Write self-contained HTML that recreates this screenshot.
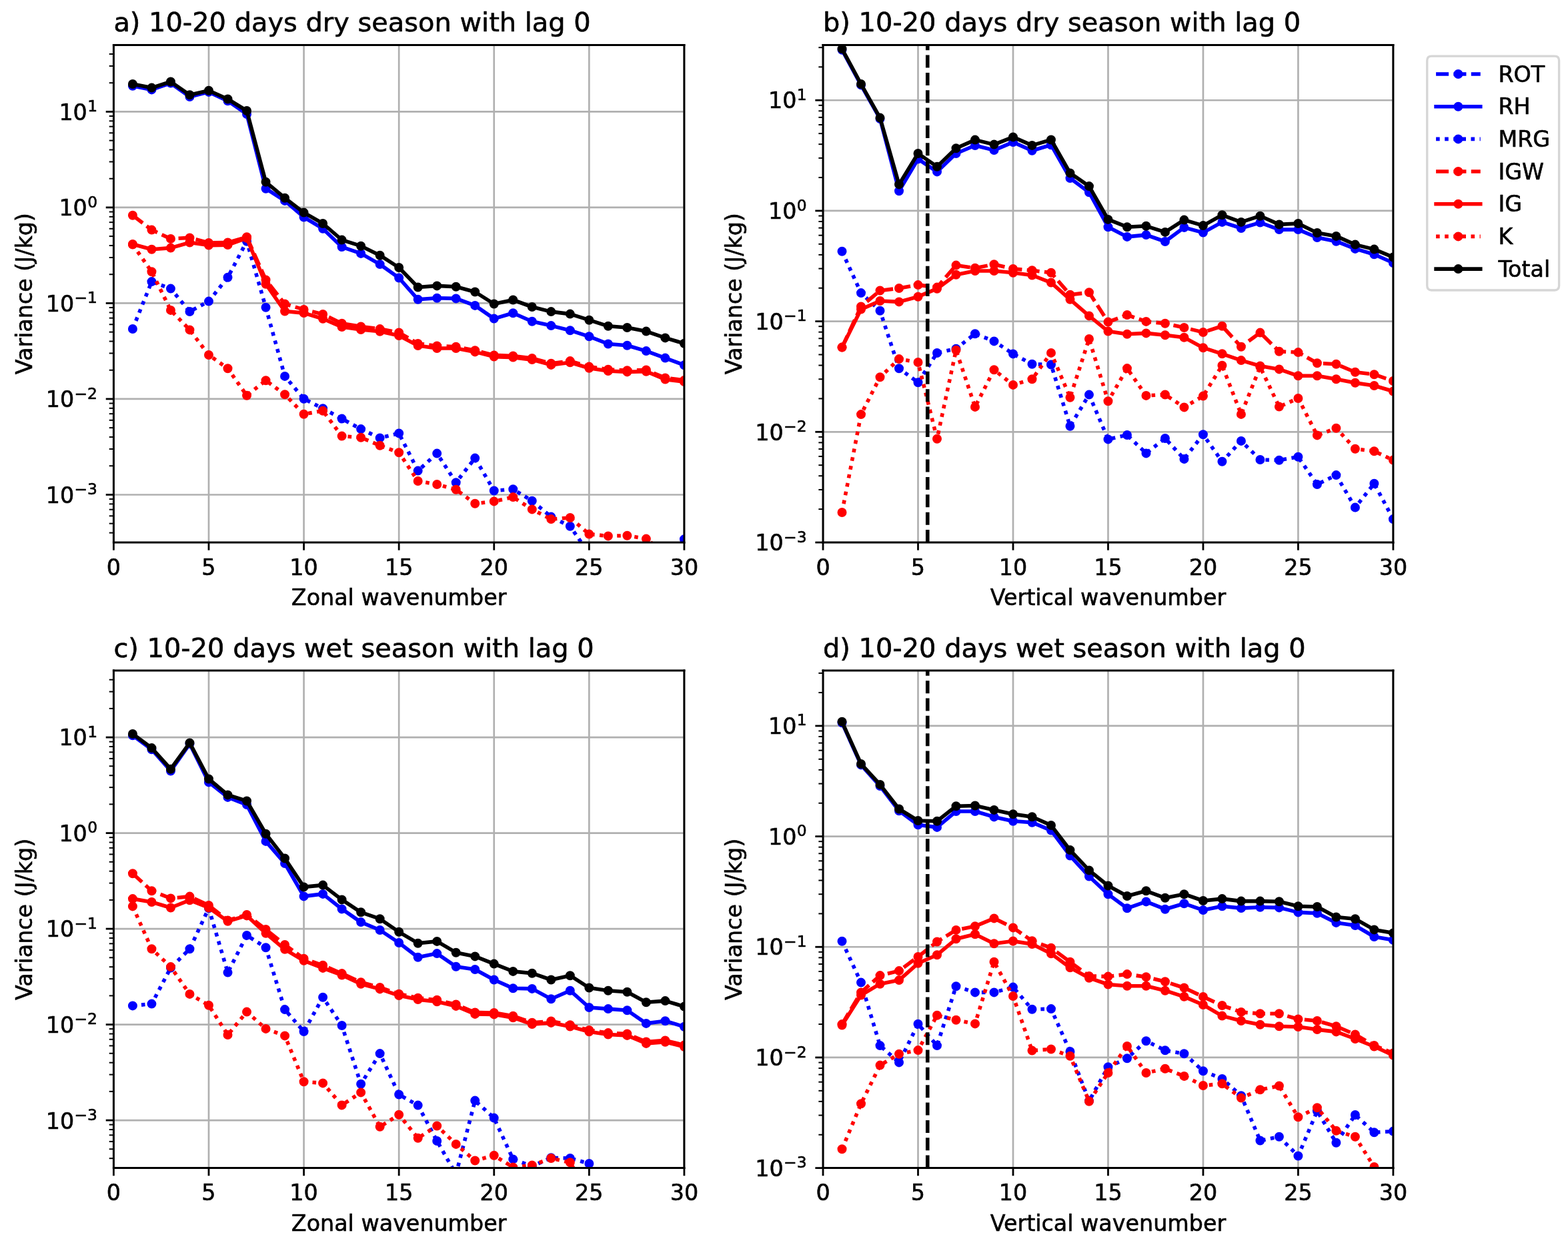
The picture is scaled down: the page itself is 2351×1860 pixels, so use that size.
<!DOCTYPE html>
<html><head><meta charset="utf-8"><title>Variance spectra</title>
<style>html,body{margin:0;padding:0;background:#fff;}svg{display:block;}svg text{stroke:#000;stroke-width:0.6px;stroke-linejoin:round;}</style></head>
<body>
<svg width="2351" height="1860" viewBox="0 0 2351 1860" version="1.1">
 
 <defs>
  <style type="text/css">*{stroke-linejoin: round; stroke-linecap: butt}</style>
 </defs>
 <g id="figure_1">
  <g id="patch_1">
   <path d="M 0 1860 
L 2351 1860 
L 2351 0 
L 0 0 
z
" style="fill: #ffffff"/>
  </g>
  <g id="axes_1">
   <g id="patch_2">
    <path d="M 170.4 813 
L 1025.9 813 
L 1025.9 67.4 
L 170.4 67.4 
z
" style="fill: #ffffff"/>
   </g>
   <g id="matplotlib.axis_1">
    <g id="xtick_1">
     <g id="line2d_1">
      <path d="M 170.4 813 
L 170.4 67.4 
" clip-path="url(#p8d8c2d2a24)" style="fill: none; stroke: #b0b0b0; stroke-width: 2.66664; stroke-linecap: square"/>
     </g>
     <g id="line2d_2">
      <defs>
       <path id="m4aa09e311d" d="M 0 0 
L 0 11.66655 
" style="stroke: #000000; stroke-width: 2.8"/>
      </defs>
      <g>
       <use href="#m4aa09e311d" x="170.4" y="813" style="stroke: #000000; stroke-width: 2.8"/>
      </g>
     </g>
     <g id="text_1">
      <text style="font-size: 33.33px; font-family: 'DejaVu Sans'; text-anchor: middle" x="170.4" y="861.658692" transform="rotate(-0 170.4 861.658692)">0</text>
     </g>
    </g>
    <g id="xtick_2">
     <g id="line2d_3">
      <path d="M 312.983333 813 
L 312.983333 67.4 
" clip-path="url(#p8d8c2d2a24)" style="fill: none; stroke: #b0b0b0; stroke-width: 2.66664; stroke-linecap: square"/>
     </g>
     <g id="line2d_4">
      <g>
       <use href="#m4aa09e311d" x="312.983333" y="813" style="stroke: #000000; stroke-width: 2.8"/>
      </g>
     </g>
     <g id="text_2">
      <text style="font-size: 33.33px; font-family: 'DejaVu Sans'; text-anchor: middle" x="312.983333" y="861.658692" transform="rotate(-0 312.983333 861.658692)">5</text>
     </g>
    </g>
    <g id="xtick_3">
     <g id="line2d_5">
      <path d="M 455.566667 813 
L 455.566667 67.4 
" clip-path="url(#p8d8c2d2a24)" style="fill: none; stroke: #b0b0b0; stroke-width: 2.66664; stroke-linecap: square"/>
     </g>
     <g id="line2d_6">
      <g>
       <use href="#m4aa09e311d" x="455.566667" y="813" style="stroke: #000000; stroke-width: 2.8"/>
      </g>
     </g>
     <g id="text_3">
      <text style="font-size: 33.33px; font-family: 'DejaVu Sans'; text-anchor: middle" x="455.566667" y="861.658692" transform="rotate(-0 455.566667 861.658692)">10</text>
     </g>
    </g>
    <g id="xtick_4">
     <g id="line2d_7">
      <path d="M 598.15 813 
L 598.15 67.4 
" clip-path="url(#p8d8c2d2a24)" style="fill: none; stroke: #b0b0b0; stroke-width: 2.66664; stroke-linecap: square"/>
     </g>
     <g id="line2d_8">
      <g>
       <use href="#m4aa09e311d" x="598.15" y="813" style="stroke: #000000; stroke-width: 2.8"/>
      </g>
     </g>
     <g id="text_4">
      <text style="font-size: 33.33px; font-family: 'DejaVu Sans'; text-anchor: middle" x="598.15" y="861.658692" transform="rotate(-0 598.15 861.658692)">15</text>
     </g>
    </g>
    <g id="xtick_5">
     <g id="line2d_9">
      <path d="M 740.733333 813 
L 740.733333 67.4 
" clip-path="url(#p8d8c2d2a24)" style="fill: none; stroke: #b0b0b0; stroke-width: 2.66664; stroke-linecap: square"/>
     </g>
     <g id="line2d_10">
      <g>
       <use href="#m4aa09e311d" x="740.733333" y="813" style="stroke: #000000; stroke-width: 2.8"/>
      </g>
     </g>
     <g id="text_5">
      <text style="font-size: 33.33px; font-family: 'DejaVu Sans'; text-anchor: middle" x="740.733333" y="861.658692" transform="rotate(-0 740.733333 861.658692)">20</text>
     </g>
    </g>
    <g id="xtick_6">
     <g id="line2d_11">
      <path d="M 883.316667 813 
L 883.316667 67.4 
" clip-path="url(#p8d8c2d2a24)" style="fill: none; stroke: #b0b0b0; stroke-width: 2.66664; stroke-linecap: square"/>
     </g>
     <g id="line2d_12">
      <g>
       <use href="#m4aa09e311d" x="883.316667" y="813" style="stroke: #000000; stroke-width: 2.8"/>
      </g>
     </g>
     <g id="text_6">
      <text style="font-size: 33.33px; font-family: 'DejaVu Sans'; text-anchor: middle" x="883.316667" y="861.658692" transform="rotate(-0 883.316667 861.658692)">25</text>
     </g>
    </g>
    <g id="xtick_7">
     <g id="line2d_13">
      <path d="M 1025.9 813 
L 1025.9 67.4 
" clip-path="url(#p8d8c2d2a24)" style="fill: none; stroke: #b0b0b0; stroke-width: 2.66664; stroke-linecap: square"/>
     </g>
     <g id="line2d_14">
      <g>
       <use href="#m4aa09e311d" x="1025.9" y="813" style="stroke: #000000; stroke-width: 2.8"/>
      </g>
     </g>
     <g id="text_7">
      <text style="font-size: 33.33px; font-family: 'DejaVu Sans'; text-anchor: middle" x="1025.9" y="861.658692" transform="rotate(-0 1025.9 861.658692)">30</text>
     </g>
    </g>
    <g id="text_8">
     <text style="font-size: 33.33px; font-family: 'DejaVu Sans'; text-anchor: middle" x="598.15" y="907.249083" transform="rotate(-0 598.15 907.249083)">Zonal wavenumber</text>
    </g>
   </g>
   <g id="matplotlib.axis_2">
    <g id="ytick_1">
     <g id="line2d_15">
      <path d="M 170.4 741.46086 
L 1025.9 741.46086 
" clip-path="url(#p8d8c2d2a24)" style="fill: none; stroke: #b0b0b0; stroke-width: 2.66664; stroke-linecap: square"/>
     </g>
     <g id="line2d_16">
      <defs>
       <path id="m0a65cb3548" d="M 0 0 
L -11.66655 0 
" style="stroke: #000000; stroke-width: 2.8"/>
      </defs>
      <g>
       <use href="#m0a65cb3548" x="170.4" y="741.46086" style="stroke: #000000; stroke-width: 2.8"/>
      </g>
     </g>
     <g id="text_9">
      
      <g transform="translate(68.7414 754.123656)">
       <text>
        <tspan x="0" y="-0.217188" style="font-size: 33.33px; font-family: 'DejaVu Sans'">1</tspan>
        <tspan x="21.234192" y="-0.217188" style="font-size: 33.33px; font-family: 'DejaVu Sans'">0</tspan>
        <tspan x="42.784204" y="-12.85" style="font-size: 23.331px; font-family: 'DejaVu Sans'">−</tspan>
        <tspan x="62.359424" y="-12.85" style="font-size: 23.331px; font-family: 'DejaVu Sans'">3</tspan>
       </text>
      </g>
     </g>
    </g>
    <g id="ytick_2">
     <g id="line2d_17">
      <path d="M 170.4 597.952055 
L 1025.9 597.952055 
" clip-path="url(#p8d8c2d2a24)" style="fill: none; stroke: #b0b0b0; stroke-width: 2.66664; stroke-linecap: square"/>
     </g>
     <g id="line2d_18">
      <g>
       <use href="#m0a65cb3548" x="170.4" y="597.952055" style="stroke: #000000; stroke-width: 2.8"/>
      </g>
     </g>
     <g id="text_10">
      
      <g transform="translate(68.7414 610.614851)">
       <text>
        <tspan x="0" y="-0.217188" style="font-size: 33.33px; font-family: 'DejaVu Sans'">1</tspan>
        <tspan x="21.234192" y="-0.217188" style="font-size: 33.33px; font-family: 'DejaVu Sans'">0</tspan>
        <tspan x="42.784204" y="-12.85" style="font-size: 23.331px; font-family: 'DejaVu Sans'">−</tspan>
        <tspan x="62.359424" y="-12.85" style="font-size: 23.331px; font-family: 'DejaVu Sans'">2</tspan>
       </text>
      </g>
     </g>
    </g>
    <g id="ytick_3">
     <g id="line2d_19">
      <path d="M 170.4 454.443249 
L 1025.9 454.443249 
" clip-path="url(#p8d8c2d2a24)" style="fill: none; stroke: #b0b0b0; stroke-width: 2.66664; stroke-linecap: square"/>
     </g>
     <g id="line2d_20">
      <g>
       <use href="#m0a65cb3548" x="170.4" y="454.443249" style="stroke: #000000; stroke-width: 2.8"/>
      </g>
     </g>
     <g id="text_11">
      
      <g transform="translate(68.7414 467.106045)">
       <text>
        <tspan x="0" y="-0.523438" style="font-size: 33.33px; font-family: 'DejaVu Sans'">1</tspan>
        <tspan x="21.234192" y="-0.523438" style="font-size: 33.33px; font-family: 'DejaVu Sans'">0</tspan>
        <tspan x="42.784204" y="-13.15625" style="font-size: 23.331px; font-family: 'DejaVu Sans'">−</tspan>
        <tspan x="62.359424" y="-13.15625" style="font-size: 23.331px; font-family: 'DejaVu Sans'">1</tspan>
       </text>
      </g>
     </g>
    </g>
    <g id="ytick_4">
     <g id="line2d_21">
      <path d="M 170.4 310.934443 
L 1025.9 310.934443 
" clip-path="url(#p8d8c2d2a24)" style="fill: none; stroke: #b0b0b0; stroke-width: 2.66664; stroke-linecap: square"/>
     </g>
     <g id="line2d_22">
      <g>
       <use href="#m0a65cb3548" x="170.4" y="310.934443" style="stroke: #000000; stroke-width: 2.8"/>
      </g>
     </g>
     <g id="text_12">
      
      <g transform="translate(88.4061 323.597239)">
       <text>
        <tspan x="0" y="-0.217188" style="font-size: 33.33px; font-family: 'DejaVu Sans'">1</tspan>
        <tspan x="21.234192" y="-0.217188" style="font-size: 33.33px; font-family: 'DejaVu Sans'">0</tspan>
        <tspan x="42.784204" y="-12.85" style="font-size: 23.331px; font-family: 'DejaVu Sans'">0</tspan>
       </text>
      </g>
     </g>
    </g>
    <g id="ytick_5">
     <g id="line2d_23">
      <path d="M 170.4 167.425638 
L 1025.9 167.425638 
" clip-path="url(#p8d8c2d2a24)" style="fill: none; stroke: #b0b0b0; stroke-width: 2.66664; stroke-linecap: square"/>
     </g>
     <g id="line2d_24">
      <g>
       <use href="#m0a65cb3548" x="170.4" y="167.425638" style="stroke: #000000; stroke-width: 2.8"/>
      </g>
     </g>
     <g id="text_13">
      
      <g transform="translate(88.4061 180.088434)">
       <text>
        <tspan x="0" y="-0.523438" style="font-size: 33.33px; font-family: 'DejaVu Sans'">1</tspan>
        <tspan x="21.234192" y="-0.523438" style="font-size: 33.33px; font-family: 'DejaVu Sans'">0</tspan>
        <tspan x="42.784204" y="-13.15625" style="font-size: 23.331px; font-family: 'DejaVu Sans'">1</tspan>
       </text>
      </g>
     </g>
    </g>
    <g id="ytick_6">
     <g id="line2d_25">
      <defs>
       <path id="mfb48398925" d="M 0 0 
L -6.6666 0 
" style="stroke: #000000; stroke-width: 2"/>
      </defs>
      <g>
       <use href="#mfb48398925" x="170.4" y="798.568756" style="stroke: #000000; stroke-width: 2"/>
      </g>
     </g>
    </g>
    <g id="ytick_7">
     <g id="line2d_26">
      <g>
       <use href="#mfb48398925" x="170.4" y="784.661316" style="stroke: #000000; stroke-width: 2"/>
      </g>
     </g>
    </g>
    <g id="ytick_8">
     <g id="line2d_27">
      <g>
       <use href="#mfb48398925" x="170.4" y="773.298109" style="stroke: #000000; stroke-width: 2"/>
      </g>
     </g>
    </g>
    <g id="ytick_9">
     <g id="line2d_28">
      <g>
       <use href="#mfb48398925" x="170.4" y="763.690656" style="stroke: #000000; stroke-width: 2"/>
      </g>
     </g>
    </g>
    <g id="ytick_10">
     <g id="line2d_29">
      <g>
       <use href="#mfb48398925" x="170.4" y="755.368301" style="stroke: #000000; stroke-width: 2"/>
      </g>
     </g>
    </g>
    <g id="ytick_11">
     <g id="line2d_30">
      <g>
       <use href="#mfb48398925" x="170.4" y="748.027463" style="stroke: #000000; stroke-width: 2"/>
      </g>
     </g>
    </g>
    <g id="ytick_12">
     <g id="line2d_31">
      <g>
       <use href="#mfb48398925" x="170.4" y="698.260405" style="stroke: #000000; stroke-width: 2"/>
      </g>
     </g>
    </g>
    <g id="ytick_13">
     <g id="line2d_32">
      <g>
       <use href="#mfb48398925" x="170.4" y="672.989759" style="stroke: #000000; stroke-width: 2"/>
      </g>
     </g>
    </g>
    <g id="ytick_14">
     <g id="line2d_33">
      <g>
       <use href="#mfb48398925" x="170.4" y="655.05995" style="stroke: #000000; stroke-width: 2"/>
      </g>
     </g>
    </g>
    <g id="ytick_15">
     <g id="line2d_34">
      <g>
       <use href="#mfb48398925" x="170.4" y="641.15251" style="stroke: #000000; stroke-width: 2"/>
      </g>
     </g>
    </g>
    <g id="ytick_16">
     <g id="line2d_35">
      <g>
       <use href="#mfb48398925" x="170.4" y="629.789304" style="stroke: #000000; stroke-width: 2"/>
      </g>
     </g>
    </g>
    <g id="ytick_17">
     <g id="line2d_36">
      <g>
       <use href="#mfb48398925" x="170.4" y="620.18185" style="stroke: #000000; stroke-width: 2"/>
      </g>
     </g>
    </g>
    <g id="ytick_18">
     <g id="line2d_37">
      <g>
       <use href="#mfb48398925" x="170.4" y="611.859495" style="stroke: #000000; stroke-width: 2"/>
      </g>
     </g>
    </g>
    <g id="ytick_19">
     <g id="line2d_38">
      <g>
       <use href="#mfb48398925" x="170.4" y="604.518657" style="stroke: #000000; stroke-width: 2"/>
      </g>
     </g>
    </g>
    <g id="ytick_20">
     <g id="line2d_39">
      <g>
       <use href="#mfb48398925" x="170.4" y="554.7516" style="stroke: #000000; stroke-width: 2"/>
      </g>
     </g>
    </g>
    <g id="ytick_21">
     <g id="line2d_40">
      <g>
       <use href="#mfb48398925" x="170.4" y="529.480953" style="stroke: #000000; stroke-width: 2"/>
      </g>
     </g>
    </g>
    <g id="ytick_22">
     <g id="line2d_41">
      <g>
       <use href="#mfb48398925" x="170.4" y="511.551144" style="stroke: #000000; stroke-width: 2"/>
      </g>
     </g>
    </g>
    <g id="ytick_23">
     <g id="line2d_42">
      <g>
       <use href="#mfb48398925" x="170.4" y="497.643704" style="stroke: #000000; stroke-width: 2"/>
      </g>
     </g>
    </g>
    <g id="ytick_24">
     <g id="line2d_43">
      <g>
       <use href="#mfb48398925" x="170.4" y="486.280498" style="stroke: #000000; stroke-width: 2"/>
      </g>
     </g>
    </g>
    <g id="ytick_25">
     <g id="line2d_44">
      <g>
       <use href="#mfb48398925" x="170.4" y="476.673044" style="stroke: #000000; stroke-width: 2"/>
      </g>
     </g>
    </g>
    <g id="ytick_26">
     <g id="line2d_45">
      <g>
       <use href="#mfb48398925" x="170.4" y="468.350689" style="stroke: #000000; stroke-width: 2"/>
      </g>
     </g>
    </g>
    <g id="ytick_27">
     <g id="line2d_46">
      <g>
       <use href="#mfb48398925" x="170.4" y="461.009852" style="stroke: #000000; stroke-width: 2"/>
      </g>
     </g>
    </g>
    <g id="ytick_28">
     <g id="line2d_47">
      <g>
       <use href="#mfb48398925" x="170.4" y="411.242794" style="stroke: #000000; stroke-width: 2"/>
      </g>
     </g>
    </g>
    <g id="ytick_29">
     <g id="line2d_48">
      <g>
       <use href="#mfb48398925" x="170.4" y="385.972148" style="stroke: #000000; stroke-width: 2"/>
      </g>
     </g>
    </g>
    <g id="ytick_30">
     <g id="line2d_49">
      <g>
       <use href="#mfb48398925" x="170.4" y="368.042339" style="stroke: #000000; stroke-width: 2"/>
      </g>
     </g>
    </g>
    <g id="ytick_31">
     <g id="line2d_50">
      <g>
       <use href="#mfb48398925" x="170.4" y="354.134898" style="stroke: #000000; stroke-width: 2"/>
      </g>
     </g>
    </g>
    <g id="ytick_32">
     <g id="line2d_51">
      <g>
       <use href="#mfb48398925" x="170.4" y="342.771692" style="stroke: #000000; stroke-width: 2"/>
      </g>
     </g>
    </g>
    <g id="ytick_33">
     <g id="line2d_52">
      <g>
       <use href="#mfb48398925" x="170.4" y="333.164239" style="stroke: #000000; stroke-width: 2"/>
      </g>
     </g>
    </g>
    <g id="ytick_34">
     <g id="line2d_53">
      <g>
       <use href="#mfb48398925" x="170.4" y="324.841883" style="stroke: #000000; stroke-width: 2"/>
      </g>
     </g>
    </g>
    <g id="ytick_35">
     <g id="line2d_54">
      <g>
       <use href="#mfb48398925" x="170.4" y="317.501046" style="stroke: #000000; stroke-width: 2"/>
      </g>
     </g>
    </g>
    <g id="ytick_36">
     <g id="line2d_55">
      <g>
       <use href="#mfb48398925" x="170.4" y="267.733988" style="stroke: #000000; stroke-width: 2"/>
      </g>
     </g>
    </g>
    <g id="ytick_37">
     <g id="line2d_56">
      <g>
       <use href="#mfb48398925" x="170.4" y="242.463342" style="stroke: #000000; stroke-width: 2"/>
      </g>
     </g>
    </g>
    <g id="ytick_38">
     <g id="line2d_57">
      <g>
       <use href="#mfb48398925" x="170.4" y="224.533533" style="stroke: #000000; stroke-width: 2"/>
      </g>
     </g>
    </g>
    <g id="ytick_39">
     <g id="line2d_58">
      <g>
       <use href="#mfb48398925" x="170.4" y="210.626093" style="stroke: #000000; stroke-width: 2"/>
      </g>
     </g>
    </g>
    <g id="ytick_40">
     <g id="line2d_59">
      <g>
       <use href="#mfb48398925" x="170.4" y="199.262887" style="stroke: #000000; stroke-width: 2"/>
      </g>
     </g>
    </g>
    <g id="ytick_41">
     <g id="line2d_60">
      <g>
       <use href="#mfb48398925" x="170.4" y="189.655433" style="stroke: #000000; stroke-width: 2"/>
      </g>
     </g>
    </g>
    <g id="ytick_42">
     <g id="line2d_61">
      <g>
       <use href="#mfb48398925" x="170.4" y="181.333078" style="stroke: #000000; stroke-width: 2"/>
      </g>
     </g>
    </g>
    <g id="ytick_43">
     <g id="line2d_62">
      <g>
       <use href="#mfb48398925" x="170.4" y="173.99224" style="stroke: #000000; stroke-width: 2"/>
      </g>
     </g>
    </g>
    <g id="ytick_44">
     <g id="line2d_63">
      <g>
       <use href="#mfb48398925" x="170.4" y="124.225182" style="stroke: #000000; stroke-width: 2"/>
      </g>
     </g>
    </g>
    <g id="ytick_45">
     <g id="line2d_64">
      <g>
       <use href="#mfb48398925" x="170.4" y="98.954536" style="stroke: #000000; stroke-width: 2"/>
      </g>
     </g>
    </g>
    <g id="ytick_46">
     <g id="line2d_65">
      <g>
       <use href="#mfb48398925" x="170.4" y="81.024727" style="stroke: #000000; stroke-width: 2"/>
      </g>
     </g>
    </g>
    <g id="text_14">
     <text style="font-size: 33.33px; font-family: 'DejaVu Sans'; text-anchor: middle" x="48.476602" y="440.2" transform="rotate(-90 48.476602 440.2)">Variance (J/kg)</text>
    </g>
   </g>
   <g id="line2d_66">
    <path d="M 198.916667 1602.513695 
L 227.433333 1602.513695 
L 255.95 1602.513695 
L 284.466667 1602.513695 
L 312.983333 1602.513695 
L 341.5 1602.513695 
L 370.016667 1602.513695 
L 398.533333 1602.513695 
L 427.05 1602.513695 
L 455.566667 1602.513695 
L 484.083333 1602.513695 
L 512.6 1602.513695 
L 541.116667 1602.513695 
L 569.633333 1602.513695 
L 598.15 1602.513695 
L 626.666667 1602.513695 
L 655.183333 1602.513695 
L 683.7 1602.513695 
L 712.216667 1602.513695 
L 740.733333 1602.513695 
L 769.25 1602.513695 
L 797.766667 1602.513695 
L 826.283333 1602.513695 
L 854.8 1602.513695 
L 883.316667 1602.513695 
L 911.833333 1602.513695 
L 940.35 1602.513695 
L 968.866667 1602.513695 
L 997.383333 1602.513695 
L 1025.9 1602.513695 
" clip-path="url(#p8d8c2d2a24)" style="fill: none; stroke-dasharray: 19,7.35; stroke-dashoffset: 0; stroke: #0000ff; stroke-width: 5.6"/>
    <defs>
     <path id="m1bc015388f" d="M 0 5.25 
C 1.392316 5.25 2.727794 4.696827 3.712311 3.712311 
C 4.696827 2.727794 5.25 1.392316 5.25 0 
C 5.25 -1.392316 4.696827 -2.727794 3.712311 -3.712311 
C 2.727794 -4.696827 1.392316 -5.25 0 -5.25 
C -1.392316 -5.25 -2.727794 -4.696827 -3.712311 -3.712311 
C -4.696827 -2.727794 -5.25 -1.392316 -5.25 0 
C -5.25 1.392316 -4.696827 2.727794 -3.712311 3.712311 
C -2.727794 4.696827 -1.392316 5.25 0 5.25 
z
" style="stroke: #0000ff; stroke-width: 3.5"/>
    </defs>
    <g clip-path="url(#p8d8c2d2a24)">
     <use href="#m1bc015388f" x="198.916667" y="1602.513695" style="fill: #0000ff; stroke: #0000ff; stroke-width: 3.5"/>
     <use href="#m1bc015388f" x="227.433333" y="1602.513695" style="fill: #0000ff; stroke: #0000ff; stroke-width: 3.5"/>
     <use href="#m1bc015388f" x="255.95" y="1602.513695" style="fill: #0000ff; stroke: #0000ff; stroke-width: 3.5"/>
     <use href="#m1bc015388f" x="284.466667" y="1602.513695" style="fill: #0000ff; stroke: #0000ff; stroke-width: 3.5"/>
     <use href="#m1bc015388f" x="312.983333" y="1602.513695" style="fill: #0000ff; stroke: #0000ff; stroke-width: 3.5"/>
     <use href="#m1bc015388f" x="341.5" y="1602.513695" style="fill: #0000ff; stroke: #0000ff; stroke-width: 3.5"/>
     <use href="#m1bc015388f" x="370.016667" y="1602.513695" style="fill: #0000ff; stroke: #0000ff; stroke-width: 3.5"/>
     <use href="#m1bc015388f" x="398.533333" y="1602.513695" style="fill: #0000ff; stroke: #0000ff; stroke-width: 3.5"/>
     <use href="#m1bc015388f" x="427.05" y="1602.513695" style="fill: #0000ff; stroke: #0000ff; stroke-width: 3.5"/>
     <use href="#m1bc015388f" x="455.566667" y="1602.513695" style="fill: #0000ff; stroke: #0000ff; stroke-width: 3.5"/>
     <use href="#m1bc015388f" x="484.083333" y="1602.513695" style="fill: #0000ff; stroke: #0000ff; stroke-width: 3.5"/>
     <use href="#m1bc015388f" x="512.6" y="1602.513695" style="fill: #0000ff; stroke: #0000ff; stroke-width: 3.5"/>
     <use href="#m1bc015388f" x="541.116667" y="1602.513695" style="fill: #0000ff; stroke: #0000ff; stroke-width: 3.5"/>
     <use href="#m1bc015388f" x="569.633333" y="1602.513695" style="fill: #0000ff; stroke: #0000ff; stroke-width: 3.5"/>
     <use href="#m1bc015388f" x="598.15" y="1602.513695" style="fill: #0000ff; stroke: #0000ff; stroke-width: 3.5"/>
     <use href="#m1bc015388f" x="626.666667" y="1602.513695" style="fill: #0000ff; stroke: #0000ff; stroke-width: 3.5"/>
     <use href="#m1bc015388f" x="655.183333" y="1602.513695" style="fill: #0000ff; stroke: #0000ff; stroke-width: 3.5"/>
     <use href="#m1bc015388f" x="683.7" y="1602.513695" style="fill: #0000ff; stroke: #0000ff; stroke-width: 3.5"/>
     <use href="#m1bc015388f" x="712.216667" y="1602.513695" style="fill: #0000ff; stroke: #0000ff; stroke-width: 3.5"/>
     <use href="#m1bc015388f" x="740.733333" y="1602.513695" style="fill: #0000ff; stroke: #0000ff; stroke-width: 3.5"/>
     <use href="#m1bc015388f" x="769.25" y="1602.513695" style="fill: #0000ff; stroke: #0000ff; stroke-width: 3.5"/>
     <use href="#m1bc015388f" x="797.766667" y="1602.513695" style="fill: #0000ff; stroke: #0000ff; stroke-width: 3.5"/>
     <use href="#m1bc015388f" x="826.283333" y="1602.513695" style="fill: #0000ff; stroke: #0000ff; stroke-width: 3.5"/>
     <use href="#m1bc015388f" x="854.8" y="1602.513695" style="fill: #0000ff; stroke: #0000ff; stroke-width: 3.5"/>
     <use href="#m1bc015388f" x="883.316667" y="1602.513695" style="fill: #0000ff; stroke: #0000ff; stroke-width: 3.5"/>
     <use href="#m1bc015388f" x="911.833333" y="1602.513695" style="fill: #0000ff; stroke: #0000ff; stroke-width: 3.5"/>
     <use href="#m1bc015388f" x="940.35" y="1602.513695" style="fill: #0000ff; stroke: #0000ff; stroke-width: 3.5"/>
     <use href="#m1bc015388f" x="968.866667" y="1602.513695" style="fill: #0000ff; stroke: #0000ff; stroke-width: 3.5"/>
     <use href="#m1bc015388f" x="997.383333" y="1602.513695" style="fill: #0000ff; stroke: #0000ff; stroke-width: 3.5"/>
     <use href="#m1bc015388f" x="1025.9" y="1602.513695" style="fill: #0000ff; stroke: #0000ff; stroke-width: 3.5"/>
    </g>
   </g>
   <g id="line2d_67">
    <path d="M 198.916667 128.8 
L 227.433333 134.4 
L 255.95 124.6 
L 284.466667 145 
L 312.983333 137.9 
L 341.5 151.3 
L 370.016667 171 
L 398.533333 282.7 
L 427.05 300.9 
L 455.566667 325.5 
L 484.083333 342.7 
L 512.6 370.1 
L 541.116667 379.9 
L 569.633333 396.1 
L 598.15 416.5 
L 626.666667 448.8 
L 655.183333 446.7 
L 683.7 447.4 
L 712.216667 457.9 
L 740.733333 477.6 
L 769.25 469.2 
L 797.766667 481.8 
L 826.283333 488.1 
L 854.8 495.2 
L 883.316667 504.3 
L 911.833333 515.5 
L 940.35 517.7 
L 968.866667 526.1 
L 997.383333 536.6 
L 1025.9 547.2 
" clip-path="url(#p8d8c2d2a24)" style="fill: none; stroke: #0000ff; stroke-width: 5.6; stroke-linecap: square"/>
    <g clip-path="url(#p8d8c2d2a24)">
     <use href="#m1bc015388f" x="198.916667" y="128.8" style="fill: #0000ff; stroke: #0000ff; stroke-width: 3.5"/>
     <use href="#m1bc015388f" x="227.433333" y="134.4" style="fill: #0000ff; stroke: #0000ff; stroke-width: 3.5"/>
     <use href="#m1bc015388f" x="255.95" y="124.6" style="fill: #0000ff; stroke: #0000ff; stroke-width: 3.5"/>
     <use href="#m1bc015388f" x="284.466667" y="145" style="fill: #0000ff; stroke: #0000ff; stroke-width: 3.5"/>
     <use href="#m1bc015388f" x="312.983333" y="137.9" style="fill: #0000ff; stroke: #0000ff; stroke-width: 3.5"/>
     <use href="#m1bc015388f" x="341.5" y="151.3" style="fill: #0000ff; stroke: #0000ff; stroke-width: 3.5"/>
     <use href="#m1bc015388f" x="370.016667" y="171" style="fill: #0000ff; stroke: #0000ff; stroke-width: 3.5"/>
     <use href="#m1bc015388f" x="398.533333" y="282.7" style="fill: #0000ff; stroke: #0000ff; stroke-width: 3.5"/>
     <use href="#m1bc015388f" x="427.05" y="300.9" style="fill: #0000ff; stroke: #0000ff; stroke-width: 3.5"/>
     <use href="#m1bc015388f" x="455.566667" y="325.5" style="fill: #0000ff; stroke: #0000ff; stroke-width: 3.5"/>
     <use href="#m1bc015388f" x="484.083333" y="342.7" style="fill: #0000ff; stroke: #0000ff; stroke-width: 3.5"/>
     <use href="#m1bc015388f" x="512.6" y="370.1" style="fill: #0000ff; stroke: #0000ff; stroke-width: 3.5"/>
     <use href="#m1bc015388f" x="541.116667" y="379.9" style="fill: #0000ff; stroke: #0000ff; stroke-width: 3.5"/>
     <use href="#m1bc015388f" x="569.633333" y="396.1" style="fill: #0000ff; stroke: #0000ff; stroke-width: 3.5"/>
     <use href="#m1bc015388f" x="598.15" y="416.5" style="fill: #0000ff; stroke: #0000ff; stroke-width: 3.5"/>
     <use href="#m1bc015388f" x="626.666667" y="448.8" style="fill: #0000ff; stroke: #0000ff; stroke-width: 3.5"/>
     <use href="#m1bc015388f" x="655.183333" y="446.7" style="fill: #0000ff; stroke: #0000ff; stroke-width: 3.5"/>
     <use href="#m1bc015388f" x="683.7" y="447.4" style="fill: #0000ff; stroke: #0000ff; stroke-width: 3.5"/>
     <use href="#m1bc015388f" x="712.216667" y="457.9" style="fill: #0000ff; stroke: #0000ff; stroke-width: 3.5"/>
     <use href="#m1bc015388f" x="740.733333" y="477.6" style="fill: #0000ff; stroke: #0000ff; stroke-width: 3.5"/>
     <use href="#m1bc015388f" x="769.25" y="469.2" style="fill: #0000ff; stroke: #0000ff; stroke-width: 3.5"/>
     <use href="#m1bc015388f" x="797.766667" y="481.8" style="fill: #0000ff; stroke: #0000ff; stroke-width: 3.5"/>
     <use href="#m1bc015388f" x="826.283333" y="488.1" style="fill: #0000ff; stroke: #0000ff; stroke-width: 3.5"/>
     <use href="#m1bc015388f" x="854.8" y="495.2" style="fill: #0000ff; stroke: #0000ff; stroke-width: 3.5"/>
     <use href="#m1bc015388f" x="883.316667" y="504.3" style="fill: #0000ff; stroke: #0000ff; stroke-width: 3.5"/>
     <use href="#m1bc015388f" x="911.833333" y="515.5" style="fill: #0000ff; stroke: #0000ff; stroke-width: 3.5"/>
     <use href="#m1bc015388f" x="940.35" y="517.7" style="fill: #0000ff; stroke: #0000ff; stroke-width: 3.5"/>
     <use href="#m1bc015388f" x="968.866667" y="526.1" style="fill: #0000ff; stroke: #0000ff; stroke-width: 3.5"/>
     <use href="#m1bc015388f" x="997.383333" y="536.6" style="fill: #0000ff; stroke: #0000ff; stroke-width: 3.5"/>
     <use href="#m1bc015388f" x="1025.9" y="547.2" style="fill: #0000ff; stroke: #0000ff; stroke-width: 3.5"/>
    </g>
   </g>
   <g id="line2d_68">
    <path d="M 198.916667 493 
L 227.433333 422.1 
L 255.95 432.6 
L 284.466667 467 
L 312.983333 451.6 
L 341.5 415.8 
L 370.016667 361.7 
L 398.533333 460.7 
L 427.05 563.9 
L 455.566667 597.7 
L 484.083333 612.2 
L 512.6 627.6 
L 541.116667 643.1 
L 569.633333 656.4 
L 598.15 649.4 
L 626.666667 705.6 
L 655.183333 679.6 
L 683.7 723.2 
L 712.216667 686.6 
L 740.733333 735.5 
L 769.25 733.2 
L 797.766667 750.7 
L 826.283333 774.6 
L 854.8 788.7 
L 883.316667 830 
L 911.833333 850 
L 940.35 860 
L 968.866667 870 
L 997.383333 870 
L 1025.9 808.3 
" clip-path="url(#p8d8c2d2a24)" style="fill: none; stroke-dasharray: 5.6,7.5; stroke-dashoffset: 0; stroke: #0000ff; stroke-width: 5.6"/>
    <g clip-path="url(#p8d8c2d2a24)">
     <use href="#m1bc015388f" x="198.916667" y="493" style="fill: #0000ff; stroke: #0000ff; stroke-width: 3.5"/>
     <use href="#m1bc015388f" x="227.433333" y="422.1" style="fill: #0000ff; stroke: #0000ff; stroke-width: 3.5"/>
     <use href="#m1bc015388f" x="255.95" y="432.6" style="fill: #0000ff; stroke: #0000ff; stroke-width: 3.5"/>
     <use href="#m1bc015388f" x="284.466667" y="467" style="fill: #0000ff; stroke: #0000ff; stroke-width: 3.5"/>
     <use href="#m1bc015388f" x="312.983333" y="451.6" style="fill: #0000ff; stroke: #0000ff; stroke-width: 3.5"/>
     <use href="#m1bc015388f" x="341.5" y="415.8" style="fill: #0000ff; stroke: #0000ff; stroke-width: 3.5"/>
     <use href="#m1bc015388f" x="370.016667" y="361.7" style="fill: #0000ff; stroke: #0000ff; stroke-width: 3.5"/>
     <use href="#m1bc015388f" x="398.533333" y="460.7" style="fill: #0000ff; stroke: #0000ff; stroke-width: 3.5"/>
     <use href="#m1bc015388f" x="427.05" y="563.9" style="fill: #0000ff; stroke: #0000ff; stroke-width: 3.5"/>
     <use href="#m1bc015388f" x="455.566667" y="597.7" style="fill: #0000ff; stroke: #0000ff; stroke-width: 3.5"/>
     <use href="#m1bc015388f" x="484.083333" y="612.2" style="fill: #0000ff; stroke: #0000ff; stroke-width: 3.5"/>
     <use href="#m1bc015388f" x="512.6" y="627.6" style="fill: #0000ff; stroke: #0000ff; stroke-width: 3.5"/>
     <use href="#m1bc015388f" x="541.116667" y="643.1" style="fill: #0000ff; stroke: #0000ff; stroke-width: 3.5"/>
     <use href="#m1bc015388f" x="569.633333" y="656.4" style="fill: #0000ff; stroke: #0000ff; stroke-width: 3.5"/>
     <use href="#m1bc015388f" x="598.15" y="649.4" style="fill: #0000ff; stroke: #0000ff; stroke-width: 3.5"/>
     <use href="#m1bc015388f" x="626.666667" y="705.6" style="fill: #0000ff; stroke: #0000ff; stroke-width: 3.5"/>
     <use href="#m1bc015388f" x="655.183333" y="679.6" style="fill: #0000ff; stroke: #0000ff; stroke-width: 3.5"/>
     <use href="#m1bc015388f" x="683.7" y="723.2" style="fill: #0000ff; stroke: #0000ff; stroke-width: 3.5"/>
     <use href="#m1bc015388f" x="712.216667" y="686.6" style="fill: #0000ff; stroke: #0000ff; stroke-width: 3.5"/>
     <use href="#m1bc015388f" x="740.733333" y="735.5" style="fill: #0000ff; stroke: #0000ff; stroke-width: 3.5"/>
     <use href="#m1bc015388f" x="769.25" y="733.2" style="fill: #0000ff; stroke: #0000ff; stroke-width: 3.5"/>
     <use href="#m1bc015388f" x="797.766667" y="750.7" style="fill: #0000ff; stroke: #0000ff; stroke-width: 3.5"/>
     <use href="#m1bc015388f" x="826.283333" y="774.6" style="fill: #0000ff; stroke: #0000ff; stroke-width: 3.5"/>
     <use href="#m1bc015388f" x="854.8" y="788.7" style="fill: #0000ff; stroke: #0000ff; stroke-width: 3.5"/>
     <use href="#m1bc015388f" x="883.316667" y="830" style="fill: #0000ff; stroke: #0000ff; stroke-width: 3.5"/>
     <use href="#m1bc015388f" x="911.833333" y="850" style="fill: #0000ff; stroke: #0000ff; stroke-width: 3.5"/>
     <use href="#m1bc015388f" x="940.35" y="860" style="fill: #0000ff; stroke: #0000ff; stroke-width: 3.5"/>
     <use href="#m1bc015388f" x="968.866667" y="870" style="fill: #0000ff; stroke: #0000ff; stroke-width: 3.5"/>
     <use href="#m1bc015388f" x="997.383333" y="870" style="fill: #0000ff; stroke: #0000ff; stroke-width: 3.5"/>
     <use href="#m1bc015388f" x="1025.9" y="808.3" style="fill: #0000ff; stroke: #0000ff; stroke-width: 3.5"/>
    </g>
   </g>
   <g id="line2d_69">
    <path d="M 198.916667 322.7 
L 227.433333 344.6 
L 255.95 357.9 
L 284.466667 356.4 
L 312.983333 364 
L 341.5 363.5 
L 370.016667 355.3 
L 398.533333 419.5 
L 427.05 455.5 
L 455.566667 463.9 
L 484.083333 470.9 
L 512.6 484.8 
L 541.116667 489.5 
L 569.633333 493.1 
L 598.15 498.5 
L 626.666667 515 
L 655.183333 518.5 
L 683.7 519.8 
L 712.216667 525.2 
L 740.733333 532.4 
L 769.25 533.4 
L 797.766667 536.9 
L 826.283333 544.7 
L 854.8 541.1 
L 883.316667 549.6 
L 911.833333 553.8 
L 940.35 555.2 
L 968.866667 554.5 
L 997.383333 566.4 
L 1025.9 569.9 
" clip-path="url(#p8d8c2d2a24)" style="fill: none; stroke-dasharray: 19,7.35; stroke-dashoffset: 0; stroke: #ff0000; stroke-width: 5.6"/>
    <defs>
     <path id="ma22b54537e" d="M 0 5.25 
C 1.392316 5.25 2.727794 4.696827 3.712311 3.712311 
C 4.696827 2.727794 5.25 1.392316 5.25 0 
C 5.25 -1.392316 4.696827 -2.727794 3.712311 -3.712311 
C 2.727794 -4.696827 1.392316 -5.25 0 -5.25 
C -1.392316 -5.25 -2.727794 -4.696827 -3.712311 -3.712311 
C -4.696827 -2.727794 -5.25 -1.392316 -5.25 0 
C -5.25 1.392316 -4.696827 2.727794 -3.712311 3.712311 
C -2.727794 4.696827 -1.392316 5.25 0 5.25 
z
" style="stroke: #ff0000; stroke-width: 3.5"/>
    </defs>
    <g clip-path="url(#p8d8c2d2a24)">
     <use href="#ma22b54537e" x="198.916667" y="322.7" style="fill: #ff0000; stroke: #ff0000; stroke-width: 3.5"/>
     <use href="#ma22b54537e" x="227.433333" y="344.6" style="fill: #ff0000; stroke: #ff0000; stroke-width: 3.5"/>
     <use href="#ma22b54537e" x="255.95" y="357.9" style="fill: #ff0000; stroke: #ff0000; stroke-width: 3.5"/>
     <use href="#ma22b54537e" x="284.466667" y="356.4" style="fill: #ff0000; stroke: #ff0000; stroke-width: 3.5"/>
     <use href="#ma22b54537e" x="312.983333" y="364" style="fill: #ff0000; stroke: #ff0000; stroke-width: 3.5"/>
     <use href="#ma22b54537e" x="341.5" y="363.5" style="fill: #ff0000; stroke: #ff0000; stroke-width: 3.5"/>
     <use href="#ma22b54537e" x="370.016667" y="355.3" style="fill: #ff0000; stroke: #ff0000; stroke-width: 3.5"/>
     <use href="#ma22b54537e" x="398.533333" y="419.5" style="fill: #ff0000; stroke: #ff0000; stroke-width: 3.5"/>
     <use href="#ma22b54537e" x="427.05" y="455.5" style="fill: #ff0000; stroke: #ff0000; stroke-width: 3.5"/>
     <use href="#ma22b54537e" x="455.566667" y="463.9" style="fill: #ff0000; stroke: #ff0000; stroke-width: 3.5"/>
     <use href="#ma22b54537e" x="484.083333" y="470.9" style="fill: #ff0000; stroke: #ff0000; stroke-width: 3.5"/>
     <use href="#ma22b54537e" x="512.6" y="484.8" style="fill: #ff0000; stroke: #ff0000; stroke-width: 3.5"/>
     <use href="#ma22b54537e" x="541.116667" y="489.5" style="fill: #ff0000; stroke: #ff0000; stroke-width: 3.5"/>
     <use href="#ma22b54537e" x="569.633333" y="493.1" style="fill: #ff0000; stroke: #ff0000; stroke-width: 3.5"/>
     <use href="#ma22b54537e" x="598.15" y="498.5" style="fill: #ff0000; stroke: #ff0000; stroke-width: 3.5"/>
     <use href="#ma22b54537e" x="626.666667" y="515" style="fill: #ff0000; stroke: #ff0000; stroke-width: 3.5"/>
     <use href="#ma22b54537e" x="655.183333" y="518.5" style="fill: #ff0000; stroke: #ff0000; stroke-width: 3.5"/>
     <use href="#ma22b54537e" x="683.7" y="519.8" style="fill: #ff0000; stroke: #ff0000; stroke-width: 3.5"/>
     <use href="#ma22b54537e" x="712.216667" y="525.2" style="fill: #ff0000; stroke: #ff0000; stroke-width: 3.5"/>
     <use href="#ma22b54537e" x="740.733333" y="532.4" style="fill: #ff0000; stroke: #ff0000; stroke-width: 3.5"/>
     <use href="#ma22b54537e" x="769.25" y="533.4" style="fill: #ff0000; stroke: #ff0000; stroke-width: 3.5"/>
     <use href="#ma22b54537e" x="797.766667" y="536.9" style="fill: #ff0000; stroke: #ff0000; stroke-width: 3.5"/>
     <use href="#ma22b54537e" x="826.283333" y="544.7" style="fill: #ff0000; stroke: #ff0000; stroke-width: 3.5"/>
     <use href="#ma22b54537e" x="854.8" y="541.1" style="fill: #ff0000; stroke: #ff0000; stroke-width: 3.5"/>
     <use href="#ma22b54537e" x="883.316667" y="549.6" style="fill: #ff0000; stroke: #ff0000; stroke-width: 3.5"/>
     <use href="#ma22b54537e" x="911.833333" y="553.8" style="fill: #ff0000; stroke: #ff0000; stroke-width: 3.5"/>
     <use href="#ma22b54537e" x="940.35" y="555.2" style="fill: #ff0000; stroke: #ff0000; stroke-width: 3.5"/>
     <use href="#ma22b54537e" x="968.866667" y="554.5" style="fill: #ff0000; stroke: #ff0000; stroke-width: 3.5"/>
     <use href="#ma22b54537e" x="997.383333" y="566.4" style="fill: #ff0000; stroke: #ff0000; stroke-width: 3.5"/>
     <use href="#ma22b54537e" x="1025.9" y="569.9" style="fill: #ff0000; stroke: #ff0000; stroke-width: 3.5"/>
    </g>
   </g>
   <g id="line2d_70">
    <path d="M 198.916667 366 
L 227.433333 373.7 
L 255.95 371.6 
L 284.466667 363.5 
L 312.983333 367.6 
L 341.5 367.1 
L 370.016667 356.9 
L 398.533333 425.7 
L 427.05 466.5 
L 455.566667 469.1 
L 484.083333 477.8 
L 512.6 490 
L 541.116667 494 
L 569.633333 496.8 
L 598.15 503 
L 626.666667 518 
L 655.183333 522 
L 683.7 522 
L 712.216667 527.4 
L 740.733333 534.6 
L 769.25 535.6 
L 797.766667 539.1 
L 826.283333 546.9 
L 854.8 543.3 
L 883.316667 551.8 
L 911.833333 556 
L 940.35 557.4 
L 968.866667 556.7 
L 997.383333 568.6 
L 1025.9 572.1 
" clip-path="url(#p8d8c2d2a24)" style="fill: none; stroke: #ff0000; stroke-width: 5.6; stroke-linecap: square"/>
    <g clip-path="url(#p8d8c2d2a24)">
     <use href="#ma22b54537e" x="198.916667" y="366" style="fill: #ff0000; stroke: #ff0000; stroke-width: 3.5"/>
     <use href="#ma22b54537e" x="227.433333" y="373.7" style="fill: #ff0000; stroke: #ff0000; stroke-width: 3.5"/>
     <use href="#ma22b54537e" x="255.95" y="371.6" style="fill: #ff0000; stroke: #ff0000; stroke-width: 3.5"/>
     <use href="#ma22b54537e" x="284.466667" y="363.5" style="fill: #ff0000; stroke: #ff0000; stroke-width: 3.5"/>
     <use href="#ma22b54537e" x="312.983333" y="367.6" style="fill: #ff0000; stroke: #ff0000; stroke-width: 3.5"/>
     <use href="#ma22b54537e" x="341.5" y="367.1" style="fill: #ff0000; stroke: #ff0000; stroke-width: 3.5"/>
     <use href="#ma22b54537e" x="370.016667" y="356.9" style="fill: #ff0000; stroke: #ff0000; stroke-width: 3.5"/>
     <use href="#ma22b54537e" x="398.533333" y="425.7" style="fill: #ff0000; stroke: #ff0000; stroke-width: 3.5"/>
     <use href="#ma22b54537e" x="427.05" y="466.5" style="fill: #ff0000; stroke: #ff0000; stroke-width: 3.5"/>
     <use href="#ma22b54537e" x="455.566667" y="469.1" style="fill: #ff0000; stroke: #ff0000; stroke-width: 3.5"/>
     <use href="#ma22b54537e" x="484.083333" y="477.8" style="fill: #ff0000; stroke: #ff0000; stroke-width: 3.5"/>
     <use href="#ma22b54537e" x="512.6" y="490" style="fill: #ff0000; stroke: #ff0000; stroke-width: 3.5"/>
     <use href="#ma22b54537e" x="541.116667" y="494" style="fill: #ff0000; stroke: #ff0000; stroke-width: 3.5"/>
     <use href="#ma22b54537e" x="569.633333" y="496.8" style="fill: #ff0000; stroke: #ff0000; stroke-width: 3.5"/>
     <use href="#ma22b54537e" x="598.15" y="503" style="fill: #ff0000; stroke: #ff0000; stroke-width: 3.5"/>
     <use href="#ma22b54537e" x="626.666667" y="518" style="fill: #ff0000; stroke: #ff0000; stroke-width: 3.5"/>
     <use href="#ma22b54537e" x="655.183333" y="522" style="fill: #ff0000; stroke: #ff0000; stroke-width: 3.5"/>
     <use href="#ma22b54537e" x="683.7" y="522" style="fill: #ff0000; stroke: #ff0000; stroke-width: 3.5"/>
     <use href="#ma22b54537e" x="712.216667" y="527.4" style="fill: #ff0000; stroke: #ff0000; stroke-width: 3.5"/>
     <use href="#ma22b54537e" x="740.733333" y="534.6" style="fill: #ff0000; stroke: #ff0000; stroke-width: 3.5"/>
     <use href="#ma22b54537e" x="769.25" y="535.6" style="fill: #ff0000; stroke: #ff0000; stroke-width: 3.5"/>
     <use href="#ma22b54537e" x="797.766667" y="539.1" style="fill: #ff0000; stroke: #ff0000; stroke-width: 3.5"/>
     <use href="#ma22b54537e" x="826.283333" y="546.9" style="fill: #ff0000; stroke: #ff0000; stroke-width: 3.5"/>
     <use href="#ma22b54537e" x="854.8" y="543.3" style="fill: #ff0000; stroke: #ff0000; stroke-width: 3.5"/>
     <use href="#ma22b54537e" x="883.316667" y="551.8" style="fill: #ff0000; stroke: #ff0000; stroke-width: 3.5"/>
     <use href="#ma22b54537e" x="911.833333" y="556" style="fill: #ff0000; stroke: #ff0000; stroke-width: 3.5"/>
     <use href="#ma22b54537e" x="940.35" y="557.4" style="fill: #ff0000; stroke: #ff0000; stroke-width: 3.5"/>
     <use href="#ma22b54537e" x="968.866667" y="556.7" style="fill: #ff0000; stroke: #ff0000; stroke-width: 3.5"/>
     <use href="#ma22b54537e" x="997.383333" y="568.6" style="fill: #ff0000; stroke: #ff0000; stroke-width: 3.5"/>
     <use href="#ma22b54537e" x="1025.9" y="572.1" style="fill: #ff0000; stroke: #ff0000; stroke-width: 3.5"/>
    </g>
   </g>
   <g id="line2d_71">
    <path d="M 198.916667 366.6 
L 227.433333 407.3 
L 255.95 464.9 
L 284.466667 494.4 
L 312.983333 532 
L 341.5 552.3 
L 370.016667 592.7 
L 398.533333 570.3 
L 427.05 591.3 
L 455.566667 620.8 
L 484.083333 615.7 
L 512.6 653.6 
L 541.116667 655.7 
L 569.633333 667.7 
L 598.15 678.2 
L 626.666667 721 
L 655.183333 726 
L 683.7 733.7 
L 712.216667 754.8 
L 740.733333 751.4 
L 769.25 745.1 
L 797.766667 763.4 
L 826.283333 778.1 
L 854.8 776 
L 883.316667 800.6 
L 911.833333 803.4 
L 940.35 802.7 
L 968.866667 807.6 
L 997.383333 830 
L 1025.9 850 
" clip-path="url(#p8d8c2d2a24)" style="fill: none; stroke-dasharray: 5.6,7.5; stroke-dashoffset: 0; stroke: #ff0000; stroke-width: 5.6"/>
    <g clip-path="url(#p8d8c2d2a24)">
     <use href="#ma22b54537e" x="198.916667" y="366.6" style="fill: #ff0000; stroke: #ff0000; stroke-width: 3.5"/>
     <use href="#ma22b54537e" x="227.433333" y="407.3" style="fill: #ff0000; stroke: #ff0000; stroke-width: 3.5"/>
     <use href="#ma22b54537e" x="255.95" y="464.9" style="fill: #ff0000; stroke: #ff0000; stroke-width: 3.5"/>
     <use href="#ma22b54537e" x="284.466667" y="494.4" style="fill: #ff0000; stroke: #ff0000; stroke-width: 3.5"/>
     <use href="#ma22b54537e" x="312.983333" y="532" style="fill: #ff0000; stroke: #ff0000; stroke-width: 3.5"/>
     <use href="#ma22b54537e" x="341.5" y="552.3" style="fill: #ff0000; stroke: #ff0000; stroke-width: 3.5"/>
     <use href="#ma22b54537e" x="370.016667" y="592.7" style="fill: #ff0000; stroke: #ff0000; stroke-width: 3.5"/>
     <use href="#ma22b54537e" x="398.533333" y="570.3" style="fill: #ff0000; stroke: #ff0000; stroke-width: 3.5"/>
     <use href="#ma22b54537e" x="427.05" y="591.3" style="fill: #ff0000; stroke: #ff0000; stroke-width: 3.5"/>
     <use href="#ma22b54537e" x="455.566667" y="620.8" style="fill: #ff0000; stroke: #ff0000; stroke-width: 3.5"/>
     <use href="#ma22b54537e" x="484.083333" y="615.7" style="fill: #ff0000; stroke: #ff0000; stroke-width: 3.5"/>
     <use href="#ma22b54537e" x="512.6" y="653.6" style="fill: #ff0000; stroke: #ff0000; stroke-width: 3.5"/>
     <use href="#ma22b54537e" x="541.116667" y="655.7" style="fill: #ff0000; stroke: #ff0000; stroke-width: 3.5"/>
     <use href="#ma22b54537e" x="569.633333" y="667.7" style="fill: #ff0000; stroke: #ff0000; stroke-width: 3.5"/>
     <use href="#ma22b54537e" x="598.15" y="678.2" style="fill: #ff0000; stroke: #ff0000; stroke-width: 3.5"/>
     <use href="#ma22b54537e" x="626.666667" y="721" style="fill: #ff0000; stroke: #ff0000; stroke-width: 3.5"/>
     <use href="#ma22b54537e" x="655.183333" y="726" style="fill: #ff0000; stroke: #ff0000; stroke-width: 3.5"/>
     <use href="#ma22b54537e" x="683.7" y="733.7" style="fill: #ff0000; stroke: #ff0000; stroke-width: 3.5"/>
     <use href="#ma22b54537e" x="712.216667" y="754.8" style="fill: #ff0000; stroke: #ff0000; stroke-width: 3.5"/>
     <use href="#ma22b54537e" x="740.733333" y="751.4" style="fill: #ff0000; stroke: #ff0000; stroke-width: 3.5"/>
     <use href="#ma22b54537e" x="769.25" y="745.1" style="fill: #ff0000; stroke: #ff0000; stroke-width: 3.5"/>
     <use href="#ma22b54537e" x="797.766667" y="763.4" style="fill: #ff0000; stroke: #ff0000; stroke-width: 3.5"/>
     <use href="#ma22b54537e" x="826.283333" y="778.1" style="fill: #ff0000; stroke: #ff0000; stroke-width: 3.5"/>
     <use href="#ma22b54537e" x="854.8" y="776" style="fill: #ff0000; stroke: #ff0000; stroke-width: 3.5"/>
     <use href="#ma22b54537e" x="883.316667" y="800.6" style="fill: #ff0000; stroke: #ff0000; stroke-width: 3.5"/>
     <use href="#ma22b54537e" x="911.833333" y="803.4" style="fill: #ff0000; stroke: #ff0000; stroke-width: 3.5"/>
     <use href="#ma22b54537e" x="940.35" y="802.7" style="fill: #ff0000; stroke: #ff0000; stroke-width: 3.5"/>
     <use href="#ma22b54537e" x="968.866667" y="807.6" style="fill: #ff0000; stroke: #ff0000; stroke-width: 3.5"/>
     <use href="#ma22b54537e" x="997.383333" y="830" style="fill: #ff0000; stroke: #ff0000; stroke-width: 3.5"/>
     <use href="#ma22b54537e" x="1025.9" y="850" style="fill: #ff0000; stroke: #ff0000; stroke-width: 3.5"/>
    </g>
   </g>
   <g id="line2d_72">
    <path d="M 198.916667 126 
L 227.433333 131.6 
L 255.95 122.5 
L 284.466667 142.2 
L 312.983333 135.8 
L 341.5 148.5 
L 370.016667 166 
L 398.533333 272.8 
L 427.05 296.7 
L 455.566667 318.6 
L 484.083333 335 
L 512.6 359.6 
L 541.116667 368.7 
L 569.633333 382.7 
L 598.15 401 
L 626.666667 430.5 
L 655.183333 428.4 
L 683.7 429.8 
L 712.216667 437.5 
L 740.733333 455.5 
L 769.25 449.5 
L 797.766667 460 
L 826.283333 467.1 
L 854.8 470.6 
L 883.316667 479.7 
L 911.833333 488.8 
L 940.35 491 
L 968.866667 496.6 
L 997.383333 506.4 
L 1025.9 514.8 
" clip-path="url(#p8d8c2d2a24)" style="fill: none; stroke: #000000; stroke-width: 5.6; stroke-linecap: square"/>
    <defs>
     <path id="mdfbb6a1ec8" d="M 0 5.25 
C 1.392316 5.25 2.727794 4.696827 3.712311 3.712311 
C 4.696827 2.727794 5.25 1.392316 5.25 0 
C 5.25 -1.392316 4.696827 -2.727794 3.712311 -3.712311 
C 2.727794 -4.696827 1.392316 -5.25 0 -5.25 
C -1.392316 -5.25 -2.727794 -4.696827 -3.712311 -3.712311 
C -4.696827 -2.727794 -5.25 -1.392316 -5.25 0 
C -5.25 1.392316 -4.696827 2.727794 -3.712311 3.712311 
C -2.727794 4.696827 -1.392316 5.25 0 5.25 
z
" style="stroke: #000000; stroke-width: 3.5"/>
    </defs>
    <g clip-path="url(#p8d8c2d2a24)">
     <use href="#mdfbb6a1ec8" x="198.916667" y="126" style="stroke: #000000; stroke-width: 3.5"/>
     <use href="#mdfbb6a1ec8" x="227.433333" y="131.6" style="stroke: #000000; stroke-width: 3.5"/>
     <use href="#mdfbb6a1ec8" x="255.95" y="122.5" style="stroke: #000000; stroke-width: 3.5"/>
     <use href="#mdfbb6a1ec8" x="284.466667" y="142.2" style="stroke: #000000; stroke-width: 3.5"/>
     <use href="#mdfbb6a1ec8" x="312.983333" y="135.8" style="stroke: #000000; stroke-width: 3.5"/>
     <use href="#mdfbb6a1ec8" x="341.5" y="148.5" style="stroke: #000000; stroke-width: 3.5"/>
     <use href="#mdfbb6a1ec8" x="370.016667" y="166" style="stroke: #000000; stroke-width: 3.5"/>
     <use href="#mdfbb6a1ec8" x="398.533333" y="272.8" style="stroke: #000000; stroke-width: 3.5"/>
     <use href="#mdfbb6a1ec8" x="427.05" y="296.7" style="stroke: #000000; stroke-width: 3.5"/>
     <use href="#mdfbb6a1ec8" x="455.566667" y="318.6" style="stroke: #000000; stroke-width: 3.5"/>
     <use href="#mdfbb6a1ec8" x="484.083333" y="335" style="stroke: #000000; stroke-width: 3.5"/>
     <use href="#mdfbb6a1ec8" x="512.6" y="359.6" style="stroke: #000000; stroke-width: 3.5"/>
     <use href="#mdfbb6a1ec8" x="541.116667" y="368.7" style="stroke: #000000; stroke-width: 3.5"/>
     <use href="#mdfbb6a1ec8" x="569.633333" y="382.7" style="stroke: #000000; stroke-width: 3.5"/>
     <use href="#mdfbb6a1ec8" x="598.15" y="401" style="stroke: #000000; stroke-width: 3.5"/>
     <use href="#mdfbb6a1ec8" x="626.666667" y="430.5" style="stroke: #000000; stroke-width: 3.5"/>
     <use href="#mdfbb6a1ec8" x="655.183333" y="428.4" style="stroke: #000000; stroke-width: 3.5"/>
     <use href="#mdfbb6a1ec8" x="683.7" y="429.8" style="stroke: #000000; stroke-width: 3.5"/>
     <use href="#mdfbb6a1ec8" x="712.216667" y="437.5" style="stroke: #000000; stroke-width: 3.5"/>
     <use href="#mdfbb6a1ec8" x="740.733333" y="455.5" style="stroke: #000000; stroke-width: 3.5"/>
     <use href="#mdfbb6a1ec8" x="769.25" y="449.5" style="stroke: #000000; stroke-width: 3.5"/>
     <use href="#mdfbb6a1ec8" x="797.766667" y="460" style="stroke: #000000; stroke-width: 3.5"/>
     <use href="#mdfbb6a1ec8" x="826.283333" y="467.1" style="stroke: #000000; stroke-width: 3.5"/>
     <use href="#mdfbb6a1ec8" x="854.8" y="470.6" style="stroke: #000000; stroke-width: 3.5"/>
     <use href="#mdfbb6a1ec8" x="883.316667" y="479.7" style="stroke: #000000; stroke-width: 3.5"/>
     <use href="#mdfbb6a1ec8" x="911.833333" y="488.8" style="stroke: #000000; stroke-width: 3.5"/>
     <use href="#mdfbb6a1ec8" x="940.35" y="491" style="stroke: #000000; stroke-width: 3.5"/>
     <use href="#mdfbb6a1ec8" x="968.866667" y="496.6" style="stroke: #000000; stroke-width: 3.5"/>
     <use href="#mdfbb6a1ec8" x="997.383333" y="506.4" style="stroke: #000000; stroke-width: 3.5"/>
     <use href="#mdfbb6a1ec8" x="1025.9" y="514.8" style="stroke: #000000; stroke-width: 3.5"/>
    </g>
   </g>
   <g id="patch_3">
    <path d="M 170.4 813 
L 170.4 67.4 
" style="fill: none; stroke: #000000; stroke-width: 3; stroke-linejoin: miter; stroke-linecap: square"/>
   </g>
   <g id="patch_4">
    <path d="M 1025.9 813 
L 1025.9 67.4 
" style="fill: none; stroke: #000000; stroke-width: 3; stroke-linejoin: miter; stroke-linecap: square"/>
   </g>
   <g id="patch_5">
    <path d="M 170.4 813 
L 1025.9 813 
" style="fill: none; stroke: #000000; stroke-width: 3; stroke-linejoin: miter; stroke-linecap: square"/>
   </g>
   <g id="patch_6">
    <path d="M 170.4 67.4 
L 1025.9 67.4 
" style="fill: none; stroke: #000000; stroke-width: 3; stroke-linejoin: miter; stroke-linecap: square"/>
   </g>
   <g id="text_15">
    <text style="font-size: 39.9px; font-family: 'DejaVu Sans'; text-anchor: start" x="170.4" y="47.4002" transform="rotate(-0 170.4 47.4002)">a) 10-20 days dry season with lag 0</text>
   </g>
  </g>
  <g id="axes_2">
   <g id="patch_7">
    <path d="M 1234 813 
L 2088.9 813 
L 2088.9 67.4 
L 1234 67.4 
z
" style="fill: #ffffff"/>
   </g>
   <g id="matplotlib.axis_3">
    <g id="xtick_8">
     <g id="line2d_73">
      <path d="M 1234 813 
L 1234 67.4 
" clip-path="url(#pa740cd5ba5)" style="fill: none; stroke: #b0b0b0; stroke-width: 2.66664; stroke-linecap: square"/>
     </g>
     <g id="line2d_74">
      <g>
       <use href="#m4aa09e311d" x="1234" y="813" style="stroke: #000000; stroke-width: 2.8"/>
      </g>
     </g>
     <g id="text_16">
      <text style="font-size: 33.33px; font-family: 'DejaVu Sans'; text-anchor: middle" x="1234" y="861.658692" transform="rotate(-0 1234 861.658692)">0</text>
     </g>
    </g>
    <g id="xtick_9">
     <g id="line2d_75">
      <path d="M 1376.483333 813 
L 1376.483333 67.4 
" clip-path="url(#pa740cd5ba5)" style="fill: none; stroke: #b0b0b0; stroke-width: 2.66664; stroke-linecap: square"/>
     </g>
     <g id="line2d_76">
      <g>
       <use href="#m4aa09e311d" x="1376.483333" y="813" style="stroke: #000000; stroke-width: 2.8"/>
      </g>
     </g>
     <g id="text_17">
      <text style="font-size: 33.33px; font-family: 'DejaVu Sans'; text-anchor: middle" x="1376.483333" y="861.658692" transform="rotate(-0 1376.483333 861.658692)">5</text>
     </g>
    </g>
    <g id="xtick_10">
     <g id="line2d_77">
      <path d="M 1518.966667 813 
L 1518.966667 67.4 
" clip-path="url(#pa740cd5ba5)" style="fill: none; stroke: #b0b0b0; stroke-width: 2.66664; stroke-linecap: square"/>
     </g>
     <g id="line2d_78">
      <g>
       <use href="#m4aa09e311d" x="1518.966667" y="813" style="stroke: #000000; stroke-width: 2.8"/>
      </g>
     </g>
     <g id="text_18">
      <text style="font-size: 33.33px; font-family: 'DejaVu Sans'; text-anchor: middle" x="1518.966667" y="861.658692" transform="rotate(-0 1518.966667 861.658692)">10</text>
     </g>
    </g>
    <g id="xtick_11">
     <g id="line2d_79">
      <path d="M 1661.45 813 
L 1661.45 67.4 
" clip-path="url(#pa740cd5ba5)" style="fill: none; stroke: #b0b0b0; stroke-width: 2.66664; stroke-linecap: square"/>
     </g>
     <g id="line2d_80">
      <g>
       <use href="#m4aa09e311d" x="1661.45" y="813" style="stroke: #000000; stroke-width: 2.8"/>
      </g>
     </g>
     <g id="text_19">
      <text style="font-size: 33.33px; font-family: 'DejaVu Sans'; text-anchor: middle" x="1661.45" y="861.658692" transform="rotate(-0 1661.45 861.658692)">15</text>
     </g>
    </g>
    <g id="xtick_12">
     <g id="line2d_81">
      <path d="M 1803.933333 813 
L 1803.933333 67.4 
" clip-path="url(#pa740cd5ba5)" style="fill: none; stroke: #b0b0b0; stroke-width: 2.66664; stroke-linecap: square"/>
     </g>
     <g id="line2d_82">
      <g>
       <use href="#m4aa09e311d" x="1803.933333" y="813" style="stroke: #000000; stroke-width: 2.8"/>
      </g>
     </g>
     <g id="text_20">
      <text style="font-size: 33.33px; font-family: 'DejaVu Sans'; text-anchor: middle" x="1803.933333" y="861.658692" transform="rotate(-0 1803.933333 861.658692)">20</text>
     </g>
    </g>
    <g id="xtick_13">
     <g id="line2d_83">
      <path d="M 1946.416667 813 
L 1946.416667 67.4 
" clip-path="url(#pa740cd5ba5)" style="fill: none; stroke: #b0b0b0; stroke-width: 2.66664; stroke-linecap: square"/>
     </g>
     <g id="line2d_84">
      <g>
       <use href="#m4aa09e311d" x="1946.416667" y="813" style="stroke: #000000; stroke-width: 2.8"/>
      </g>
     </g>
     <g id="text_21">
      <text style="font-size: 33.33px; font-family: 'DejaVu Sans'; text-anchor: middle" x="1946.416667" y="861.658692" transform="rotate(-0 1946.416667 861.658692)">25</text>
     </g>
    </g>
    <g id="xtick_14">
     <g id="line2d_85">
      <path d="M 2088.9 813 
L 2088.9 67.4 
" clip-path="url(#pa740cd5ba5)" style="fill: none; stroke: #b0b0b0; stroke-width: 2.66664; stroke-linecap: square"/>
     </g>
     <g id="line2d_86">
      <g>
       <use href="#m4aa09e311d" x="2088.9" y="813" style="stroke: #000000; stroke-width: 2.8"/>
      </g>
     </g>
     <g id="text_22">
      <text style="font-size: 33.33px; font-family: 'DejaVu Sans'; text-anchor: middle" x="2088.9" y="861.658692" transform="rotate(-0 2088.9 861.658692)">30</text>
     </g>
    </g>
    <g id="text_23">
     <text style="font-size: 33.33px; font-family: 'DejaVu Sans'; text-anchor: middle" x="1661.45" y="907.249083" transform="rotate(-0 1661.45 907.249083)">Vertical wavenumber</text>
    </g>
   </g>
   <g id="matplotlib.axis_4">
    <g id="ytick_47">
     <g id="line2d_87">
      <path d="M 1234 813 
L 2088.9 813 
" clip-path="url(#pa740cd5ba5)" style="fill: none; stroke: #b0b0b0; stroke-width: 2.66664; stroke-linecap: square"/>
     </g>
     <g id="line2d_88">
      <g>
       <use href="#m0a65cb3548" x="1234" y="813" style="stroke: #000000; stroke-width: 2.8"/>
      </g>
     </g>
     <g id="text_24">
      
      <g transform="translate(1132.3414 825.662796)">
       <text>
        <tspan x="0" y="-0.217188" style="font-size: 33.33px; font-family: 'DejaVu Sans'">1</tspan>
        <tspan x="21.234192" y="-0.217188" style="font-size: 33.33px; font-family: 'DejaVu Sans'">0</tspan>
        <tspan x="42.784204" y="-12.85" style="font-size: 23.331px; font-family: 'DejaVu Sans'">−</tspan>
        <tspan x="62.359424" y="-12.85" style="font-size: 23.331px; font-family: 'DejaVu Sans'">3</tspan>
       </text>
      </g>
     </g>
    </g>
    <g id="ytick_48">
     <g id="line2d_89">
      <path d="M 1234 647.311111 
L 2088.9 647.311111 
" clip-path="url(#pa740cd5ba5)" style="fill: none; stroke: #b0b0b0; stroke-width: 2.66664; stroke-linecap: square"/>
     </g>
     <g id="line2d_90">
      <g>
       <use href="#m0a65cb3548" x="1234" y="647.311111" style="stroke: #000000; stroke-width: 2.8"/>
      </g>
     </g>
     <g id="text_25">
      
      <g transform="translate(1132.3414 659.973907)">
       <text>
        <tspan x="0" y="-0.217188" style="font-size: 33.33px; font-family: 'DejaVu Sans'">1</tspan>
        <tspan x="21.234192" y="-0.217188" style="font-size: 33.33px; font-family: 'DejaVu Sans'">0</tspan>
        <tspan x="42.784204" y="-12.85" style="font-size: 23.331px; font-family: 'DejaVu Sans'">−</tspan>
        <tspan x="62.359424" y="-12.85" style="font-size: 23.331px; font-family: 'DejaVu Sans'">2</tspan>
       </text>
      </g>
     </g>
    </g>
    <g id="ytick_49">
     <g id="line2d_91">
      <path d="M 1234 481.622222 
L 2088.9 481.622222 
" clip-path="url(#pa740cd5ba5)" style="fill: none; stroke: #b0b0b0; stroke-width: 2.66664; stroke-linecap: square"/>
     </g>
     <g id="line2d_92">
      <g>
       <use href="#m0a65cb3548" x="1234" y="481.622222" style="stroke: #000000; stroke-width: 2.8"/>
      </g>
     </g>
     <g id="text_26">
      
      <g transform="translate(1132.3414 494.285018)">
       <text>
        <tspan x="0" y="-0.523438" style="font-size: 33.33px; font-family: 'DejaVu Sans'">1</tspan>
        <tspan x="21.234192" y="-0.523438" style="font-size: 33.33px; font-family: 'DejaVu Sans'">0</tspan>
        <tspan x="42.784204" y="-13.15625" style="font-size: 23.331px; font-family: 'DejaVu Sans'">−</tspan>
        <tspan x="62.359424" y="-13.15625" style="font-size: 23.331px; font-family: 'DejaVu Sans'">1</tspan>
       </text>
      </g>
     </g>
    </g>
    <g id="ytick_50">
     <g id="line2d_93">
      <path d="M 1234 315.933333 
L 2088.9 315.933333 
" clip-path="url(#pa740cd5ba5)" style="fill: none; stroke: #b0b0b0; stroke-width: 2.66664; stroke-linecap: square"/>
     </g>
     <g id="line2d_94">
      <g>
       <use href="#m0a65cb3548" x="1234" y="315.933333" style="stroke: #000000; stroke-width: 2.8"/>
      </g>
     </g>
     <g id="text_27">
      
      <g transform="translate(1152.0061 328.596129)">
       <text>
        <tspan x="0" y="-0.217188" style="font-size: 33.33px; font-family: 'DejaVu Sans'">1</tspan>
        <tspan x="21.234192" y="-0.217188" style="font-size: 33.33px; font-family: 'DejaVu Sans'">0</tspan>
        <tspan x="42.784204" y="-12.85" style="font-size: 23.331px; font-family: 'DejaVu Sans'">0</tspan>
       </text>
      </g>
     </g>
    </g>
    <g id="ytick_51">
     <g id="line2d_95">
      <path d="M 1234 150.244444 
L 2088.9 150.244444 
" clip-path="url(#pa740cd5ba5)" style="fill: none; stroke: #b0b0b0; stroke-width: 2.66664; stroke-linecap: square"/>
     </g>
     <g id="line2d_96">
      <g>
       <use href="#m0a65cb3548" x="1234" y="150.244444" style="stroke: #000000; stroke-width: 2.8"/>
      </g>
     </g>
     <g id="text_28">
      
      <g transform="translate(1152.0061 162.907241)">
       <text>
        <tspan x="0" y="-0.523438" style="font-size: 33.33px; font-family: 'DejaVu Sans'">1</tspan>
        <tspan x="21.234192" y="-0.523438" style="font-size: 33.33px; font-family: 'DejaVu Sans'">0</tspan>
        <tspan x="42.784204" y="-13.15625" style="font-size: 23.331px; font-family: 'DejaVu Sans'">1</tspan>
       </text>
      </g>
     </g>
    </g>
    <g id="ytick_52">
     <g id="line2d_97">
      <g>
       <use href="#mfb48398925" x="1234" y="763.122674" style="stroke: #000000; stroke-width: 2"/>
      </g>
     </g>
    </g>
    <g id="ytick_53">
     <g id="line2d_98">
      <g>
       <use href="#mfb48398925" x="1234" y="733.946309" style="stroke: #000000; stroke-width: 2"/>
      </g>
     </g>
    </g>
    <g id="ytick_54">
     <g id="line2d_99">
      <g>
       <use href="#mfb48398925" x="1234" y="713.245349" style="stroke: #000000; stroke-width: 2"/>
      </g>
     </g>
    </g>
    <g id="ytick_55">
     <g id="line2d_100">
      <g>
       <use href="#mfb48398925" x="1234" y="697.188437" style="stroke: #000000; stroke-width: 2"/>
      </g>
     </g>
    </g>
    <g id="ytick_56">
     <g id="line2d_101">
      <g>
       <use href="#mfb48398925" x="1234" y="684.068984" style="stroke: #000000; stroke-width: 2"/>
      </g>
     </g>
    </g>
    <g id="ytick_57">
     <g id="line2d_102">
      <g>
       <use href="#mfb48398925" x="1234" y="672.976645" style="stroke: #000000; stroke-width: 2"/>
      </g>
     </g>
    </g>
    <g id="ytick_58">
     <g id="line2d_103">
      <g>
       <use href="#mfb48398925" x="1234" y="663.368023" style="stroke: #000000; stroke-width: 2"/>
      </g>
     </g>
    </g>
    <g id="ytick_59">
     <g id="line2d_104">
      <g>
       <use href="#mfb48398925" x="1234" y="654.892619" style="stroke: #000000; stroke-width: 2"/>
      </g>
     </g>
    </g>
    <g id="ytick_60">
     <g id="line2d_105">
      <g>
       <use href="#mfb48398925" x="1234" y="597.433786" style="stroke: #000000; stroke-width: 2"/>
      </g>
     </g>
    </g>
    <g id="ytick_61">
     <g id="line2d_106">
      <g>
       <use href="#mfb48398925" x="1234" y="568.257421" style="stroke: #000000; stroke-width: 2"/>
      </g>
     </g>
    </g>
    <g id="ytick_62">
     <g id="line2d_107">
      <g>
       <use href="#mfb48398925" x="1234" y="547.55646" style="stroke: #000000; stroke-width: 2"/>
      </g>
     </g>
    </g>
    <g id="ytick_63">
     <g id="line2d_108">
      <g>
       <use href="#mfb48398925" x="1234" y="531.499548" style="stroke: #000000; stroke-width: 2"/>
      </g>
     </g>
    </g>
    <g id="ytick_64">
     <g id="line2d_109">
      <g>
       <use href="#mfb48398925" x="1234" y="518.380095" style="stroke: #000000; stroke-width: 2"/>
      </g>
     </g>
    </g>
    <g id="ytick_65">
     <g id="line2d_110">
      <g>
       <use href="#mfb48398925" x="1234" y="507.287756" style="stroke: #000000; stroke-width: 2"/>
      </g>
     </g>
    </g>
    <g id="ytick_66">
     <g id="line2d_111">
      <g>
       <use href="#mfb48398925" x="1234" y="497.679135" style="stroke: #000000; stroke-width: 2"/>
      </g>
     </g>
    </g>
    <g id="ytick_67">
     <g id="line2d_112">
      <g>
       <use href="#mfb48398925" x="1234" y="489.20373" style="stroke: #000000; stroke-width: 2"/>
      </g>
     </g>
    </g>
    <g id="ytick_68">
     <g id="line2d_113">
      <g>
       <use href="#mfb48398925" x="1234" y="431.744897" style="stroke: #000000; stroke-width: 2"/>
      </g>
     </g>
    </g>
    <g id="ytick_69">
     <g id="line2d_114">
      <g>
       <use href="#mfb48398925" x="1234" y="402.568532" style="stroke: #000000; stroke-width: 2"/>
      </g>
     </g>
    </g>
    <g id="ytick_70">
     <g id="line2d_115">
      <g>
       <use href="#mfb48398925" x="1234" y="381.867571" style="stroke: #000000; stroke-width: 2"/>
      </g>
     </g>
    </g>
    <g id="ytick_71">
     <g id="line2d_116">
      <g>
       <use href="#mfb48398925" x="1234" y="365.810659" style="stroke: #000000; stroke-width: 2"/>
      </g>
     </g>
    </g>
    <g id="ytick_72">
     <g id="line2d_117">
      <g>
       <use href="#mfb48398925" x="1234" y="352.691206" style="stroke: #000000; stroke-width: 2"/>
      </g>
     </g>
    </g>
    <g id="ytick_73">
     <g id="line2d_118">
      <g>
       <use href="#mfb48398925" x="1234" y="341.598867" style="stroke: #000000; stroke-width: 2"/>
      </g>
     </g>
    </g>
    <g id="ytick_74">
     <g id="line2d_119">
      <g>
       <use href="#mfb48398925" x="1234" y="331.990246" style="stroke: #000000; stroke-width: 2"/>
      </g>
     </g>
    </g>
    <g id="ytick_75">
     <g id="line2d_120">
      <g>
       <use href="#mfb48398925" x="1234" y="323.514841" style="stroke: #000000; stroke-width: 2"/>
      </g>
     </g>
    </g>
    <g id="ytick_76">
     <g id="line2d_121">
      <g>
       <use href="#mfb48398925" x="1234" y="266.056008" style="stroke: #000000; stroke-width: 2"/>
      </g>
     </g>
    </g>
    <g id="ytick_77">
     <g id="line2d_122">
      <g>
       <use href="#mfb48398925" x="1234" y="236.879643" style="stroke: #000000; stroke-width: 2"/>
      </g>
     </g>
    </g>
    <g id="ytick_78">
     <g id="line2d_123">
      <g>
       <use href="#mfb48398925" x="1234" y="216.178682" style="stroke: #000000; stroke-width: 2"/>
      </g>
     </g>
    </g>
    <g id="ytick_79">
     <g id="line2d_124">
      <g>
       <use href="#mfb48398925" x="1234" y="200.12177" style="stroke: #000000; stroke-width: 2"/>
      </g>
     </g>
    </g>
    <g id="ytick_80">
     <g id="line2d_125">
      <g>
       <use href="#mfb48398925" x="1234" y="187.002317" style="stroke: #000000; stroke-width: 2"/>
      </g>
     </g>
    </g>
    <g id="ytick_81">
     <g id="line2d_126">
      <g>
       <use href="#mfb48398925" x="1234" y="175.909978" style="stroke: #000000; stroke-width: 2"/>
      </g>
     </g>
    </g>
    <g id="ytick_82">
     <g id="line2d_127">
      <g>
       <use href="#mfb48398925" x="1234" y="166.301357" style="stroke: #000000; stroke-width: 2"/>
      </g>
     </g>
    </g>
    <g id="ytick_83">
     <g id="line2d_128">
      <g>
       <use href="#mfb48398925" x="1234" y="157.825952" style="stroke: #000000; stroke-width: 2"/>
      </g>
     </g>
    </g>
    <g id="ytick_84">
     <g id="line2d_129">
      <g>
       <use href="#mfb48398925" x="1234" y="100.367119" style="stroke: #000000; stroke-width: 2"/>
      </g>
     </g>
    </g>
    <g id="ytick_85">
     <g id="line2d_130">
      <g>
       <use href="#mfb48398925" x="1234" y="71.190754" style="stroke: #000000; stroke-width: 2"/>
      </g>
     </g>
    </g>
    <g id="text_29">
     <text style="font-size: 33.33px; font-family: 'DejaVu Sans'; text-anchor: middle" x="1112.076602" y="440.2" transform="rotate(-90 1112.076602 440.2)">Variance (J/kg)</text>
    </g>
   </g>
   <g id="line2d_131">
    <path d="M 1262.496667 1807.133333 
L 1290.993333 1807.133333 
L 1319.49 1807.133333 
L 1347.986667 1807.133333 
L 1376.483333 1807.133333 
L 1404.98 1807.133333 
L 1433.476667 1807.133333 
L 1461.973333 1807.133333 
L 1490.47 1807.133333 
L 1518.966667 1807.133333 
L 1547.463333 1807.133333 
L 1575.96 1807.133333 
L 1604.456667 1807.133333 
L 1632.953333 1807.133333 
L 1661.45 1807.133333 
L 1689.946667 1807.133333 
L 1718.443333 1807.133333 
L 1746.94 1807.133333 
L 1775.436667 1807.133333 
L 1803.933333 1807.133333 
L 1832.43 1807.133333 
L 1860.926667 1807.133333 
L 1889.423333 1807.133333 
L 1917.92 1807.133333 
L 1946.416667 1807.133333 
L 1974.913333 1807.133333 
L 2003.41 1807.133333 
L 2031.906667 1807.133333 
L 2060.403333 1807.133333 
L 2088.9 1807.133333 
" clip-path="url(#pa740cd5ba5)" style="fill: none; stroke-dasharray: 19,7.35; stroke-dashoffset: 0; stroke: #0000ff; stroke-width: 5.6"/>
    <g clip-path="url(#pa740cd5ba5)">
     <use href="#m1bc015388f" x="1262.496667" y="1807.133333" style="fill: #0000ff; stroke: #0000ff; stroke-width: 3.5"/>
     <use href="#m1bc015388f" x="1290.993333" y="1807.133333" style="fill: #0000ff; stroke: #0000ff; stroke-width: 3.5"/>
     <use href="#m1bc015388f" x="1319.49" y="1807.133333" style="fill: #0000ff; stroke: #0000ff; stroke-width: 3.5"/>
     <use href="#m1bc015388f" x="1347.986667" y="1807.133333" style="fill: #0000ff; stroke: #0000ff; stroke-width: 3.5"/>
     <use href="#m1bc015388f" x="1376.483333" y="1807.133333" style="fill: #0000ff; stroke: #0000ff; stroke-width: 3.5"/>
     <use href="#m1bc015388f" x="1404.98" y="1807.133333" style="fill: #0000ff; stroke: #0000ff; stroke-width: 3.5"/>
     <use href="#m1bc015388f" x="1433.476667" y="1807.133333" style="fill: #0000ff; stroke: #0000ff; stroke-width: 3.5"/>
     <use href="#m1bc015388f" x="1461.973333" y="1807.133333" style="fill: #0000ff; stroke: #0000ff; stroke-width: 3.5"/>
     <use href="#m1bc015388f" x="1490.47" y="1807.133333" style="fill: #0000ff; stroke: #0000ff; stroke-width: 3.5"/>
     <use href="#m1bc015388f" x="1518.966667" y="1807.133333" style="fill: #0000ff; stroke: #0000ff; stroke-width: 3.5"/>
     <use href="#m1bc015388f" x="1547.463333" y="1807.133333" style="fill: #0000ff; stroke: #0000ff; stroke-width: 3.5"/>
     <use href="#m1bc015388f" x="1575.96" y="1807.133333" style="fill: #0000ff; stroke: #0000ff; stroke-width: 3.5"/>
     <use href="#m1bc015388f" x="1604.456667" y="1807.133333" style="fill: #0000ff; stroke: #0000ff; stroke-width: 3.5"/>
     <use href="#m1bc015388f" x="1632.953333" y="1807.133333" style="fill: #0000ff; stroke: #0000ff; stroke-width: 3.5"/>
     <use href="#m1bc015388f" x="1661.45" y="1807.133333" style="fill: #0000ff; stroke: #0000ff; stroke-width: 3.5"/>
     <use href="#m1bc015388f" x="1689.946667" y="1807.133333" style="fill: #0000ff; stroke: #0000ff; stroke-width: 3.5"/>
     <use href="#m1bc015388f" x="1718.443333" y="1807.133333" style="fill: #0000ff; stroke: #0000ff; stroke-width: 3.5"/>
     <use href="#m1bc015388f" x="1746.94" y="1807.133333" style="fill: #0000ff; stroke: #0000ff; stroke-width: 3.5"/>
     <use href="#m1bc015388f" x="1775.436667" y="1807.133333" style="fill: #0000ff; stroke: #0000ff; stroke-width: 3.5"/>
     <use href="#m1bc015388f" x="1803.933333" y="1807.133333" style="fill: #0000ff; stroke: #0000ff; stroke-width: 3.5"/>
     <use href="#m1bc015388f" x="1832.43" y="1807.133333" style="fill: #0000ff; stroke: #0000ff; stroke-width: 3.5"/>
     <use href="#m1bc015388f" x="1860.926667" y="1807.133333" style="fill: #0000ff; stroke: #0000ff; stroke-width: 3.5"/>
     <use href="#m1bc015388f" x="1889.423333" y="1807.133333" style="fill: #0000ff; stroke: #0000ff; stroke-width: 3.5"/>
     <use href="#m1bc015388f" x="1917.92" y="1807.133333" style="fill: #0000ff; stroke: #0000ff; stroke-width: 3.5"/>
     <use href="#m1bc015388f" x="1946.416667" y="1807.133333" style="fill: #0000ff; stroke: #0000ff; stroke-width: 3.5"/>
     <use href="#m1bc015388f" x="1974.913333" y="1807.133333" style="fill: #0000ff; stroke: #0000ff; stroke-width: 3.5"/>
     <use href="#m1bc015388f" x="2003.41" y="1807.133333" style="fill: #0000ff; stroke: #0000ff; stroke-width: 3.5"/>
     <use href="#m1bc015388f" x="2031.906667" y="1807.133333" style="fill: #0000ff; stroke: #0000ff; stroke-width: 3.5"/>
     <use href="#m1bc015388f" x="2060.403333" y="1807.133333" style="fill: #0000ff; stroke: #0000ff; stroke-width: 3.5"/>
     <use href="#m1bc015388f" x="2088.9" y="1807.133333" style="fill: #0000ff; stroke: #0000ff; stroke-width: 3.5"/>
    </g>
   </g>
   <g id="line2d_132">
    <path d="M 1262.496667 74.7 
L 1290.993333 127.4 
L 1319.49 178 
L 1347.986667 286.2 
L 1376.483333 238.4 
L 1404.98 257.4 
L 1433.476667 230 
L 1461.973333 218 
L 1490.47 225.1 
L 1518.966667 213.1 
L 1547.463333 225.7 
L 1575.96 217.2 
L 1604.456667 267.1 
L 1632.953333 288.2 
L 1661.45 340.2 
L 1689.946667 354.9 
L 1718.443333 352.1 
L 1746.94 362 
L 1775.436667 340.9 
L 1803.933333 348.6 
L 1832.43 332.9 
L 1860.926667 342 
L 1889.423333 333.6 
L 1917.92 344.1 
L 1946.416667 344.1 
L 1974.913333 356 
L 2003.41 361.7 
L 2031.906667 372.9 
L 2060.403333 381.3 
L 2088.9 394 
" clip-path="url(#pa740cd5ba5)" style="fill: none; stroke: #0000ff; stroke-width: 5.6; stroke-linecap: square"/>
    <g clip-path="url(#pa740cd5ba5)">
     <use href="#m1bc015388f" x="1262.496667" y="74.7" style="fill: #0000ff; stroke: #0000ff; stroke-width: 3.5"/>
     <use href="#m1bc015388f" x="1290.993333" y="127.4" style="fill: #0000ff; stroke: #0000ff; stroke-width: 3.5"/>
     <use href="#m1bc015388f" x="1319.49" y="178" style="fill: #0000ff; stroke: #0000ff; stroke-width: 3.5"/>
     <use href="#m1bc015388f" x="1347.986667" y="286.2" style="fill: #0000ff; stroke: #0000ff; stroke-width: 3.5"/>
     <use href="#m1bc015388f" x="1376.483333" y="238.4" style="fill: #0000ff; stroke: #0000ff; stroke-width: 3.5"/>
     <use href="#m1bc015388f" x="1404.98" y="257.4" style="fill: #0000ff; stroke: #0000ff; stroke-width: 3.5"/>
     <use href="#m1bc015388f" x="1433.476667" y="230" style="fill: #0000ff; stroke: #0000ff; stroke-width: 3.5"/>
     <use href="#m1bc015388f" x="1461.973333" y="218" style="fill: #0000ff; stroke: #0000ff; stroke-width: 3.5"/>
     <use href="#m1bc015388f" x="1490.47" y="225.1" style="fill: #0000ff; stroke: #0000ff; stroke-width: 3.5"/>
     <use href="#m1bc015388f" x="1518.966667" y="213.1" style="fill: #0000ff; stroke: #0000ff; stroke-width: 3.5"/>
     <use href="#m1bc015388f" x="1547.463333" y="225.7" style="fill: #0000ff; stroke: #0000ff; stroke-width: 3.5"/>
     <use href="#m1bc015388f" x="1575.96" y="217.2" style="fill: #0000ff; stroke: #0000ff; stroke-width: 3.5"/>
     <use href="#m1bc015388f" x="1604.456667" y="267.1" style="fill: #0000ff; stroke: #0000ff; stroke-width: 3.5"/>
     <use href="#m1bc015388f" x="1632.953333" y="288.2" style="fill: #0000ff; stroke: #0000ff; stroke-width: 3.5"/>
     <use href="#m1bc015388f" x="1661.45" y="340.2" style="fill: #0000ff; stroke: #0000ff; stroke-width: 3.5"/>
     <use href="#m1bc015388f" x="1689.946667" y="354.9" style="fill: #0000ff; stroke: #0000ff; stroke-width: 3.5"/>
     <use href="#m1bc015388f" x="1718.443333" y="352.1" style="fill: #0000ff; stroke: #0000ff; stroke-width: 3.5"/>
     <use href="#m1bc015388f" x="1746.94" y="362" style="fill: #0000ff; stroke: #0000ff; stroke-width: 3.5"/>
     <use href="#m1bc015388f" x="1775.436667" y="340.9" style="fill: #0000ff; stroke: #0000ff; stroke-width: 3.5"/>
     <use href="#m1bc015388f" x="1803.933333" y="348.6" style="fill: #0000ff; stroke: #0000ff; stroke-width: 3.5"/>
     <use href="#m1bc015388f" x="1832.43" y="332.9" style="fill: #0000ff; stroke: #0000ff; stroke-width: 3.5"/>
     <use href="#m1bc015388f" x="1860.926667" y="342" style="fill: #0000ff; stroke: #0000ff; stroke-width: 3.5"/>
     <use href="#m1bc015388f" x="1889.423333" y="333.6" style="fill: #0000ff; stroke: #0000ff; stroke-width: 3.5"/>
     <use href="#m1bc015388f" x="1917.92" y="344.1" style="fill: #0000ff; stroke: #0000ff; stroke-width: 3.5"/>
     <use href="#m1bc015388f" x="1946.416667" y="344.1" style="fill: #0000ff; stroke: #0000ff; stroke-width: 3.5"/>
     <use href="#m1bc015388f" x="1974.913333" y="356" style="fill: #0000ff; stroke: #0000ff; stroke-width: 3.5"/>
     <use href="#m1bc015388f" x="2003.41" y="361.7" style="fill: #0000ff; stroke: #0000ff; stroke-width: 3.5"/>
     <use href="#m1bc015388f" x="2031.906667" y="372.9" style="fill: #0000ff; stroke: #0000ff; stroke-width: 3.5"/>
     <use href="#m1bc015388f" x="2060.403333" y="381.3" style="fill: #0000ff; stroke: #0000ff; stroke-width: 3.5"/>
     <use href="#m1bc015388f" x="2088.9" y="394" style="fill: #0000ff; stroke: #0000ff; stroke-width: 3.5"/>
    </g>
   </g>
   <g id="line2d_133">
    <path d="M 1262.496667 376.8 
L 1290.993333 439.1 
L 1319.49 465.8 
L 1347.986667 552.2 
L 1376.483333 573.2 
L 1404.98 529 
L 1433.476667 522.7 
L 1461.973333 500.2 
L 1490.47 511.4 
L 1518.966667 530.4 
L 1547.463333 545.8 
L 1575.96 546.5 
L 1604.456667 638.7 
L 1632.953333 591.6 
L 1661.45 658.4 
L 1689.946667 652 
L 1718.443333 679.4 
L 1746.94 657 
L 1775.436667 687.9 
L 1803.933333 651.3 
L 1832.43 691.8 
L 1860.926667 660.9 
L 1889.423333 689 
L 1917.92 689.7 
L 1946.416667 684.8 
L 1974.913333 726.1 
L 2003.41 712.1 
L 2031.906667 760.6 
L 2060.403333 724.7 
L 2088.9 778.1 
" clip-path="url(#pa740cd5ba5)" style="fill: none; stroke-dasharray: 5.6,7.5; stroke-dashoffset: 0; stroke: #0000ff; stroke-width: 5.6"/>
    <g clip-path="url(#pa740cd5ba5)">
     <use href="#m1bc015388f" x="1262.496667" y="376.8" style="fill: #0000ff; stroke: #0000ff; stroke-width: 3.5"/>
     <use href="#m1bc015388f" x="1290.993333" y="439.1" style="fill: #0000ff; stroke: #0000ff; stroke-width: 3.5"/>
     <use href="#m1bc015388f" x="1319.49" y="465.8" style="fill: #0000ff; stroke: #0000ff; stroke-width: 3.5"/>
     <use href="#m1bc015388f" x="1347.986667" y="552.2" style="fill: #0000ff; stroke: #0000ff; stroke-width: 3.5"/>
     <use href="#m1bc015388f" x="1376.483333" y="573.2" style="fill: #0000ff; stroke: #0000ff; stroke-width: 3.5"/>
     <use href="#m1bc015388f" x="1404.98" y="529" style="fill: #0000ff; stroke: #0000ff; stroke-width: 3.5"/>
     <use href="#m1bc015388f" x="1433.476667" y="522.7" style="fill: #0000ff; stroke: #0000ff; stroke-width: 3.5"/>
     <use href="#m1bc015388f" x="1461.973333" y="500.2" style="fill: #0000ff; stroke: #0000ff; stroke-width: 3.5"/>
     <use href="#m1bc015388f" x="1490.47" y="511.4" style="fill: #0000ff; stroke: #0000ff; stroke-width: 3.5"/>
     <use href="#m1bc015388f" x="1518.966667" y="530.4" style="fill: #0000ff; stroke: #0000ff; stroke-width: 3.5"/>
     <use href="#m1bc015388f" x="1547.463333" y="545.8" style="fill: #0000ff; stroke: #0000ff; stroke-width: 3.5"/>
     <use href="#m1bc015388f" x="1575.96" y="546.5" style="fill: #0000ff; stroke: #0000ff; stroke-width: 3.5"/>
     <use href="#m1bc015388f" x="1604.456667" y="638.7" style="fill: #0000ff; stroke: #0000ff; stroke-width: 3.5"/>
     <use href="#m1bc015388f" x="1632.953333" y="591.6" style="fill: #0000ff; stroke: #0000ff; stroke-width: 3.5"/>
     <use href="#m1bc015388f" x="1661.45" y="658.4" style="fill: #0000ff; stroke: #0000ff; stroke-width: 3.5"/>
     <use href="#m1bc015388f" x="1689.946667" y="652" style="fill: #0000ff; stroke: #0000ff; stroke-width: 3.5"/>
     <use href="#m1bc015388f" x="1718.443333" y="679.4" style="fill: #0000ff; stroke: #0000ff; stroke-width: 3.5"/>
     <use href="#m1bc015388f" x="1746.94" y="657" style="fill: #0000ff; stroke: #0000ff; stroke-width: 3.5"/>
     <use href="#m1bc015388f" x="1775.436667" y="687.9" style="fill: #0000ff; stroke: #0000ff; stroke-width: 3.5"/>
     <use href="#m1bc015388f" x="1803.933333" y="651.3" style="fill: #0000ff; stroke: #0000ff; stroke-width: 3.5"/>
     <use href="#m1bc015388f" x="1832.43" y="691.8" style="fill: #0000ff; stroke: #0000ff; stroke-width: 3.5"/>
     <use href="#m1bc015388f" x="1860.926667" y="660.9" style="fill: #0000ff; stroke: #0000ff; stroke-width: 3.5"/>
     <use href="#m1bc015388f" x="1889.423333" y="689" style="fill: #0000ff; stroke: #0000ff; stroke-width: 3.5"/>
     <use href="#m1bc015388f" x="1917.92" y="689.7" style="fill: #0000ff; stroke: #0000ff; stroke-width: 3.5"/>
     <use href="#m1bc015388f" x="1946.416667" y="684.8" style="fill: #0000ff; stroke: #0000ff; stroke-width: 3.5"/>
     <use href="#m1bc015388f" x="1974.913333" y="726.1" style="fill: #0000ff; stroke: #0000ff; stroke-width: 3.5"/>
     <use href="#m1bc015388f" x="2003.41" y="712.1" style="fill: #0000ff; stroke: #0000ff; stroke-width: 3.5"/>
     <use href="#m1bc015388f" x="2031.906667" y="760.6" style="fill: #0000ff; stroke: #0000ff; stroke-width: 3.5"/>
     <use href="#m1bc015388f" x="2060.403333" y="724.7" style="fill: #0000ff; stroke: #0000ff; stroke-width: 3.5"/>
     <use href="#m1bc015388f" x="2088.9" y="778.1" style="fill: #0000ff; stroke: #0000ff; stroke-width: 3.5"/>
    </g>
   </g>
   <g id="line2d_134">
    <path d="M 1262.496667 520.6 
L 1290.993333 459.4 
L 1319.49 435.5 
L 1347.986667 432 
L 1376.483333 427.1 
L 1404.98 430.6 
L 1433.476667 397.6 
L 1461.973333 401.8 
L 1490.47 396.2 
L 1518.966667 403 
L 1547.463333 405.3 
L 1575.96 408.8 
L 1604.456667 441.8 
L 1632.953333 438.3 
L 1661.45 482.6 
L 1689.946667 472 
L 1718.443333 481.9 
L 1746.94 484.7 
L 1775.436667 491 
L 1803.933333 498 
L 1832.43 488.8 
L 1860.926667 519.7 
L 1889.423333 498.6 
L 1917.92 526.7 
L 1946.416667 528.1 
L 1974.913333 544.3 
L 2003.41 545.7 
L 2031.906667 557.7 
L 2060.403333 561.2 
L 2088.9 571 
" clip-path="url(#pa740cd5ba5)" style="fill: none; stroke-dasharray: 19,7.35; stroke-dashoffset: 0; stroke: #ff0000; stroke-width: 5.6"/>
    <g clip-path="url(#pa740cd5ba5)">
     <use href="#ma22b54537e" x="1262.496667" y="520.6" style="fill: #ff0000; stroke: #ff0000; stroke-width: 3.5"/>
     <use href="#ma22b54537e" x="1290.993333" y="459.4" style="fill: #ff0000; stroke: #ff0000; stroke-width: 3.5"/>
     <use href="#ma22b54537e" x="1319.49" y="435.5" style="fill: #ff0000; stroke: #ff0000; stroke-width: 3.5"/>
     <use href="#ma22b54537e" x="1347.986667" y="432" style="fill: #ff0000; stroke: #ff0000; stroke-width: 3.5"/>
     <use href="#ma22b54537e" x="1376.483333" y="427.1" style="fill: #ff0000; stroke: #ff0000; stroke-width: 3.5"/>
     <use href="#ma22b54537e" x="1404.98" y="430.6" style="fill: #ff0000; stroke: #ff0000; stroke-width: 3.5"/>
     <use href="#ma22b54537e" x="1433.476667" y="397.6" style="fill: #ff0000; stroke: #ff0000; stroke-width: 3.5"/>
     <use href="#ma22b54537e" x="1461.973333" y="401.8" style="fill: #ff0000; stroke: #ff0000; stroke-width: 3.5"/>
     <use href="#ma22b54537e" x="1490.47" y="396.2" style="fill: #ff0000; stroke: #ff0000; stroke-width: 3.5"/>
     <use href="#ma22b54537e" x="1518.966667" y="403" style="fill: #ff0000; stroke: #ff0000; stroke-width: 3.5"/>
     <use href="#ma22b54537e" x="1547.463333" y="405.3" style="fill: #ff0000; stroke: #ff0000; stroke-width: 3.5"/>
     <use href="#ma22b54537e" x="1575.96" y="408.8" style="fill: #ff0000; stroke: #ff0000; stroke-width: 3.5"/>
     <use href="#ma22b54537e" x="1604.456667" y="441.8" style="fill: #ff0000; stroke: #ff0000; stroke-width: 3.5"/>
     <use href="#ma22b54537e" x="1632.953333" y="438.3" style="fill: #ff0000; stroke: #ff0000; stroke-width: 3.5"/>
     <use href="#ma22b54537e" x="1661.45" y="482.6" style="fill: #ff0000; stroke: #ff0000; stroke-width: 3.5"/>
     <use href="#ma22b54537e" x="1689.946667" y="472" style="fill: #ff0000; stroke: #ff0000; stroke-width: 3.5"/>
     <use href="#ma22b54537e" x="1718.443333" y="481.9" style="fill: #ff0000; stroke: #ff0000; stroke-width: 3.5"/>
     <use href="#ma22b54537e" x="1746.94" y="484.7" style="fill: #ff0000; stroke: #ff0000; stroke-width: 3.5"/>
     <use href="#ma22b54537e" x="1775.436667" y="491" style="fill: #ff0000; stroke: #ff0000; stroke-width: 3.5"/>
     <use href="#ma22b54537e" x="1803.933333" y="498" style="fill: #ff0000; stroke: #ff0000; stroke-width: 3.5"/>
     <use href="#ma22b54537e" x="1832.43" y="488.8" style="fill: #ff0000; stroke: #ff0000; stroke-width: 3.5"/>
     <use href="#ma22b54537e" x="1860.926667" y="519.7" style="fill: #ff0000; stroke: #ff0000; stroke-width: 3.5"/>
     <use href="#ma22b54537e" x="1889.423333" y="498.6" style="fill: #ff0000; stroke: #ff0000; stroke-width: 3.5"/>
     <use href="#ma22b54537e" x="1917.92" y="526.7" style="fill: #ff0000; stroke: #ff0000; stroke-width: 3.5"/>
     <use href="#ma22b54537e" x="1946.416667" y="528.1" style="fill: #ff0000; stroke: #ff0000; stroke-width: 3.5"/>
     <use href="#ma22b54537e" x="1974.913333" y="544.3" style="fill: #ff0000; stroke: #ff0000; stroke-width: 3.5"/>
     <use href="#ma22b54537e" x="2003.41" y="545.7" style="fill: #ff0000; stroke: #ff0000; stroke-width: 3.5"/>
     <use href="#ma22b54537e" x="2031.906667" y="557.7" style="fill: #ff0000; stroke: #ff0000; stroke-width: 3.5"/>
     <use href="#ma22b54537e" x="2060.403333" y="561.2" style="fill: #ff0000; stroke: #ff0000; stroke-width: 3.5"/>
     <use href="#ma22b54537e" x="2088.9" y="571" style="fill: #ff0000; stroke: #ff0000; stroke-width: 3.5"/>
    </g>
   </g>
   <g id="line2d_135">
    <path d="M 1262.496667 520.6 
L 1290.993333 463.6 
L 1319.49 451 
L 1347.986667 452.4 
L 1376.483333 444.7 
L 1404.98 432.7 
L 1433.476667 411.7 
L 1461.973333 406 
L 1490.47 406 
L 1518.966667 408.8 
L 1547.463333 412.5 
L 1575.96 423.6 
L 1604.456667 448.8 
L 1632.953333 473.4 
L 1661.45 496.6 
L 1689.946667 500.8 
L 1718.443333 499.4 
L 1746.94 502.2 
L 1775.436667 505.8 
L 1803.933333 521.2 
L 1832.43 530.3 
L 1860.926667 540.1 
L 1889.423333 548.5 
L 1917.92 553.4 
L 1946.416667 563.3 
L 1974.913333 563.3 
L 2003.41 568.2 
L 2031.906667 573.8 
L 2060.403333 578 
L 2088.9 586.5 
" clip-path="url(#pa740cd5ba5)" style="fill: none; stroke: #ff0000; stroke-width: 5.6; stroke-linecap: square"/>
    <g clip-path="url(#pa740cd5ba5)">
     <use href="#ma22b54537e" x="1262.496667" y="520.6" style="fill: #ff0000; stroke: #ff0000; stroke-width: 3.5"/>
     <use href="#ma22b54537e" x="1290.993333" y="463.6" style="fill: #ff0000; stroke: #ff0000; stroke-width: 3.5"/>
     <use href="#ma22b54537e" x="1319.49" y="451" style="fill: #ff0000; stroke: #ff0000; stroke-width: 3.5"/>
     <use href="#ma22b54537e" x="1347.986667" y="452.4" style="fill: #ff0000; stroke: #ff0000; stroke-width: 3.5"/>
     <use href="#ma22b54537e" x="1376.483333" y="444.7" style="fill: #ff0000; stroke: #ff0000; stroke-width: 3.5"/>
     <use href="#ma22b54537e" x="1404.98" y="432.7" style="fill: #ff0000; stroke: #ff0000; stroke-width: 3.5"/>
     <use href="#ma22b54537e" x="1433.476667" y="411.7" style="fill: #ff0000; stroke: #ff0000; stroke-width: 3.5"/>
     <use href="#ma22b54537e" x="1461.973333" y="406" style="fill: #ff0000; stroke: #ff0000; stroke-width: 3.5"/>
     <use href="#ma22b54537e" x="1490.47" y="406" style="fill: #ff0000; stroke: #ff0000; stroke-width: 3.5"/>
     <use href="#ma22b54537e" x="1518.966667" y="408.8" style="fill: #ff0000; stroke: #ff0000; stroke-width: 3.5"/>
     <use href="#ma22b54537e" x="1547.463333" y="412.5" style="fill: #ff0000; stroke: #ff0000; stroke-width: 3.5"/>
     <use href="#ma22b54537e" x="1575.96" y="423.6" style="fill: #ff0000; stroke: #ff0000; stroke-width: 3.5"/>
     <use href="#ma22b54537e" x="1604.456667" y="448.8" style="fill: #ff0000; stroke: #ff0000; stroke-width: 3.5"/>
     <use href="#ma22b54537e" x="1632.953333" y="473.4" style="fill: #ff0000; stroke: #ff0000; stroke-width: 3.5"/>
     <use href="#ma22b54537e" x="1661.45" y="496.6" style="fill: #ff0000; stroke: #ff0000; stroke-width: 3.5"/>
     <use href="#ma22b54537e" x="1689.946667" y="500.8" style="fill: #ff0000; stroke: #ff0000; stroke-width: 3.5"/>
     <use href="#ma22b54537e" x="1718.443333" y="499.4" style="fill: #ff0000; stroke: #ff0000; stroke-width: 3.5"/>
     <use href="#ma22b54537e" x="1746.94" y="502.2" style="fill: #ff0000; stroke: #ff0000; stroke-width: 3.5"/>
     <use href="#ma22b54537e" x="1775.436667" y="505.8" style="fill: #ff0000; stroke: #ff0000; stroke-width: 3.5"/>
     <use href="#ma22b54537e" x="1803.933333" y="521.2" style="fill: #ff0000; stroke: #ff0000; stroke-width: 3.5"/>
     <use href="#ma22b54537e" x="1832.43" y="530.3" style="fill: #ff0000; stroke: #ff0000; stroke-width: 3.5"/>
     <use href="#ma22b54537e" x="1860.926667" y="540.1" style="fill: #ff0000; stroke: #ff0000; stroke-width: 3.5"/>
     <use href="#ma22b54537e" x="1889.423333" y="548.5" style="fill: #ff0000; stroke: #ff0000; stroke-width: 3.5"/>
     <use href="#ma22b54537e" x="1917.92" y="553.4" style="fill: #ff0000; stroke: #ff0000; stroke-width: 3.5"/>
     <use href="#ma22b54537e" x="1946.416667" y="563.3" style="fill: #ff0000; stroke: #ff0000; stroke-width: 3.5"/>
     <use href="#ma22b54537e" x="1974.913333" y="563.3" style="fill: #ff0000; stroke: #ff0000; stroke-width: 3.5"/>
     <use href="#ma22b54537e" x="2003.41" y="568.2" style="fill: #ff0000; stroke: #ff0000; stroke-width: 3.5"/>
     <use href="#ma22b54537e" x="2031.906667" y="573.8" style="fill: #ff0000; stroke: #ff0000; stroke-width: 3.5"/>
     <use href="#ma22b54537e" x="2060.403333" y="578" style="fill: #ff0000; stroke: #ff0000; stroke-width: 3.5"/>
     <use href="#ma22b54537e" x="2088.9" y="586.5" style="fill: #ff0000; stroke: #ff0000; stroke-width: 3.5"/>
    </g>
   </g>
   <g id="line2d_136">
    <path d="M 1262.496667 768 
L 1290.993333 621.1 
L 1319.49 565.3 
L 1347.986667 538.1 
L 1376.483333 543 
L 1404.98 657.7 
L 1433.476667 524.8 
L 1461.973333 609.9 
L 1490.47 554.3 
L 1518.966667 576.9 
L 1547.463333 568.3 
L 1575.96 528.9 
L 1604.456667 595.7 
L 1632.953333 507.9 
L 1661.45 601.3 
L 1689.946667 552.1 
L 1718.443333 592.9 
L 1746.94 591.5 
L 1775.436667 610.4 
L 1803.933333 593.6 
L 1832.43 547.8 
L 1860.926667 620.9 
L 1889.423333 549.9 
L 1917.92 609.6 
L 1946.416667 597 
L 1974.913333 652.4 
L 2003.41 641.8 
L 2031.906667 672.7 
L 2060.403333 676.2 
L 2088.9 689.6 
" clip-path="url(#pa740cd5ba5)" style="fill: none; stroke-dasharray: 5.6,7.5; stroke-dashoffset: 0; stroke: #ff0000; stroke-width: 5.6"/>
    <g clip-path="url(#pa740cd5ba5)">
     <use href="#ma22b54537e" x="1262.496667" y="768" style="fill: #ff0000; stroke: #ff0000; stroke-width: 3.5"/>
     <use href="#ma22b54537e" x="1290.993333" y="621.1" style="fill: #ff0000; stroke: #ff0000; stroke-width: 3.5"/>
     <use href="#ma22b54537e" x="1319.49" y="565.3" style="fill: #ff0000; stroke: #ff0000; stroke-width: 3.5"/>
     <use href="#ma22b54537e" x="1347.986667" y="538.1" style="fill: #ff0000; stroke: #ff0000; stroke-width: 3.5"/>
     <use href="#ma22b54537e" x="1376.483333" y="543" style="fill: #ff0000; stroke: #ff0000; stroke-width: 3.5"/>
     <use href="#ma22b54537e" x="1404.98" y="657.7" style="fill: #ff0000; stroke: #ff0000; stroke-width: 3.5"/>
     <use href="#ma22b54537e" x="1433.476667" y="524.8" style="fill: #ff0000; stroke: #ff0000; stroke-width: 3.5"/>
     <use href="#ma22b54537e" x="1461.973333" y="609.9" style="fill: #ff0000; stroke: #ff0000; stroke-width: 3.5"/>
     <use href="#ma22b54537e" x="1490.47" y="554.3" style="fill: #ff0000; stroke: #ff0000; stroke-width: 3.5"/>
     <use href="#ma22b54537e" x="1518.966667" y="576.9" style="fill: #ff0000; stroke: #ff0000; stroke-width: 3.5"/>
     <use href="#ma22b54537e" x="1547.463333" y="568.3" style="fill: #ff0000; stroke: #ff0000; stroke-width: 3.5"/>
     <use href="#ma22b54537e" x="1575.96" y="528.9" style="fill: #ff0000; stroke: #ff0000; stroke-width: 3.5"/>
     <use href="#ma22b54537e" x="1604.456667" y="595.7" style="fill: #ff0000; stroke: #ff0000; stroke-width: 3.5"/>
     <use href="#ma22b54537e" x="1632.953333" y="507.9" style="fill: #ff0000; stroke: #ff0000; stroke-width: 3.5"/>
     <use href="#ma22b54537e" x="1661.45" y="601.3" style="fill: #ff0000; stroke: #ff0000; stroke-width: 3.5"/>
     <use href="#ma22b54537e" x="1689.946667" y="552.1" style="fill: #ff0000; stroke: #ff0000; stroke-width: 3.5"/>
     <use href="#ma22b54537e" x="1718.443333" y="592.9" style="fill: #ff0000; stroke: #ff0000; stroke-width: 3.5"/>
     <use href="#ma22b54537e" x="1746.94" y="591.5" style="fill: #ff0000; stroke: #ff0000; stroke-width: 3.5"/>
     <use href="#ma22b54537e" x="1775.436667" y="610.4" style="fill: #ff0000; stroke: #ff0000; stroke-width: 3.5"/>
     <use href="#ma22b54537e" x="1803.933333" y="593.6" style="fill: #ff0000; stroke: #ff0000; stroke-width: 3.5"/>
     <use href="#ma22b54537e" x="1832.43" y="547.8" style="fill: #ff0000; stroke: #ff0000; stroke-width: 3.5"/>
     <use href="#ma22b54537e" x="1860.926667" y="620.9" style="fill: #ff0000; stroke: #ff0000; stroke-width: 3.5"/>
     <use href="#ma22b54537e" x="1889.423333" y="549.9" style="fill: #ff0000; stroke: #ff0000; stroke-width: 3.5"/>
     <use href="#ma22b54537e" x="1917.92" y="609.6" style="fill: #ff0000; stroke: #ff0000; stroke-width: 3.5"/>
     <use href="#ma22b54537e" x="1946.416667" y="597" style="fill: #ff0000; stroke: #ff0000; stroke-width: 3.5"/>
     <use href="#ma22b54537e" x="1974.913333" y="652.4" style="fill: #ff0000; stroke: #ff0000; stroke-width: 3.5"/>
     <use href="#ma22b54537e" x="2003.41" y="641.8" style="fill: #ff0000; stroke: #ff0000; stroke-width: 3.5"/>
     <use href="#ma22b54537e" x="2031.906667" y="672.7" style="fill: #ff0000; stroke: #ff0000; stroke-width: 3.5"/>
     <use href="#ma22b54537e" x="2060.403333" y="676.2" style="fill: #ff0000; stroke: #ff0000; stroke-width: 3.5"/>
     <use href="#ma22b54537e" x="2088.9" y="689.6" style="fill: #ff0000; stroke: #ff0000; stroke-width: 3.5"/>
    </g>
   </g>
   <g id="line2d_137">
    <path d="M 1262.496667 73.3 
L 1290.993333 126 
L 1319.49 176.6 
L 1347.986667 276.4 
L 1376.483333 230 
L 1404.98 249.7 
L 1433.476667 222.3 
L 1461.973333 209.6 
L 1490.47 216.6 
L 1518.966667 205.4 
L 1547.463333 217.9 
L 1575.96 209.5 
L 1604.456667 259.4 
L 1632.953333 279.1 
L 1661.45 328.9 
L 1689.946667 340.2 
L 1718.443333 338.8 
L 1746.94 347.9 
L 1775.436667 329.6 
L 1803.933333 338.1 
L 1832.43 322.3 
L 1860.926667 332.9 
L 1889.423333 323.7 
L 1917.92 336.4 
L 1946.416667 335 
L 1974.913333 349 
L 2003.41 353.9 
L 2031.906667 366.6 
L 2060.403333 373.6 
L 2088.9 385.5 
" clip-path="url(#pa740cd5ba5)" style="fill: none; stroke: #000000; stroke-width: 5.6; stroke-linecap: square"/>
    <g clip-path="url(#pa740cd5ba5)">
     <use href="#mdfbb6a1ec8" x="1262.496667" y="73.3" style="stroke: #000000; stroke-width: 3.5"/>
     <use href="#mdfbb6a1ec8" x="1290.993333" y="126" style="stroke: #000000; stroke-width: 3.5"/>
     <use href="#mdfbb6a1ec8" x="1319.49" y="176.6" style="stroke: #000000; stroke-width: 3.5"/>
     <use href="#mdfbb6a1ec8" x="1347.986667" y="276.4" style="stroke: #000000; stroke-width: 3.5"/>
     <use href="#mdfbb6a1ec8" x="1376.483333" y="230" style="stroke: #000000; stroke-width: 3.5"/>
     <use href="#mdfbb6a1ec8" x="1404.98" y="249.7" style="stroke: #000000; stroke-width: 3.5"/>
     <use href="#mdfbb6a1ec8" x="1433.476667" y="222.3" style="stroke: #000000; stroke-width: 3.5"/>
     <use href="#mdfbb6a1ec8" x="1461.973333" y="209.6" style="stroke: #000000; stroke-width: 3.5"/>
     <use href="#mdfbb6a1ec8" x="1490.47" y="216.6" style="stroke: #000000; stroke-width: 3.5"/>
     <use href="#mdfbb6a1ec8" x="1518.966667" y="205.4" style="stroke: #000000; stroke-width: 3.5"/>
     <use href="#mdfbb6a1ec8" x="1547.463333" y="217.9" style="stroke: #000000; stroke-width: 3.5"/>
     <use href="#mdfbb6a1ec8" x="1575.96" y="209.5" style="stroke: #000000; stroke-width: 3.5"/>
     <use href="#mdfbb6a1ec8" x="1604.456667" y="259.4" style="stroke: #000000; stroke-width: 3.5"/>
     <use href="#mdfbb6a1ec8" x="1632.953333" y="279.1" style="stroke: #000000; stroke-width: 3.5"/>
     <use href="#mdfbb6a1ec8" x="1661.45" y="328.9" style="stroke: #000000; stroke-width: 3.5"/>
     <use href="#mdfbb6a1ec8" x="1689.946667" y="340.2" style="stroke: #000000; stroke-width: 3.5"/>
     <use href="#mdfbb6a1ec8" x="1718.443333" y="338.8" style="stroke: #000000; stroke-width: 3.5"/>
     <use href="#mdfbb6a1ec8" x="1746.94" y="347.9" style="stroke: #000000; stroke-width: 3.5"/>
     <use href="#mdfbb6a1ec8" x="1775.436667" y="329.6" style="stroke: #000000; stroke-width: 3.5"/>
     <use href="#mdfbb6a1ec8" x="1803.933333" y="338.1" style="stroke: #000000; stroke-width: 3.5"/>
     <use href="#mdfbb6a1ec8" x="1832.43" y="322.3" style="stroke: #000000; stroke-width: 3.5"/>
     <use href="#mdfbb6a1ec8" x="1860.926667" y="332.9" style="stroke: #000000; stroke-width: 3.5"/>
     <use href="#mdfbb6a1ec8" x="1889.423333" y="323.7" style="stroke: #000000; stroke-width: 3.5"/>
     <use href="#mdfbb6a1ec8" x="1917.92" y="336.4" style="stroke: #000000; stroke-width: 3.5"/>
     <use href="#mdfbb6a1ec8" x="1946.416667" y="335" style="stroke: #000000; stroke-width: 3.5"/>
     <use href="#mdfbb6a1ec8" x="1974.913333" y="349" style="stroke: #000000; stroke-width: 3.5"/>
     <use href="#mdfbb6a1ec8" x="2003.41" y="353.9" style="stroke: #000000; stroke-width: 3.5"/>
     <use href="#mdfbb6a1ec8" x="2031.906667" y="366.6" style="stroke: #000000; stroke-width: 3.5"/>
     <use href="#mdfbb6a1ec8" x="2060.403333" y="373.6" style="stroke: #000000; stroke-width: 3.5"/>
     <use href="#mdfbb6a1ec8" x="2088.9" y="385.5" style="stroke: #000000; stroke-width: 3.5"/>
    </g>
   </g>
   <g id="line2d_138">
    <path d="M 1390.731667 813 
L 1390.731667 67.4 
" clip-path="url(#pa740cd5ba5)" style="fill: none; stroke-dasharray: 19,7.35; stroke-dashoffset: 0; stroke: #000000; stroke-width: 5.6"/>
   </g>
   <g id="patch_8">
    <path d="M 1234 813 
L 1234 67.4 
" style="fill: none; stroke: #000000; stroke-width: 3; stroke-linejoin: miter; stroke-linecap: square"/>
   </g>
   <g id="patch_9">
    <path d="M 2088.9 813 
L 2088.9 67.4 
" style="fill: none; stroke: #000000; stroke-width: 3; stroke-linejoin: miter; stroke-linecap: square"/>
   </g>
   <g id="patch_10">
    <path d="M 1234 813 
L 2088.9 813 
" style="fill: none; stroke: #000000; stroke-width: 3; stroke-linejoin: miter; stroke-linecap: square"/>
   </g>
   <g id="patch_11">
    <path d="M 1234 67.4 
L 2088.9 67.4 
" style="fill: none; stroke: #000000; stroke-width: 3; stroke-linejoin: miter; stroke-linecap: square"/>
   </g>
   <g id="text_30">
    <text style="font-size: 39.9px; font-family: 'DejaVu Sans'; text-anchor: start" x="1234" y="47.4002" transform="rotate(-0 1234 47.4002)">b) 10-20 days dry season with lag 0</text>
   </g>
   <g id="legend_1">
    <g id="patch_12">
     <path d="M 2146.427 435.019484 
L 2330.918966 435.019484 
Q 2337.584966 435.019484 2337.584966 428.353484 
L 2337.584966 90.731 
Q 2337.584966 84.065 2330.918966 84.065 
L 2146.427 84.065 
Q 2139.761 84.065 2139.761 90.731 
L 2139.761 428.353484 
Q 2139.761 435.019484 2146.427 435.019484 
z
" style="fill: #ffffff; opacity: 0.8; stroke: #cccccc; stroke-width: 3.3333; stroke-linejoin: miter"/>
    </g>
    <g id="line2d_139">
     <path d="M 2153.093 111.057092 
L 2186.423 111.057092 
L 2219.753 111.057092 
" style="fill: none; stroke-dasharray: 19,7.35; stroke-dashoffset: 0; stroke: #0000ff; stroke-width: 5.6"/>
     <g>
      <use href="#m1bc015388f" x="2186.423" y="111.057092" style="fill: #0000ff; stroke: #0000ff; stroke-width: 3.5"/>
     </g>
    </g>
    <g id="text_31">
     <text style="font-size: 33.33px; font-family: 'DejaVu Sans'; text-anchor: start" x="2246.417" y="122.722592" transform="rotate(-0 2246.417 122.722592)">ROT</text>
    </g>
    <g id="line2d_140">
     <path d="M 2153.093 159.729308 
L 2186.423 159.729308 
L 2219.753 159.729308 
" style="fill: none; stroke: #0000ff; stroke-width: 5.6; stroke-linecap: square"/>
     <g>
      <use href="#m1bc015388f" x="2186.423" y="159.729308" style="fill: #0000ff; stroke: #0000ff; stroke-width: 3.5"/>
     </g>
    </g>
    <g id="text_32">
     <text style="font-size: 33.33px; font-family: 'DejaVu Sans'; text-anchor: start" x="2246.417" y="171.394808" transform="rotate(-0 2246.417 171.394808)">RH</text>
    </g>
    <g id="line2d_141">
     <path d="M 2153.093 208.401523 
L 2186.423 208.401523 
L 2219.753 208.401523 
" style="fill: none; stroke-dasharray: 5.6,7.5; stroke-dashoffset: 0; stroke: #0000ff; stroke-width: 5.6"/>
     <g>
      <use href="#m1bc015388f" x="2186.423" y="208.401523" style="fill: #0000ff; stroke: #0000ff; stroke-width: 3.5"/>
     </g>
    </g>
    <g id="text_33">
     <text style="font-size: 33.33px; font-family: 'DejaVu Sans'; text-anchor: start" x="2246.417" y="220.067023" transform="rotate(-0 2246.417 220.067023)">MRG</text>
    </g>
    <g id="line2d_142">
     <path d="M 2153.093 257.073739 
L 2186.423 257.073739 
L 2219.753 257.073739 
" style="fill: none; stroke-dasharray: 19,7.35; stroke-dashoffset: 0; stroke: #ff0000; stroke-width: 5.6"/>
     <g>
      <use href="#ma22b54537e" x="2186.423" y="257.073739" style="fill: #ff0000; stroke: #ff0000; stroke-width: 3.5"/>
     </g>
    </g>
    <g id="text_34">
     <text style="font-size: 33.33px; font-family: 'DejaVu Sans'; text-anchor: start" x="2246.417" y="268.739239" transform="rotate(-0 2246.417 268.739239)">IGW</text>
    </g>
    <g id="line2d_143">
     <path d="M 2153.093 305.745955 
L 2186.423 305.745955 
L 2219.753 305.745955 
" style="fill: none; stroke: #ff0000; stroke-width: 5.6; stroke-linecap: square"/>
     <g>
      <use href="#ma22b54537e" x="2186.423" y="305.745955" style="fill: #ff0000; stroke: #ff0000; stroke-width: 3.5"/>
     </g>
    </g>
    <g id="text_35">
     <text style="font-size: 33.33px; font-family: 'DejaVu Sans'; text-anchor: start" x="2246.417" y="317.411455" transform="rotate(-0 2246.417 317.411455)">IG</text>
    </g>
    <g id="line2d_144">
     <path d="M 2153.093 354.41817 
L 2186.423 354.41817 
L 2219.753 354.41817 
" style="fill: none; stroke-dasharray: 5.6,7.5; stroke-dashoffset: 0; stroke: #ff0000; stroke-width: 5.6"/>
     <g>
      <use href="#ma22b54537e" x="2186.423" y="354.41817" style="fill: #ff0000; stroke: #ff0000; stroke-width: 3.5"/>
     </g>
    </g>
    <g id="text_36">
     <text style="font-size: 33.33px; font-family: 'DejaVu Sans'; text-anchor: start" x="2246.417" y="366.08367" transform="rotate(-0 2246.417 366.08367)">K</text>
    </g>
    <g id="line2d_145">
     <path d="M 2153.093 403.090386 
L 2186.423 403.090386 
L 2219.753 403.090386 
" style="fill: none; stroke: #000000; stroke-width: 5.6; stroke-linecap: square"/>
     <g>
      <use href="#mdfbb6a1ec8" x="2186.423" y="403.090386" style="stroke: #000000; stroke-width: 3.5"/>
     </g>
    </g>
    <g id="text_37">
     <text style="font-size: 33.33px; font-family: 'DejaVu Sans'; text-anchor: start" x="2246.417" y="414.755886" transform="rotate(-0 2246.417 414.755886)">Total</text>
    </g>
   </g>
  </g>
  <g id="axes_3">
   <g id="patch_13">
    <path d="M 170.4 1750.6 
L 1025.9 1750.6 
L 1025.9 1005.1 
L 170.4 1005.1 
z
" style="fill: #ffffff"/>
   </g>
   <g id="matplotlib.axis_5">
    <g id="xtick_15">
     <g id="line2d_146">
      <path d="M 170.4 1750.6 
L 170.4 1005.1 
" clip-path="url(#p37978706fa)" style="fill: none; stroke: #b0b0b0; stroke-width: 2.66664; stroke-linecap: square"/>
     </g>
     <g id="line2d_147">
      <g>
       <use href="#m4aa09e311d" x="170.4" y="1750.6" style="stroke: #000000; stroke-width: 2.8"/>
      </g>
     </g>
     <g id="text_38">
      <text style="font-size: 33.33px; font-family: 'DejaVu Sans'; text-anchor: middle" x="170.4" y="1799.258692" transform="rotate(-0 170.4 1799.258692)">0</text>
     </g>
    </g>
    <g id="xtick_16">
     <g id="line2d_148">
      <path d="M 312.983333 1750.6 
L 312.983333 1005.1 
" clip-path="url(#p37978706fa)" style="fill: none; stroke: #b0b0b0; stroke-width: 2.66664; stroke-linecap: square"/>
     </g>
     <g id="line2d_149">
      <g>
       <use href="#m4aa09e311d" x="312.983333" y="1750.6" style="stroke: #000000; stroke-width: 2.8"/>
      </g>
     </g>
     <g id="text_39">
      <text style="font-size: 33.33px; font-family: 'DejaVu Sans'; text-anchor: middle" x="312.983333" y="1799.258692" transform="rotate(-0 312.983333 1799.258692)">5</text>
     </g>
    </g>
    <g id="xtick_17">
     <g id="line2d_150">
      <path d="M 455.566667 1750.6 
L 455.566667 1005.1 
" clip-path="url(#p37978706fa)" style="fill: none; stroke: #b0b0b0; stroke-width: 2.66664; stroke-linecap: square"/>
     </g>
     <g id="line2d_151">
      <g>
       <use href="#m4aa09e311d" x="455.566667" y="1750.6" style="stroke: #000000; stroke-width: 2.8"/>
      </g>
     </g>
     <g id="text_40">
      <text style="font-size: 33.33px; font-family: 'DejaVu Sans'; text-anchor: middle" x="455.566667" y="1799.258692" transform="rotate(-0 455.566667 1799.258692)">10</text>
     </g>
    </g>
    <g id="xtick_18">
     <g id="line2d_152">
      <path d="M 598.15 1750.6 
L 598.15 1005.1 
" clip-path="url(#p37978706fa)" style="fill: none; stroke: #b0b0b0; stroke-width: 2.66664; stroke-linecap: square"/>
     </g>
     <g id="line2d_153">
      <g>
       <use href="#m4aa09e311d" x="598.15" y="1750.6" style="stroke: #000000; stroke-width: 2.8"/>
      </g>
     </g>
     <g id="text_41">
      <text style="font-size: 33.33px; font-family: 'DejaVu Sans'; text-anchor: middle" x="598.15" y="1799.258692" transform="rotate(-0 598.15 1799.258692)">15</text>
     </g>
    </g>
    <g id="xtick_19">
     <g id="line2d_154">
      <path d="M 740.733333 1750.6 
L 740.733333 1005.1 
" clip-path="url(#p37978706fa)" style="fill: none; stroke: #b0b0b0; stroke-width: 2.66664; stroke-linecap: square"/>
     </g>
     <g id="line2d_155">
      <g>
       <use href="#m4aa09e311d" x="740.733333" y="1750.6" style="stroke: #000000; stroke-width: 2.8"/>
      </g>
     </g>
     <g id="text_42">
      <text style="font-size: 33.33px; font-family: 'DejaVu Sans'; text-anchor: middle" x="740.733333" y="1799.258692" transform="rotate(-0 740.733333 1799.258692)">20</text>
     </g>
    </g>
    <g id="xtick_20">
     <g id="line2d_156">
      <path d="M 883.316667 1750.6 
L 883.316667 1005.1 
" clip-path="url(#p37978706fa)" style="fill: none; stroke: #b0b0b0; stroke-width: 2.66664; stroke-linecap: square"/>
     </g>
     <g id="line2d_157">
      <g>
       <use href="#m4aa09e311d" x="883.316667" y="1750.6" style="stroke: #000000; stroke-width: 2.8"/>
      </g>
     </g>
     <g id="text_43">
      <text style="font-size: 33.33px; font-family: 'DejaVu Sans'; text-anchor: middle" x="883.316667" y="1799.258692" transform="rotate(-0 883.316667 1799.258692)">25</text>
     </g>
    </g>
    <g id="xtick_21">
     <g id="line2d_158">
      <path d="M 1025.9 1750.6 
L 1025.9 1005.1 
" clip-path="url(#p37978706fa)" style="fill: none; stroke: #b0b0b0; stroke-width: 2.66664; stroke-linecap: square"/>
     </g>
     <g id="line2d_159">
      <g>
       <use href="#m4aa09e311d" x="1025.9" y="1750.6" style="stroke: #000000; stroke-width: 2.8"/>
      </g>
     </g>
     <g id="text_44">
      <text style="font-size: 33.33px; font-family: 'DejaVu Sans'; text-anchor: middle" x="1025.9" y="1799.258692" transform="rotate(-0 1025.9 1799.258692)">30</text>
     </g>
    </g>
    <g id="text_45">
     <text style="font-size: 33.33px; font-family: 'DejaVu Sans'; text-anchor: middle" x="598.15" y="1844.849083" transform="rotate(-0 598.15 1844.849083)">Zonal wavenumber</text>
    </g>
   </g>
   <g id="matplotlib.axis_6">
    <g id="ytick_86">
     <g id="line2d_160">
      <path d="M 170.4 1679.070455 
L 1025.9 1679.070455 
" clip-path="url(#p37978706fa)" style="fill: none; stroke: #b0b0b0; stroke-width: 2.66664; stroke-linecap: square"/>
     </g>
     <g id="line2d_161">
      <g>
       <use href="#m0a65cb3548" x="170.4" y="1679.070455" style="stroke: #000000; stroke-width: 2.8"/>
      </g>
     </g>
     <g id="text_46">
      
      <g transform="translate(68.7414 1691.733251)">
       <text>
        <tspan x="0" y="-0.217188" style="font-size: 33.33px; font-family: 'DejaVu Sans'">1</tspan>
        <tspan x="21.234192" y="-0.217188" style="font-size: 33.33px; font-family: 'DejaVu Sans'">0</tspan>
        <tspan x="42.784204" y="-12.85" style="font-size: 23.331px; font-family: 'DejaVu Sans'">−</tspan>
        <tspan x="62.359424" y="-12.85" style="font-size: 23.331px; font-family: 'DejaVu Sans'">3</tspan>
       </text>
      </g>
     </g>
    </g>
    <g id="ytick_87">
     <g id="line2d_162">
      <path d="M 170.4 1535.580897 
L 1025.9 1535.580897 
" clip-path="url(#p37978706fa)" style="fill: none; stroke: #b0b0b0; stroke-width: 2.66664; stroke-linecap: square"/>
     </g>
     <g id="line2d_163">
      <g>
       <use href="#m0a65cb3548" x="170.4" y="1535.580897" style="stroke: #000000; stroke-width: 2.8"/>
      </g>
     </g>
     <g id="text_47">
      
      <g transform="translate(68.7414 1548.243693)">
       <text>
        <tspan x="0" y="-0.217188" style="font-size: 33.33px; font-family: 'DejaVu Sans'">1</tspan>
        <tspan x="21.234192" y="-0.217188" style="font-size: 33.33px; font-family: 'DejaVu Sans'">0</tspan>
        <tspan x="42.784204" y="-12.85" style="font-size: 23.331px; font-family: 'DejaVu Sans'">−</tspan>
        <tspan x="62.359424" y="-12.85" style="font-size: 23.331px; font-family: 'DejaVu Sans'">2</tspan>
       </text>
      </g>
     </g>
    </g>
    <g id="ytick_88">
     <g id="line2d_164">
      <path d="M 170.4 1392.091339 
L 1025.9 1392.091339 
" clip-path="url(#p37978706fa)" style="fill: none; stroke: #b0b0b0; stroke-width: 2.66664; stroke-linecap: square"/>
     </g>
     <g id="line2d_165">
      <g>
       <use href="#m0a65cb3548" x="170.4" y="1392.091339" style="stroke: #000000; stroke-width: 2.8"/>
      </g>
     </g>
     <g id="text_48">
      
      <g transform="translate(68.7414 1404.754135)">
       <text>
        <tspan x="0" y="-0.523438" style="font-size: 33.33px; font-family: 'DejaVu Sans'">1</tspan>
        <tspan x="21.234192" y="-0.523438" style="font-size: 33.33px; font-family: 'DejaVu Sans'">0</tspan>
        <tspan x="42.784204" y="-13.15625" style="font-size: 23.331px; font-family: 'DejaVu Sans'">−</tspan>
        <tspan x="62.359424" y="-13.15625" style="font-size: 23.331px; font-family: 'DejaVu Sans'">1</tspan>
       </text>
      </g>
     </g>
    </g>
    <g id="ytick_89">
     <g id="line2d_166">
      <path d="M 170.4 1248.60178 
L 1025.9 1248.60178 
" clip-path="url(#p37978706fa)" style="fill: none; stroke: #b0b0b0; stroke-width: 2.66664; stroke-linecap: square"/>
     </g>
     <g id="line2d_167">
      <g>
       <use href="#m0a65cb3548" x="170.4" y="1248.60178" style="stroke: #000000; stroke-width: 2.8"/>
      </g>
     </g>
     <g id="text_49">
      
      <g transform="translate(88.4061 1261.264576)">
       <text>
        <tspan x="0" y="-0.217188" style="font-size: 33.33px; font-family: 'DejaVu Sans'">1</tspan>
        <tspan x="21.234192" y="-0.217188" style="font-size: 33.33px; font-family: 'DejaVu Sans'">0</tspan>
        <tspan x="42.784204" y="-12.85" style="font-size: 23.331px; font-family: 'DejaVu Sans'">0</tspan>
       </text>
      </g>
     </g>
    </g>
    <g id="ytick_90">
     <g id="line2d_168">
      <path d="M 170.4 1105.112222 
L 1025.9 1105.112222 
" clip-path="url(#p37978706fa)" style="fill: none; stroke: #b0b0b0; stroke-width: 2.66664; stroke-linecap: square"/>
     </g>
     <g id="line2d_169">
      <g>
       <use href="#m0a65cb3548" x="170.4" y="1105.112222" style="stroke: #000000; stroke-width: 2.8"/>
      </g>
     </g>
     <g id="text_50">
      
      <g transform="translate(88.4061 1117.775018)">
       <text>
        <tspan x="0" y="-0.523438" style="font-size: 33.33px; font-family: 'DejaVu Sans'">1</tspan>
        <tspan x="21.234192" y="-0.523438" style="font-size: 33.33px; font-family: 'DejaVu Sans'">0</tspan>
        <tspan x="42.784204" y="-13.15625" style="font-size: 23.331px; font-family: 'DejaVu Sans'">1</tspan>
       </text>
      </g>
     </g>
    </g>
    <g id="ytick_91">
     <g id="line2d_170">
      <g>
       <use href="#mfb48398925" x="170.4" y="1736.170691" style="stroke: #000000; stroke-width: 2"/>
      </g>
     </g>
    </g>
    <g id="ytick_92">
     <g id="line2d_171">
      <g>
       <use href="#mfb48398925" x="170.4" y="1722.265116" style="stroke: #000000; stroke-width: 2"/>
      </g>
     </g>
    </g>
    <g id="ytick_93">
     <g id="line2d_172">
      <g>
       <use href="#mfb48398925" x="170.4" y="1710.903434" style="stroke: #000000; stroke-width: 2"/>
      </g>
     </g>
    </g>
    <g id="ytick_94">
     <g id="line2d_173">
      <g>
       <use href="#mfb48398925" x="170.4" y="1701.297269" style="stroke: #000000; stroke-width: 2"/>
      </g>
     </g>
    </g>
    <g id="ytick_95">
     <g id="line2d_174">
      <g>
       <use href="#mfb48398925" x="170.4" y="1692.97603" style="stroke: #000000; stroke-width: 2"/>
      </g>
     </g>
    </g>
    <g id="ytick_96">
     <g id="line2d_175">
      <g>
       <use href="#mfb48398925" x="170.4" y="1685.636177" style="stroke: #000000; stroke-width: 2"/>
      </g>
     </g>
    </g>
    <g id="ytick_97">
     <g id="line2d_176">
      <g>
       <use href="#mfb48398925" x="170.4" y="1635.875794" style="stroke: #000000; stroke-width: 2"/>
      </g>
     </g>
    </g>
    <g id="ytick_98">
     <g id="line2d_177">
      <g>
       <use href="#mfb48398925" x="170.4" y="1610.608537" style="stroke: #000000; stroke-width: 2"/>
      </g>
     </g>
    </g>
    <g id="ytick_99">
     <g id="line2d_178">
      <g>
       <use href="#mfb48398925" x="170.4" y="1592.681133" style="stroke: #000000; stroke-width: 2"/>
      </g>
     </g>
    </g>
    <g id="ytick_100">
     <g id="line2d_179">
      <g>
       <use href="#mfb48398925" x="170.4" y="1578.775558" style="stroke: #000000; stroke-width: 2"/>
      </g>
     </g>
    </g>
    <g id="ytick_101">
     <g id="line2d_180">
      <g>
       <use href="#mfb48398925" x="170.4" y="1567.413876" style="stroke: #000000; stroke-width: 2"/>
      </g>
     </g>
    </g>
    <g id="ytick_102">
     <g id="line2d_181">
      <g>
       <use href="#mfb48398925" x="170.4" y="1557.807711" style="stroke: #000000; stroke-width: 2"/>
      </g>
     </g>
    </g>
    <g id="ytick_103">
     <g id="line2d_182">
      <g>
       <use href="#mfb48398925" x="170.4" y="1549.486472" style="stroke: #000000; stroke-width: 2"/>
      </g>
     </g>
    </g>
    <g id="ytick_104">
     <g id="line2d_183">
      <g>
       <use href="#mfb48398925" x="170.4" y="1542.146619" style="stroke: #000000; stroke-width: 2"/>
      </g>
     </g>
    </g>
    <g id="ytick_105">
     <g id="line2d_184">
      <g>
       <use href="#mfb48398925" x="170.4" y="1492.386236" style="stroke: #000000; stroke-width: 2"/>
      </g>
     </g>
    </g>
    <g id="ytick_106">
     <g id="line2d_185">
      <g>
       <use href="#mfb48398925" x="170.4" y="1467.118979" style="stroke: #000000; stroke-width: 2"/>
      </g>
     </g>
    </g>
    <g id="ytick_107">
     <g id="line2d_186">
      <g>
       <use href="#mfb48398925" x="170.4" y="1449.191575" style="stroke: #000000; stroke-width: 2"/>
      </g>
     </g>
    </g>
    <g id="ytick_108">
     <g id="line2d_187">
      <g>
       <use href="#mfb48398925" x="170.4" y="1435.286" style="stroke: #000000; stroke-width: 2"/>
      </g>
     </g>
    </g>
    <g id="ytick_109">
     <g id="line2d_188">
      <g>
       <use href="#mfb48398925" x="170.4" y="1423.924318" style="stroke: #000000; stroke-width: 2"/>
      </g>
     </g>
    </g>
    <g id="ytick_110">
     <g id="line2d_189">
      <g>
       <use href="#mfb48398925" x="170.4" y="1414.318152" style="stroke: #000000; stroke-width: 2"/>
      </g>
     </g>
    </g>
    <g id="ytick_111">
     <g id="line2d_190">
      <g>
       <use href="#mfb48398925" x="170.4" y="1405.996914" style="stroke: #000000; stroke-width: 2"/>
      </g>
     </g>
    </g>
    <g id="ytick_112">
     <g id="line2d_191">
      <g>
       <use href="#mfb48398925" x="170.4" y="1398.657061" style="stroke: #000000; stroke-width: 2"/>
      </g>
     </g>
    </g>
    <g id="ytick_113">
     <g id="line2d_192">
      <g>
       <use href="#mfb48398925" x="170.4" y="1348.896678" style="stroke: #000000; stroke-width: 2"/>
      </g>
     </g>
    </g>
    <g id="ytick_114">
     <g id="line2d_193">
      <g>
       <use href="#mfb48398925" x="170.4" y="1323.629421" style="stroke: #000000; stroke-width: 2"/>
      </g>
     </g>
    </g>
    <g id="ytick_115">
     <g id="line2d_194">
      <g>
       <use href="#mfb48398925" x="170.4" y="1305.702016" style="stroke: #000000; stroke-width: 2"/>
      </g>
     </g>
    </g>
    <g id="ytick_116">
     <g id="line2d_195">
      <g>
       <use href="#mfb48398925" x="170.4" y="1291.796441" style="stroke: #000000; stroke-width: 2"/>
      </g>
     </g>
    </g>
    <g id="ytick_117">
     <g id="line2d_196">
      <g>
       <use href="#mfb48398925" x="170.4" y="1280.434759" style="stroke: #000000; stroke-width: 2"/>
      </g>
     </g>
    </g>
    <g id="ytick_118">
     <g id="line2d_197">
      <g>
       <use href="#mfb48398925" x="170.4" y="1270.828594" style="stroke: #000000; stroke-width: 2"/>
      </g>
     </g>
    </g>
    <g id="ytick_119">
     <g id="line2d_198">
      <g>
       <use href="#mfb48398925" x="170.4" y="1262.507355" style="stroke: #000000; stroke-width: 2"/>
      </g>
     </g>
    </g>
    <g id="ytick_120">
     <g id="line2d_199">
      <g>
       <use href="#mfb48398925" x="170.4" y="1255.167502" style="stroke: #000000; stroke-width: 2"/>
      </g>
     </g>
    </g>
    <g id="ytick_121">
     <g id="line2d_200">
      <g>
       <use href="#mfb48398925" x="170.4" y="1205.407119" style="stroke: #000000; stroke-width: 2"/>
      </g>
     </g>
    </g>
    <g id="ytick_122">
     <g id="line2d_201">
      <g>
       <use href="#mfb48398925" x="170.4" y="1180.139862" style="stroke: #000000; stroke-width: 2"/>
      </g>
     </g>
    </g>
    <g id="ytick_123">
     <g id="line2d_202">
      <g>
       <use href="#mfb48398925" x="170.4" y="1162.212458" style="stroke: #000000; stroke-width: 2"/>
      </g>
     </g>
    </g>
    <g id="ytick_124">
     <g id="line2d_203">
      <g>
       <use href="#mfb48398925" x="170.4" y="1148.306883" style="stroke: #000000; stroke-width: 2"/>
      </g>
     </g>
    </g>
    <g id="ytick_125">
     <g id="line2d_204">
      <g>
       <use href="#mfb48398925" x="170.4" y="1136.945201" style="stroke: #000000; stroke-width: 2"/>
      </g>
     </g>
    </g>
    <g id="ytick_126">
     <g id="line2d_205">
      <g>
       <use href="#mfb48398925" x="170.4" y="1127.339036" style="stroke: #000000; stroke-width: 2"/>
      </g>
     </g>
    </g>
    <g id="ytick_127">
     <g id="line2d_206">
      <g>
       <use href="#mfb48398925" x="170.4" y="1119.017797" style="stroke: #000000; stroke-width: 2"/>
      </g>
     </g>
    </g>
    <g id="ytick_128">
     <g id="line2d_207">
      <g>
       <use href="#mfb48398925" x="170.4" y="1111.677944" style="stroke: #000000; stroke-width: 2"/>
      </g>
     </g>
    </g>
    <g id="ytick_129">
     <g id="line2d_208">
      <g>
       <use href="#mfb48398925" x="170.4" y="1061.917561" style="stroke: #000000; stroke-width: 2"/>
      </g>
     </g>
    </g>
    <g id="ytick_130">
     <g id="line2d_209">
      <g>
       <use href="#mfb48398925" x="170.4" y="1036.650304" style="stroke: #000000; stroke-width: 2"/>
      </g>
     </g>
    </g>
    <g id="ytick_131">
     <g id="line2d_210">
      <g>
       <use href="#mfb48398925" x="170.4" y="1018.7229" style="stroke: #000000; stroke-width: 2"/>
      </g>
     </g>
    </g>
    <g id="text_51">
     <text style="font-size: 33.33px; font-family: 'DejaVu Sans'; text-anchor: middle" x="48.476602" y="1377.85" transform="rotate(-90 48.476602 1377.85)">Variance (J/kg)</text>
    </g>
   </g>
   <g id="line2d_211">
    <path clip-path="url(#p37978706fa)" style="fill: none; stroke-dasharray: 19,7.35; stroke-dashoffset: 0; stroke: #0000ff; stroke-width: 5.6"/>
    <g clip-path="url(#p37978706fa)">
     <use href="#m1bc015388f" x="198.916667" y="2540.007805" style="fill: #0000ff; stroke: #0000ff; stroke-width: 3.5"/>
     <use href="#m1bc015388f" x="227.433333" y="2540.007805" style="fill: #0000ff; stroke: #0000ff; stroke-width: 3.5"/>
     <use href="#m1bc015388f" x="255.95" y="2540.007805" style="fill: #0000ff; stroke: #0000ff; stroke-width: 3.5"/>
     <use href="#m1bc015388f" x="284.466667" y="2540.007805" style="fill: #0000ff; stroke: #0000ff; stroke-width: 3.5"/>
     <use href="#m1bc015388f" x="312.983333" y="2540.007805" style="fill: #0000ff; stroke: #0000ff; stroke-width: 3.5"/>
     <use href="#m1bc015388f" x="341.5" y="2540.007805" style="fill: #0000ff; stroke: #0000ff; stroke-width: 3.5"/>
     <use href="#m1bc015388f" x="370.016667" y="2540.007805" style="fill: #0000ff; stroke: #0000ff; stroke-width: 3.5"/>
     <use href="#m1bc015388f" x="398.533333" y="2540.007805" style="fill: #0000ff; stroke: #0000ff; stroke-width: 3.5"/>
     <use href="#m1bc015388f" x="427.05" y="2540.007805" style="fill: #0000ff; stroke: #0000ff; stroke-width: 3.5"/>
     <use href="#m1bc015388f" x="455.566667" y="2540.007805" style="fill: #0000ff; stroke: #0000ff; stroke-width: 3.5"/>
     <use href="#m1bc015388f" x="484.083333" y="2540.007805" style="fill: #0000ff; stroke: #0000ff; stroke-width: 3.5"/>
     <use href="#m1bc015388f" x="512.6" y="2540.007805" style="fill: #0000ff; stroke: #0000ff; stroke-width: 3.5"/>
     <use href="#m1bc015388f" x="541.116667" y="2540.007805" style="fill: #0000ff; stroke: #0000ff; stroke-width: 3.5"/>
     <use href="#m1bc015388f" x="569.633333" y="2540.007805" style="fill: #0000ff; stroke: #0000ff; stroke-width: 3.5"/>
     <use href="#m1bc015388f" x="598.15" y="2540.007805" style="fill: #0000ff; stroke: #0000ff; stroke-width: 3.5"/>
     <use href="#m1bc015388f" x="626.666667" y="2540.007805" style="fill: #0000ff; stroke: #0000ff; stroke-width: 3.5"/>
     <use href="#m1bc015388f" x="655.183333" y="2540.007805" style="fill: #0000ff; stroke: #0000ff; stroke-width: 3.5"/>
     <use href="#m1bc015388f" x="683.7" y="2540.007805" style="fill: #0000ff; stroke: #0000ff; stroke-width: 3.5"/>
     <use href="#m1bc015388f" x="712.216667" y="2540.007805" style="fill: #0000ff; stroke: #0000ff; stroke-width: 3.5"/>
     <use href="#m1bc015388f" x="740.733333" y="2540.007805" style="fill: #0000ff; stroke: #0000ff; stroke-width: 3.5"/>
     <use href="#m1bc015388f" x="769.25" y="2540.007805" style="fill: #0000ff; stroke: #0000ff; stroke-width: 3.5"/>
     <use href="#m1bc015388f" x="797.766667" y="2540.007805" style="fill: #0000ff; stroke: #0000ff; stroke-width: 3.5"/>
     <use href="#m1bc015388f" x="826.283333" y="2540.007805" style="fill: #0000ff; stroke: #0000ff; stroke-width: 3.5"/>
     <use href="#m1bc015388f" x="854.8" y="2540.007805" style="fill: #0000ff; stroke: #0000ff; stroke-width: 3.5"/>
     <use href="#m1bc015388f" x="883.316667" y="2540.007805" style="fill: #0000ff; stroke: #0000ff; stroke-width: 3.5"/>
     <use href="#m1bc015388f" x="911.833333" y="2540.007805" style="fill: #0000ff; stroke: #0000ff; stroke-width: 3.5"/>
     <use href="#m1bc015388f" x="940.35" y="2540.007805" style="fill: #0000ff; stroke: #0000ff; stroke-width: 3.5"/>
     <use href="#m1bc015388f" x="968.866667" y="2540.007805" style="fill: #0000ff; stroke: #0000ff; stroke-width: 3.5"/>
     <use href="#m1bc015388f" x="997.383333" y="2540.007805" style="fill: #0000ff; stroke: #0000ff; stroke-width: 3.5"/>
     <use href="#m1bc015388f" x="1025.9" y="2540.007805" style="fill: #0000ff; stroke: #0000ff; stroke-width: 3.5"/>
    </g>
   </g>
   <g id="line2d_212">
    <path d="M 198.916667 1102.2 
L 227.433333 1123.2 
L 255.95 1155.5 
L 284.466667 1114.8 
L 312.983333 1172.4 
L 341.5 1194.9 
L 370.016667 1206.1 
L 398.533333 1260.9 
L 427.05 1294 
L 455.566667 1343.4 
L 484.083333 1339.9 
L 512.6 1362.4 
L 541.116667 1382.1 
L 569.633333 1394 
L 598.15 1413 
L 626.666667 1434.8 
L 655.183333 1429.1 
L 683.7 1448.8 
L 712.216667 1453 
L 740.733333 1468.5 
L 769.25 1481.2 
L 797.766667 1481.9 
L 826.283333 1497.3 
L 854.8 1484.7 
L 883.316667 1510 
L 911.833333 1512.1 
L 940.35 1514.2 
L 968.866667 1533.9 
L 997.383333 1530.3 
L 1025.9 1538.8 
" clip-path="url(#p37978706fa)" style="fill: none; stroke: #0000ff; stroke-width: 5.6; stroke-linecap: square"/>
    <g clip-path="url(#p37978706fa)">
     <use href="#m1bc015388f" x="198.916667" y="1102.2" style="fill: #0000ff; stroke: #0000ff; stroke-width: 3.5"/>
     <use href="#m1bc015388f" x="227.433333" y="1123.2" style="fill: #0000ff; stroke: #0000ff; stroke-width: 3.5"/>
     <use href="#m1bc015388f" x="255.95" y="1155.5" style="fill: #0000ff; stroke: #0000ff; stroke-width: 3.5"/>
     <use href="#m1bc015388f" x="284.466667" y="1114.8" style="fill: #0000ff; stroke: #0000ff; stroke-width: 3.5"/>
     <use href="#m1bc015388f" x="312.983333" y="1172.4" style="fill: #0000ff; stroke: #0000ff; stroke-width: 3.5"/>
     <use href="#m1bc015388f" x="341.5" y="1194.9" style="fill: #0000ff; stroke: #0000ff; stroke-width: 3.5"/>
     <use href="#m1bc015388f" x="370.016667" y="1206.1" style="fill: #0000ff; stroke: #0000ff; stroke-width: 3.5"/>
     <use href="#m1bc015388f" x="398.533333" y="1260.9" style="fill: #0000ff; stroke: #0000ff; stroke-width: 3.5"/>
     <use href="#m1bc015388f" x="427.05" y="1294" style="fill: #0000ff; stroke: #0000ff; stroke-width: 3.5"/>
     <use href="#m1bc015388f" x="455.566667" y="1343.4" style="fill: #0000ff; stroke: #0000ff; stroke-width: 3.5"/>
     <use href="#m1bc015388f" x="484.083333" y="1339.9" style="fill: #0000ff; stroke: #0000ff; stroke-width: 3.5"/>
     <use href="#m1bc015388f" x="512.6" y="1362.4" style="fill: #0000ff; stroke: #0000ff; stroke-width: 3.5"/>
     <use href="#m1bc015388f" x="541.116667" y="1382.1" style="fill: #0000ff; stroke: #0000ff; stroke-width: 3.5"/>
     <use href="#m1bc015388f" x="569.633333" y="1394" style="fill: #0000ff; stroke: #0000ff; stroke-width: 3.5"/>
     <use href="#m1bc015388f" x="598.15" y="1413" style="fill: #0000ff; stroke: #0000ff; stroke-width: 3.5"/>
     <use href="#m1bc015388f" x="626.666667" y="1434.8" style="fill: #0000ff; stroke: #0000ff; stroke-width: 3.5"/>
     <use href="#m1bc015388f" x="655.183333" y="1429.1" style="fill: #0000ff; stroke: #0000ff; stroke-width: 3.5"/>
     <use href="#m1bc015388f" x="683.7" y="1448.8" style="fill: #0000ff; stroke: #0000ff; stroke-width: 3.5"/>
     <use href="#m1bc015388f" x="712.216667" y="1453" style="fill: #0000ff; stroke: #0000ff; stroke-width: 3.5"/>
     <use href="#m1bc015388f" x="740.733333" y="1468.5" style="fill: #0000ff; stroke: #0000ff; stroke-width: 3.5"/>
     <use href="#m1bc015388f" x="769.25" y="1481.2" style="fill: #0000ff; stroke: #0000ff; stroke-width: 3.5"/>
     <use href="#m1bc015388f" x="797.766667" y="1481.9" style="fill: #0000ff; stroke: #0000ff; stroke-width: 3.5"/>
     <use href="#m1bc015388f" x="826.283333" y="1497.3" style="fill: #0000ff; stroke: #0000ff; stroke-width: 3.5"/>
     <use href="#m1bc015388f" x="854.8" y="1484.7" style="fill: #0000ff; stroke: #0000ff; stroke-width: 3.5"/>
     <use href="#m1bc015388f" x="883.316667" y="1510" style="fill: #0000ff; stroke: #0000ff; stroke-width: 3.5"/>
     <use href="#m1bc015388f" x="911.833333" y="1512.1" style="fill: #0000ff; stroke: #0000ff; stroke-width: 3.5"/>
     <use href="#m1bc015388f" x="940.35" y="1514.2" style="fill: #0000ff; stroke: #0000ff; stroke-width: 3.5"/>
     <use href="#m1bc015388f" x="968.866667" y="1533.9" style="fill: #0000ff; stroke: #0000ff; stroke-width: 3.5"/>
     <use href="#m1bc015388f" x="997.383333" y="1530.3" style="fill: #0000ff; stroke: #0000ff; stroke-width: 3.5"/>
     <use href="#m1bc015388f" x="1025.9" y="1538.8" style="fill: #0000ff; stroke: #0000ff; stroke-width: 3.5"/>
    </g>
   </g>
   <g id="line2d_213">
    <path d="M 198.916667 1507.4 
L 227.433333 1504.6 
L 255.95 1450.5 
L 284.466667 1422.3 
L 312.983333 1361.2 
L 341.5 1457.6 
L 370.016667 1401.9 
L 398.533333 1420.2 
L 427.05 1513.1 
L 455.566667 1546.1 
L 484.083333 1494.8 
L 512.6 1537 
L 541.116667 1624.8 
L 569.633333 1579.1 
L 598.15 1640.5 
L 626.666667 1656.6 
L 655.183333 1710 
L 683.7 1760 
L 712.216667 1649.6 
L 740.733333 1675.6 
L 769.25 1737.4 
L 797.766667 1748 
L 826.283333 1735.3 
L 854.8 1736 
L 883.316667 1744 
L 911.833333 1790 
L 940.35 1800 
L 968.866667 1810 
L 997.383333 1810 
L 1025.9 1810 
" clip-path="url(#p37978706fa)" style="fill: none; stroke-dasharray: 5.6,7.5; stroke-dashoffset: 0; stroke: #0000ff; stroke-width: 5.6"/>
    <g clip-path="url(#p37978706fa)">
     <use href="#m1bc015388f" x="198.916667" y="1507.4" style="fill: #0000ff; stroke: #0000ff; stroke-width: 3.5"/>
     <use href="#m1bc015388f" x="227.433333" y="1504.6" style="fill: #0000ff; stroke: #0000ff; stroke-width: 3.5"/>
     <use href="#m1bc015388f" x="255.95" y="1450.5" style="fill: #0000ff; stroke: #0000ff; stroke-width: 3.5"/>
     <use href="#m1bc015388f" x="284.466667" y="1422.3" style="fill: #0000ff; stroke: #0000ff; stroke-width: 3.5"/>
     <use href="#m1bc015388f" x="312.983333" y="1361.2" style="fill: #0000ff; stroke: #0000ff; stroke-width: 3.5"/>
     <use href="#m1bc015388f" x="341.5" y="1457.6" style="fill: #0000ff; stroke: #0000ff; stroke-width: 3.5"/>
     <use href="#m1bc015388f" x="370.016667" y="1401.9" style="fill: #0000ff; stroke: #0000ff; stroke-width: 3.5"/>
     <use href="#m1bc015388f" x="398.533333" y="1420.2" style="fill: #0000ff; stroke: #0000ff; stroke-width: 3.5"/>
     <use href="#m1bc015388f" x="427.05" y="1513.1" style="fill: #0000ff; stroke: #0000ff; stroke-width: 3.5"/>
     <use href="#m1bc015388f" x="455.566667" y="1546.1" style="fill: #0000ff; stroke: #0000ff; stroke-width: 3.5"/>
     <use href="#m1bc015388f" x="484.083333" y="1494.8" style="fill: #0000ff; stroke: #0000ff; stroke-width: 3.5"/>
     <use href="#m1bc015388f" x="512.6" y="1537" style="fill: #0000ff; stroke: #0000ff; stroke-width: 3.5"/>
     <use href="#m1bc015388f" x="541.116667" y="1624.8" style="fill: #0000ff; stroke: #0000ff; stroke-width: 3.5"/>
     <use href="#m1bc015388f" x="569.633333" y="1579.1" style="fill: #0000ff; stroke: #0000ff; stroke-width: 3.5"/>
     <use href="#m1bc015388f" x="598.15" y="1640.5" style="fill: #0000ff; stroke: #0000ff; stroke-width: 3.5"/>
     <use href="#m1bc015388f" x="626.666667" y="1656.6" style="fill: #0000ff; stroke: #0000ff; stroke-width: 3.5"/>
     <use href="#m1bc015388f" x="655.183333" y="1710" style="fill: #0000ff; stroke: #0000ff; stroke-width: 3.5"/>
     <use href="#m1bc015388f" x="683.7" y="1760" style="fill: #0000ff; stroke: #0000ff; stroke-width: 3.5"/>
     <use href="#m1bc015388f" x="712.216667" y="1649.6" style="fill: #0000ff; stroke: #0000ff; stroke-width: 3.5"/>
     <use href="#m1bc015388f" x="740.733333" y="1675.6" style="fill: #0000ff; stroke: #0000ff; stroke-width: 3.5"/>
     <use href="#m1bc015388f" x="769.25" y="1737.4" style="fill: #0000ff; stroke: #0000ff; stroke-width: 3.5"/>
     <use href="#m1bc015388f" x="797.766667" y="1748" style="fill: #0000ff; stroke: #0000ff; stroke-width: 3.5"/>
     <use href="#m1bc015388f" x="826.283333" y="1735.3" style="fill: #0000ff; stroke: #0000ff; stroke-width: 3.5"/>
     <use href="#m1bc015388f" x="854.8" y="1736" style="fill: #0000ff; stroke: #0000ff; stroke-width: 3.5"/>
     <use href="#m1bc015388f" x="883.316667" y="1744" style="fill: #0000ff; stroke: #0000ff; stroke-width: 3.5"/>
     <use href="#m1bc015388f" x="911.833333" y="1790" style="fill: #0000ff; stroke: #0000ff; stroke-width: 3.5"/>
     <use href="#m1bc015388f" x="940.35" y="1800" style="fill: #0000ff; stroke: #0000ff; stroke-width: 3.5"/>
     <use href="#m1bc015388f" x="968.866667" y="1810" style="fill: #0000ff; stroke: #0000ff; stroke-width: 3.5"/>
     <use href="#m1bc015388f" x="997.383333" y="1810" style="fill: #0000ff; stroke: #0000ff; stroke-width: 3.5"/>
     <use href="#m1bc015388f" x="1025.9" y="1810" style="fill: #0000ff; stroke: #0000ff; stroke-width: 3.5"/>
    </g>
   </g>
   <g id="line2d_214">
    <path d="M 198.916667 1309.2 
L 227.433333 1335.2 
L 255.95 1346.4 
L 284.466667 1343.6 
L 312.983333 1357 
L 341.5 1379.4 
L 370.016667 1371 
L 398.533333 1393 
L 427.05 1416 
L 455.566667 1436.8 
L 484.083333 1446.8 
L 512.6 1459.1 
L 541.116667 1472.3 
L 569.633333 1480 
L 598.15 1489.7 
L 626.666667 1495.7 
L 655.183333 1498.8 
L 683.7 1505.5 
L 712.216667 1517.5 
L 740.733333 1518 
L 769.25 1522.8 
L 797.766667 1532.7 
L 826.283333 1530.5 
L 854.8 1536.2 
L 883.316667 1543.9 
L 911.833333 1548.1 
L 940.35 1549.5 
L 968.866667 1561.5 
L 997.383333 1559.4 
L 1025.9 1566.4 
" clip-path="url(#p37978706fa)" style="fill: none; stroke-dasharray: 19,7.35; stroke-dashoffset: 0; stroke: #ff0000; stroke-width: 5.6"/>
    <g clip-path="url(#p37978706fa)">
     <use href="#ma22b54537e" x="198.916667" y="1309.2" style="fill: #ff0000; stroke: #ff0000; stroke-width: 3.5"/>
     <use href="#ma22b54537e" x="227.433333" y="1335.2" style="fill: #ff0000; stroke: #ff0000; stroke-width: 3.5"/>
     <use href="#ma22b54537e" x="255.95" y="1346.4" style="fill: #ff0000; stroke: #ff0000; stroke-width: 3.5"/>
     <use href="#ma22b54537e" x="284.466667" y="1343.6" style="fill: #ff0000; stroke: #ff0000; stroke-width: 3.5"/>
     <use href="#ma22b54537e" x="312.983333" y="1357" style="fill: #ff0000; stroke: #ff0000; stroke-width: 3.5"/>
     <use href="#ma22b54537e" x="341.5" y="1379.4" style="fill: #ff0000; stroke: #ff0000; stroke-width: 3.5"/>
     <use href="#ma22b54537e" x="370.016667" y="1371" style="fill: #ff0000; stroke: #ff0000; stroke-width: 3.5"/>
     <use href="#ma22b54537e" x="398.533333" y="1393" style="fill: #ff0000; stroke: #ff0000; stroke-width: 3.5"/>
     <use href="#ma22b54537e" x="427.05" y="1416" style="fill: #ff0000; stroke: #ff0000; stroke-width: 3.5"/>
     <use href="#ma22b54537e" x="455.566667" y="1436.8" style="fill: #ff0000; stroke: #ff0000; stroke-width: 3.5"/>
     <use href="#ma22b54537e" x="484.083333" y="1446.8" style="fill: #ff0000; stroke: #ff0000; stroke-width: 3.5"/>
     <use href="#ma22b54537e" x="512.6" y="1459.1" style="fill: #ff0000; stroke: #ff0000; stroke-width: 3.5"/>
     <use href="#ma22b54537e" x="541.116667" y="1472.3" style="fill: #ff0000; stroke: #ff0000; stroke-width: 3.5"/>
     <use href="#ma22b54537e" x="569.633333" y="1480" style="fill: #ff0000; stroke: #ff0000; stroke-width: 3.5"/>
     <use href="#ma22b54537e" x="598.15" y="1489.7" style="fill: #ff0000; stroke: #ff0000; stroke-width: 3.5"/>
     <use href="#ma22b54537e" x="626.666667" y="1495.7" style="fill: #ff0000; stroke: #ff0000; stroke-width: 3.5"/>
     <use href="#ma22b54537e" x="655.183333" y="1498.8" style="fill: #ff0000; stroke: #ff0000; stroke-width: 3.5"/>
     <use href="#ma22b54537e" x="683.7" y="1505.5" style="fill: #ff0000; stroke: #ff0000; stroke-width: 3.5"/>
     <use href="#ma22b54537e" x="712.216667" y="1517.5" style="fill: #ff0000; stroke: #ff0000; stroke-width: 3.5"/>
     <use href="#ma22b54537e" x="740.733333" y="1518" style="fill: #ff0000; stroke: #ff0000; stroke-width: 3.5"/>
     <use href="#ma22b54537e" x="769.25" y="1522.8" style="fill: #ff0000; stroke: #ff0000; stroke-width: 3.5"/>
     <use href="#ma22b54537e" x="797.766667" y="1532.7" style="fill: #ff0000; stroke: #ff0000; stroke-width: 3.5"/>
     <use href="#ma22b54537e" x="826.283333" y="1530.5" style="fill: #ff0000; stroke: #ff0000; stroke-width: 3.5"/>
     <use href="#ma22b54537e" x="854.8" y="1536.2" style="fill: #ff0000; stroke: #ff0000; stroke-width: 3.5"/>
     <use href="#ma22b54537e" x="883.316667" y="1543.9" style="fill: #ff0000; stroke: #ff0000; stroke-width: 3.5"/>
     <use href="#ma22b54537e" x="911.833333" y="1548.1" style="fill: #ff0000; stroke: #ff0000; stroke-width: 3.5"/>
     <use href="#ma22b54537e" x="940.35" y="1549.5" style="fill: #ff0000; stroke: #ff0000; stroke-width: 3.5"/>
     <use href="#ma22b54537e" x="968.866667" y="1561.5" style="fill: #ff0000; stroke: #ff0000; stroke-width: 3.5"/>
     <use href="#ma22b54537e" x="997.383333" y="1559.4" style="fill: #ff0000; stroke: #ff0000; stroke-width: 3.5"/>
     <use href="#ma22b54537e" x="1025.9" y="1566.4" style="fill: #ff0000; stroke: #ff0000; stroke-width: 3.5"/>
    </g>
   </g>
   <g id="line2d_215">
    <path d="M 198.916667 1347.1 
L 227.433333 1352 
L 255.95 1360.5 
L 284.466667 1349.2 
L 312.983333 1360.5 
L 341.5 1380.8 
L 370.016667 1372.4 
L 398.533333 1398.8 
L 427.05 1422.8 
L 455.566667 1439.8 
L 484.083333 1450.9 
L 512.6 1461.5 
L 541.116667 1474.7 
L 569.633333 1482.4 
L 598.15 1492.1 
L 626.666667 1498.1 
L 655.183333 1501.2 
L 683.7 1507.9 
L 712.216667 1519.9 
L 740.733333 1520.4 
L 769.25 1525.2 
L 797.766667 1535.1 
L 826.283333 1532.9 
L 854.8 1538.6 
L 883.316667 1546.3 
L 911.833333 1550.5 
L 940.35 1551.9 
L 968.866667 1563.9 
L 997.383333 1561.8 
L 1025.9 1568.8 
" clip-path="url(#p37978706fa)" style="fill: none; stroke: #ff0000; stroke-width: 5.6; stroke-linecap: square"/>
    <g clip-path="url(#p37978706fa)">
     <use href="#ma22b54537e" x="198.916667" y="1347.1" style="fill: #ff0000; stroke: #ff0000; stroke-width: 3.5"/>
     <use href="#ma22b54537e" x="227.433333" y="1352" style="fill: #ff0000; stroke: #ff0000; stroke-width: 3.5"/>
     <use href="#ma22b54537e" x="255.95" y="1360.5" style="fill: #ff0000; stroke: #ff0000; stroke-width: 3.5"/>
     <use href="#ma22b54537e" x="284.466667" y="1349.2" style="fill: #ff0000; stroke: #ff0000; stroke-width: 3.5"/>
     <use href="#ma22b54537e" x="312.983333" y="1360.5" style="fill: #ff0000; stroke: #ff0000; stroke-width: 3.5"/>
     <use href="#ma22b54537e" x="341.5" y="1380.8" style="fill: #ff0000; stroke: #ff0000; stroke-width: 3.5"/>
     <use href="#ma22b54537e" x="370.016667" y="1372.4" style="fill: #ff0000; stroke: #ff0000; stroke-width: 3.5"/>
     <use href="#ma22b54537e" x="398.533333" y="1398.8" style="fill: #ff0000; stroke: #ff0000; stroke-width: 3.5"/>
     <use href="#ma22b54537e" x="427.05" y="1422.8" style="fill: #ff0000; stroke: #ff0000; stroke-width: 3.5"/>
     <use href="#ma22b54537e" x="455.566667" y="1439.8" style="fill: #ff0000; stroke: #ff0000; stroke-width: 3.5"/>
     <use href="#ma22b54537e" x="484.083333" y="1450.9" style="fill: #ff0000; stroke: #ff0000; stroke-width: 3.5"/>
     <use href="#ma22b54537e" x="512.6" y="1461.5" style="fill: #ff0000; stroke: #ff0000; stroke-width: 3.5"/>
     <use href="#ma22b54537e" x="541.116667" y="1474.7" style="fill: #ff0000; stroke: #ff0000; stroke-width: 3.5"/>
     <use href="#ma22b54537e" x="569.633333" y="1482.4" style="fill: #ff0000; stroke: #ff0000; stroke-width: 3.5"/>
     <use href="#ma22b54537e" x="598.15" y="1492.1" style="fill: #ff0000; stroke: #ff0000; stroke-width: 3.5"/>
     <use href="#ma22b54537e" x="626.666667" y="1498.1" style="fill: #ff0000; stroke: #ff0000; stroke-width: 3.5"/>
     <use href="#ma22b54537e" x="655.183333" y="1501.2" style="fill: #ff0000; stroke: #ff0000; stroke-width: 3.5"/>
     <use href="#ma22b54537e" x="683.7" y="1507.9" style="fill: #ff0000; stroke: #ff0000; stroke-width: 3.5"/>
     <use href="#ma22b54537e" x="712.216667" y="1519.9" style="fill: #ff0000; stroke: #ff0000; stroke-width: 3.5"/>
     <use href="#ma22b54537e" x="740.733333" y="1520.4" style="fill: #ff0000; stroke: #ff0000; stroke-width: 3.5"/>
     <use href="#ma22b54537e" x="769.25" y="1525.2" style="fill: #ff0000; stroke: #ff0000; stroke-width: 3.5"/>
     <use href="#ma22b54537e" x="797.766667" y="1535.1" style="fill: #ff0000; stroke: #ff0000; stroke-width: 3.5"/>
     <use href="#ma22b54537e" x="826.283333" y="1532.9" style="fill: #ff0000; stroke: #ff0000; stroke-width: 3.5"/>
     <use href="#ma22b54537e" x="854.8" y="1538.6" style="fill: #ff0000; stroke: #ff0000; stroke-width: 3.5"/>
     <use href="#ma22b54537e" x="883.316667" y="1546.3" style="fill: #ff0000; stroke: #ff0000; stroke-width: 3.5"/>
     <use href="#ma22b54537e" x="911.833333" y="1550.5" style="fill: #ff0000; stroke: #ff0000; stroke-width: 3.5"/>
     <use href="#ma22b54537e" x="940.35" y="1551.9" style="fill: #ff0000; stroke: #ff0000; stroke-width: 3.5"/>
     <use href="#ma22b54537e" x="968.866667" y="1563.9" style="fill: #ff0000; stroke: #ff0000; stroke-width: 3.5"/>
     <use href="#ma22b54537e" x="997.383333" y="1561.8" style="fill: #ff0000; stroke: #ff0000; stroke-width: 3.5"/>
     <use href="#ma22b54537e" x="1025.9" y="1568.8" style="fill: #ff0000; stroke: #ff0000; stroke-width: 3.5"/>
    </g>
   </g>
   <g id="line2d_216">
    <path d="M 198.916667 1358.4 
L 227.433333 1422.3 
L 255.95 1449.1 
L 284.466667 1489.9 
L 312.983333 1506.7 
L 341.5 1551 
L 370.016667 1516.6 
L 398.533333 1541.9 
L 427.05 1552.4 
L 455.566667 1621.3 
L 484.083333 1623.4 
L 512.6 1656.4 
L 541.116667 1637.4 
L 569.633333 1688.7 
L 598.15 1670.7 
L 626.666667 1705.8 
L 655.183333 1687.5 
L 683.7 1714.9 
L 712.216667 1739.5 
L 740.733333 1731.8 
L 769.25 1749.4 
L 797.766667 1746.5 
L 826.283333 1736 
L 854.8 1742.3 
L 883.316667 1790 
L 911.833333 1800 
L 940.35 1810 
L 968.866667 1810 
L 997.383333 1810 
L 1025.9 1810 
" clip-path="url(#p37978706fa)" style="fill: none; stroke-dasharray: 5.6,7.5; stroke-dashoffset: 0; stroke: #ff0000; stroke-width: 5.6"/>
    <g clip-path="url(#p37978706fa)">
     <use href="#ma22b54537e" x="198.916667" y="1358.4" style="fill: #ff0000; stroke: #ff0000; stroke-width: 3.5"/>
     <use href="#ma22b54537e" x="227.433333" y="1422.3" style="fill: #ff0000; stroke: #ff0000; stroke-width: 3.5"/>
     <use href="#ma22b54537e" x="255.95" y="1449.1" style="fill: #ff0000; stroke: #ff0000; stroke-width: 3.5"/>
     <use href="#ma22b54537e" x="284.466667" y="1489.9" style="fill: #ff0000; stroke: #ff0000; stroke-width: 3.5"/>
     <use href="#ma22b54537e" x="312.983333" y="1506.7" style="fill: #ff0000; stroke: #ff0000; stroke-width: 3.5"/>
     <use href="#ma22b54537e" x="341.5" y="1551" style="fill: #ff0000; stroke: #ff0000; stroke-width: 3.5"/>
     <use href="#ma22b54537e" x="370.016667" y="1516.6" style="fill: #ff0000; stroke: #ff0000; stroke-width: 3.5"/>
     <use href="#ma22b54537e" x="398.533333" y="1541.9" style="fill: #ff0000; stroke: #ff0000; stroke-width: 3.5"/>
     <use href="#ma22b54537e" x="427.05" y="1552.4" style="fill: #ff0000; stroke: #ff0000; stroke-width: 3.5"/>
     <use href="#ma22b54537e" x="455.566667" y="1621.3" style="fill: #ff0000; stroke: #ff0000; stroke-width: 3.5"/>
     <use href="#ma22b54537e" x="484.083333" y="1623.4" style="fill: #ff0000; stroke: #ff0000; stroke-width: 3.5"/>
     <use href="#ma22b54537e" x="512.6" y="1656.4" style="fill: #ff0000; stroke: #ff0000; stroke-width: 3.5"/>
     <use href="#ma22b54537e" x="541.116667" y="1637.4" style="fill: #ff0000; stroke: #ff0000; stroke-width: 3.5"/>
     <use href="#ma22b54537e" x="569.633333" y="1688.7" style="fill: #ff0000; stroke: #ff0000; stroke-width: 3.5"/>
     <use href="#ma22b54537e" x="598.15" y="1670.7" style="fill: #ff0000; stroke: #ff0000; stroke-width: 3.5"/>
     <use href="#ma22b54537e" x="626.666667" y="1705.8" style="fill: #ff0000; stroke: #ff0000; stroke-width: 3.5"/>
     <use href="#ma22b54537e" x="655.183333" y="1687.5" style="fill: #ff0000; stroke: #ff0000; stroke-width: 3.5"/>
     <use href="#ma22b54537e" x="683.7" y="1714.9" style="fill: #ff0000; stroke: #ff0000; stroke-width: 3.5"/>
     <use href="#ma22b54537e" x="712.216667" y="1739.5" style="fill: #ff0000; stroke: #ff0000; stroke-width: 3.5"/>
     <use href="#ma22b54537e" x="740.733333" y="1731.8" style="fill: #ff0000; stroke: #ff0000; stroke-width: 3.5"/>
     <use href="#ma22b54537e" x="769.25" y="1749.4" style="fill: #ff0000; stroke: #ff0000; stroke-width: 3.5"/>
     <use href="#ma22b54537e" x="797.766667" y="1746.5" style="fill: #ff0000; stroke: #ff0000; stroke-width: 3.5"/>
     <use href="#ma22b54537e" x="826.283333" y="1736" style="fill: #ff0000; stroke: #ff0000; stroke-width: 3.5"/>
     <use href="#ma22b54537e" x="854.8" y="1742.3" style="fill: #ff0000; stroke: #ff0000; stroke-width: 3.5"/>
     <use href="#ma22b54537e" x="883.316667" y="1790" style="fill: #ff0000; stroke: #ff0000; stroke-width: 3.5"/>
     <use href="#ma22b54537e" x="911.833333" y="1800" style="fill: #ff0000; stroke: #ff0000; stroke-width: 3.5"/>
     <use href="#ma22b54537e" x="940.35" y="1810" style="fill: #ff0000; stroke: #ff0000; stroke-width: 3.5"/>
     <use href="#ma22b54537e" x="968.866667" y="1810" style="fill: #ff0000; stroke: #ff0000; stroke-width: 3.5"/>
     <use href="#ma22b54537e" x="997.383333" y="1810" style="fill: #ff0000; stroke: #ff0000; stroke-width: 3.5"/>
     <use href="#ma22b54537e" x="1025.9" y="1810" style="fill: #ff0000; stroke: #ff0000; stroke-width: 3.5"/>
    </g>
   </g>
   <g id="line2d_217">
    <path d="M 198.916667 1100 
L 227.433333 1121.1 
L 255.95 1152.7 
L 284.466667 1113.4 
L 312.983333 1167.5 
L 341.5 1191.4 
L 370.016667 1200.5 
L 398.533333 1249.7 
L 427.05 1286.5 
L 455.566667 1329.4 
L 484.083333 1326.6 
L 512.6 1348.4 
L 541.116667 1367.3 
L 569.633333 1377.2 
L 598.15 1396.8 
L 626.666667 1413.7 
L 655.183333 1410.9 
L 683.7 1427.7 
L 712.216667 1433.4 
L 740.733333 1444.6 
L 769.25 1455.9 
L 797.766667 1458.7 
L 826.283333 1468.5 
L 854.8 1462.2 
L 883.316667 1480.5 
L 911.833333 1484.7 
L 940.35 1486.8 
L 968.866667 1502.2 
L 997.383333 1500.1 
L 1025.9 1508.6 
" clip-path="url(#p37978706fa)" style="fill: none; stroke: #000000; stroke-width: 5.6; stroke-linecap: square"/>
    <g clip-path="url(#p37978706fa)">
     <use href="#mdfbb6a1ec8" x="198.916667" y="1100" style="stroke: #000000; stroke-width: 3.5"/>
     <use href="#mdfbb6a1ec8" x="227.433333" y="1121.1" style="stroke: #000000; stroke-width: 3.5"/>
     <use href="#mdfbb6a1ec8" x="255.95" y="1152.7" style="stroke: #000000; stroke-width: 3.5"/>
     <use href="#mdfbb6a1ec8" x="284.466667" y="1113.4" style="stroke: #000000; stroke-width: 3.5"/>
     <use href="#mdfbb6a1ec8" x="312.983333" y="1167.5" style="stroke: #000000; stroke-width: 3.5"/>
     <use href="#mdfbb6a1ec8" x="341.5" y="1191.4" style="stroke: #000000; stroke-width: 3.5"/>
     <use href="#mdfbb6a1ec8" x="370.016667" y="1200.5" style="stroke: #000000; stroke-width: 3.5"/>
     <use href="#mdfbb6a1ec8" x="398.533333" y="1249.7" style="stroke: #000000; stroke-width: 3.5"/>
     <use href="#mdfbb6a1ec8" x="427.05" y="1286.5" style="stroke: #000000; stroke-width: 3.5"/>
     <use href="#mdfbb6a1ec8" x="455.566667" y="1329.4" style="stroke: #000000; stroke-width: 3.5"/>
     <use href="#mdfbb6a1ec8" x="484.083333" y="1326.6" style="stroke: #000000; stroke-width: 3.5"/>
     <use href="#mdfbb6a1ec8" x="512.6" y="1348.4" style="stroke: #000000; stroke-width: 3.5"/>
     <use href="#mdfbb6a1ec8" x="541.116667" y="1367.3" style="stroke: #000000; stroke-width: 3.5"/>
     <use href="#mdfbb6a1ec8" x="569.633333" y="1377.2" style="stroke: #000000; stroke-width: 3.5"/>
     <use href="#mdfbb6a1ec8" x="598.15" y="1396.8" style="stroke: #000000; stroke-width: 3.5"/>
     <use href="#mdfbb6a1ec8" x="626.666667" y="1413.7" style="stroke: #000000; stroke-width: 3.5"/>
     <use href="#mdfbb6a1ec8" x="655.183333" y="1410.9" style="stroke: #000000; stroke-width: 3.5"/>
     <use href="#mdfbb6a1ec8" x="683.7" y="1427.7" style="stroke: #000000; stroke-width: 3.5"/>
     <use href="#mdfbb6a1ec8" x="712.216667" y="1433.4" style="stroke: #000000; stroke-width: 3.5"/>
     <use href="#mdfbb6a1ec8" x="740.733333" y="1444.6" style="stroke: #000000; stroke-width: 3.5"/>
     <use href="#mdfbb6a1ec8" x="769.25" y="1455.9" style="stroke: #000000; stroke-width: 3.5"/>
     <use href="#mdfbb6a1ec8" x="797.766667" y="1458.7" style="stroke: #000000; stroke-width: 3.5"/>
     <use href="#mdfbb6a1ec8" x="826.283333" y="1468.5" style="stroke: #000000; stroke-width: 3.5"/>
     <use href="#mdfbb6a1ec8" x="854.8" y="1462.2" style="stroke: #000000; stroke-width: 3.5"/>
     <use href="#mdfbb6a1ec8" x="883.316667" y="1480.5" style="stroke: #000000; stroke-width: 3.5"/>
     <use href="#mdfbb6a1ec8" x="911.833333" y="1484.7" style="stroke: #000000; stroke-width: 3.5"/>
     <use href="#mdfbb6a1ec8" x="940.35" y="1486.8" style="stroke: #000000; stroke-width: 3.5"/>
     <use href="#mdfbb6a1ec8" x="968.866667" y="1502.2" style="stroke: #000000; stroke-width: 3.5"/>
     <use href="#mdfbb6a1ec8" x="997.383333" y="1500.1" style="stroke: #000000; stroke-width: 3.5"/>
     <use href="#mdfbb6a1ec8" x="1025.9" y="1508.6" style="stroke: #000000; stroke-width: 3.5"/>
    </g>
   </g>
   <g id="patch_14">
    <path d="M 170.4 1750.6 
L 170.4 1005.1 
" style="fill: none; stroke: #000000; stroke-width: 3; stroke-linejoin: miter; stroke-linecap: square"/>
   </g>
   <g id="patch_15">
    <path d="M 1025.9 1750.6 
L 1025.9 1005.1 
" style="fill: none; stroke: #000000; stroke-width: 3; stroke-linejoin: miter; stroke-linecap: square"/>
   </g>
   <g id="patch_16">
    <path d="M 170.4 1750.6 
L 1025.9 1750.6 
" style="fill: none; stroke: #000000; stroke-width: 3; stroke-linejoin: miter; stroke-linecap: square"/>
   </g>
   <g id="patch_17">
    <path d="M 170.4 1005.1 
L 1025.9 1005.1 
" style="fill: none; stroke: #000000; stroke-width: 3; stroke-linejoin: miter; stroke-linecap: square"/>
   </g>
   <g id="text_52">
    <text style="font-size: 39.9px; font-family: 'DejaVu Sans'; text-anchor: start" x="170.4" y="985.1002" transform="rotate(-0 170.4 985.1002)">c) 10-20 days wet season with lag 0</text>
   </g>
  </g>
  <g id="axes_4">
   <g id="patch_18">
    <path d="M 1234 1750.6 
L 2088.9 1750.6 
L 2088.9 1005.1 
L 1234 1005.1 
z
" style="fill: #ffffff"/>
   </g>
   <g id="matplotlib.axis_7">
    <g id="xtick_22">
     <g id="line2d_218">
      <path d="M 1234 1750.6 
L 1234 1005.1 
" clip-path="url(#p05f88a425f)" style="fill: none; stroke: #b0b0b0; stroke-width: 2.66664; stroke-linecap: square"/>
     </g>
     <g id="line2d_219">
      <g>
       <use href="#m4aa09e311d" x="1234" y="1750.6" style="stroke: #000000; stroke-width: 2.8"/>
      </g>
     </g>
     <g id="text_53">
      <text style="font-size: 33.33px; font-family: 'DejaVu Sans'; text-anchor: middle" x="1234" y="1799.258692" transform="rotate(-0 1234 1799.258692)">0</text>
     </g>
    </g>
    <g id="xtick_23">
     <g id="line2d_220">
      <path d="M 1376.483333 1750.6 
L 1376.483333 1005.1 
" clip-path="url(#p05f88a425f)" style="fill: none; stroke: #b0b0b0; stroke-width: 2.66664; stroke-linecap: square"/>
     </g>
     <g id="line2d_221">
      <g>
       <use href="#m4aa09e311d" x="1376.483333" y="1750.6" style="stroke: #000000; stroke-width: 2.8"/>
      </g>
     </g>
     <g id="text_54">
      <text style="font-size: 33.33px; font-family: 'DejaVu Sans'; text-anchor: middle" x="1376.483333" y="1799.258692" transform="rotate(-0 1376.483333 1799.258692)">5</text>
     </g>
    </g>
    <g id="xtick_24">
     <g id="line2d_222">
      <path d="M 1518.966667 1750.6 
L 1518.966667 1005.1 
" clip-path="url(#p05f88a425f)" style="fill: none; stroke: #b0b0b0; stroke-width: 2.66664; stroke-linecap: square"/>
     </g>
     <g id="line2d_223">
      <g>
       <use href="#m4aa09e311d" x="1518.966667" y="1750.6" style="stroke: #000000; stroke-width: 2.8"/>
      </g>
     </g>
     <g id="text_55">
      <text style="font-size: 33.33px; font-family: 'DejaVu Sans'; text-anchor: middle" x="1518.966667" y="1799.258692" transform="rotate(-0 1518.966667 1799.258692)">10</text>
     </g>
    </g>
    <g id="xtick_25">
     <g id="line2d_224">
      <path d="M 1661.45 1750.6 
L 1661.45 1005.1 
" clip-path="url(#p05f88a425f)" style="fill: none; stroke: #b0b0b0; stroke-width: 2.66664; stroke-linecap: square"/>
     </g>
     <g id="line2d_225">
      <g>
       <use href="#m4aa09e311d" x="1661.45" y="1750.6" style="stroke: #000000; stroke-width: 2.8"/>
      </g>
     </g>
     <g id="text_56">
      <text style="font-size: 33.33px; font-family: 'DejaVu Sans'; text-anchor: middle" x="1661.45" y="1799.258692" transform="rotate(-0 1661.45 1799.258692)">15</text>
     </g>
    </g>
    <g id="xtick_26">
     <g id="line2d_226">
      <path d="M 1803.933333 1750.6 
L 1803.933333 1005.1 
" clip-path="url(#p05f88a425f)" style="fill: none; stroke: #b0b0b0; stroke-width: 2.66664; stroke-linecap: square"/>
     </g>
     <g id="line2d_227">
      <g>
       <use href="#m4aa09e311d" x="1803.933333" y="1750.6" style="stroke: #000000; stroke-width: 2.8"/>
      </g>
     </g>
     <g id="text_57">
      <text style="font-size: 33.33px; font-family: 'DejaVu Sans'; text-anchor: middle" x="1803.933333" y="1799.258692" transform="rotate(-0 1803.933333 1799.258692)">20</text>
     </g>
    </g>
    <g id="xtick_27">
     <g id="line2d_228">
      <path d="M 1946.416667 1750.6 
L 1946.416667 1005.1 
" clip-path="url(#p05f88a425f)" style="fill: none; stroke: #b0b0b0; stroke-width: 2.66664; stroke-linecap: square"/>
     </g>
     <g id="line2d_229">
      <g>
       <use href="#m4aa09e311d" x="1946.416667" y="1750.6" style="stroke: #000000; stroke-width: 2.8"/>
      </g>
     </g>
     <g id="text_58">
      <text style="font-size: 33.33px; font-family: 'DejaVu Sans'; text-anchor: middle" x="1946.416667" y="1799.258692" transform="rotate(-0 1946.416667 1799.258692)">25</text>
     </g>
    </g>
    <g id="xtick_28">
     <g id="line2d_230">
      <path d="M 2088.9 1750.6 
L 2088.9 1005.1 
" clip-path="url(#p05f88a425f)" style="fill: none; stroke: #b0b0b0; stroke-width: 2.66664; stroke-linecap: square"/>
     </g>
     <g id="line2d_231">
      <g>
       <use href="#m4aa09e311d" x="2088.9" y="1750.6" style="stroke: #000000; stroke-width: 2.8"/>
      </g>
     </g>
     <g id="text_59">
      <text style="font-size: 33.33px; font-family: 'DejaVu Sans'; text-anchor: middle" x="2088.9" y="1799.258692" transform="rotate(-0 2088.9 1799.258692)">30</text>
     </g>
    </g>
    <g id="text_60">
     <text style="font-size: 33.33px; font-family: 'DejaVu Sans'; text-anchor: middle" x="1661.45" y="1844.849083" transform="rotate(-0 1661.45 1844.849083)">Vertical wavenumber</text>
    </g>
   </g>
   <g id="matplotlib.axis_8">
    <g id="ytick_132">
     <g id="line2d_232">
      <path d="M 1234 1750.6 
L 2088.9 1750.6 
" clip-path="url(#p05f88a425f)" style="fill: none; stroke: #b0b0b0; stroke-width: 2.66664; stroke-linecap: square"/>
     </g>
     <g id="line2d_233">
      <g>
       <use href="#m0a65cb3548" x="1234" y="1750.6" style="stroke: #000000; stroke-width: 2.8"/>
      </g>
     </g>
     <g id="text_61">
      
      <g transform="translate(1132.3414 1763.262796)">
       <text>
        <tspan x="0" y="-0.217188" style="font-size: 33.33px; font-family: 'DejaVu Sans'">1</tspan>
        <tspan x="21.234192" y="-0.217188" style="font-size: 33.33px; font-family: 'DejaVu Sans'">0</tspan>
        <tspan x="42.784204" y="-12.85" style="font-size: 23.331px; font-family: 'DejaVu Sans'">−</tspan>
        <tspan x="62.359424" y="-12.85" style="font-size: 23.331px; font-family: 'DejaVu Sans'">3</tspan>
       </text>
      </g>
     </g>
    </g>
    <g id="ytick_133">
     <g id="line2d_234">
      <path d="M 1234 1584.933333 
L 2088.9 1584.933333 
" clip-path="url(#p05f88a425f)" style="fill: none; stroke: #b0b0b0; stroke-width: 2.66664; stroke-linecap: square"/>
     </g>
     <g id="line2d_235">
      <g>
       <use href="#m0a65cb3548" x="1234" y="1584.933333" style="stroke: #000000; stroke-width: 2.8"/>
      </g>
     </g>
     <g id="text_62">
      
      <g transform="translate(1132.3414 1597.596129)">
       <text>
        <tspan x="0" y="-0.217188" style="font-size: 33.33px; font-family: 'DejaVu Sans'">1</tspan>
        <tspan x="21.234192" y="-0.217188" style="font-size: 33.33px; font-family: 'DejaVu Sans'">0</tspan>
        <tspan x="42.784204" y="-12.85" style="font-size: 23.331px; font-family: 'DejaVu Sans'">−</tspan>
        <tspan x="62.359424" y="-12.85" style="font-size: 23.331px; font-family: 'DejaVu Sans'">2</tspan>
       </text>
      </g>
     </g>
    </g>
    <g id="ytick_134">
     <g id="line2d_236">
      <path d="M 1234 1419.266667 
L 2088.9 1419.266667 
" clip-path="url(#p05f88a425f)" style="fill: none; stroke: #b0b0b0; stroke-width: 2.66664; stroke-linecap: square"/>
     </g>
     <g id="line2d_237">
      <g>
       <use href="#m0a65cb3548" x="1234" y="1419.266667" style="stroke: #000000; stroke-width: 2.8"/>
      </g>
     </g>
     <g id="text_63">
      
      <g transform="translate(1132.3414 1431.929463)">
       <text>
        <tspan x="0" y="-0.523438" style="font-size: 33.33px; font-family: 'DejaVu Sans'">1</tspan>
        <tspan x="21.234192" y="-0.523438" style="font-size: 33.33px; font-family: 'DejaVu Sans'">0</tspan>
        <tspan x="42.784204" y="-13.15625" style="font-size: 23.331px; font-family: 'DejaVu Sans'">−</tspan>
        <tspan x="62.359424" y="-13.15625" style="font-size: 23.331px; font-family: 'DejaVu Sans'">1</tspan>
       </text>
      </g>
     </g>
    </g>
    <g id="ytick_135">
     <g id="line2d_238">
      <path d="M 1234 1253.6 
L 2088.9 1253.6 
" clip-path="url(#p05f88a425f)" style="fill: none; stroke: #b0b0b0; stroke-width: 2.66664; stroke-linecap: square"/>
     </g>
     <g id="line2d_239">
      <g>
       <use href="#m0a65cb3548" x="1234" y="1253.6" style="stroke: #000000; stroke-width: 2.8"/>
      </g>
     </g>
     <g id="text_64">
      
      <g transform="translate(1152.0061 1266.262796)">
       <text>
        <tspan x="0" y="-0.217188" style="font-size: 33.33px; font-family: 'DejaVu Sans'">1</tspan>
        <tspan x="21.234192" y="-0.217188" style="font-size: 33.33px; font-family: 'DejaVu Sans'">0</tspan>
        <tspan x="42.784204" y="-12.85" style="font-size: 23.331px; font-family: 'DejaVu Sans'">0</tspan>
       </text>
      </g>
     </g>
    </g>
    <g id="ytick_136">
     <g id="line2d_240">
      <path d="M 1234 1087.933333 
L 2088.9 1087.933333 
" clip-path="url(#p05f88a425f)" style="fill: none; stroke: #b0b0b0; stroke-width: 2.66664; stroke-linecap: square"/>
     </g>
     <g id="line2d_241">
      <g>
       <use href="#m0a65cb3548" x="1234" y="1087.933333" style="stroke: #000000; stroke-width: 2.8"/>
      </g>
     </g>
     <g id="text_65">
      
      <g transform="translate(1152.0061 1100.596129)">
       <text>
        <tspan x="0" y="-0.523438" style="font-size: 33.33px; font-family: 'DejaVu Sans'">1</tspan>
        <tspan x="21.234192" y="-0.523438" style="font-size: 33.33px; font-family: 'DejaVu Sans'">0</tspan>
        <tspan x="42.784204" y="-13.15625" style="font-size: 23.331px; font-family: 'DejaVu Sans'">1</tspan>
       </text>
      </g>
     </g>
    </g>
    <g id="ytick_137">
     <g id="line2d_242">
      <g>
       <use href="#mfb48398925" x="1234" y="1700.729364" style="stroke: #000000; stroke-width: 2"/>
      </g>
     </g>
    </g>
    <g id="ytick_138">
     <g id="line2d_243">
      <g>
       <use href="#mfb48398925" x="1234" y="1671.556912" style="stroke: #000000; stroke-width: 2"/>
      </g>
     </g>
    </g>
    <g id="ytick_139">
     <g id="line2d_244">
      <g>
       <use href="#mfb48398925" x="1234" y="1650.858728" style="stroke: #000000; stroke-width: 2"/>
      </g>
     </g>
    </g>
    <g id="ytick_140">
     <g id="line2d_245">
      <g>
       <use href="#mfb48398925" x="1234" y="1634.803969" style="stroke: #000000; stroke-width: 2"/>
      </g>
     </g>
    </g>
    <g id="ytick_141">
     <g id="line2d_246">
      <g>
       <use href="#mfb48398925" x="1234" y="1621.686276" style="stroke: #000000; stroke-width: 2"/>
      </g>
     </g>
    </g>
    <g id="ytick_142">
     <g id="line2d_247">
      <g>
       <use href="#mfb48398925" x="1234" y="1610.595425" style="stroke: #000000; stroke-width: 2"/>
      </g>
     </g>
    </g>
    <g id="ytick_143">
     <g id="line2d_248">
      <g>
       <use href="#mfb48398925" x="1234" y="1600.988092" style="stroke: #000000; stroke-width: 2"/>
      </g>
     </g>
    </g>
    <g id="ytick_144">
     <g id="line2d_249">
      <g>
       <use href="#mfb48398925" x="1234" y="1592.513824" style="stroke: #000000; stroke-width: 2"/>
      </g>
     </g>
    </g>
    <g id="ytick_145">
     <g id="line2d_250">
      <g>
       <use href="#mfb48398925" x="1234" y="1535.062697" style="stroke: #000000; stroke-width: 2"/>
      </g>
     </g>
    </g>
    <g id="ytick_146">
     <g id="line2d_251">
      <g>
       <use href="#mfb48398925" x="1234" y="1505.890245" style="stroke: #000000; stroke-width: 2"/>
      </g>
     </g>
    </g>
    <g id="ytick_147">
     <g id="line2d_252">
      <g>
       <use href="#mfb48398925" x="1234" y="1485.192061" style="stroke: #000000; stroke-width: 2"/>
      </g>
     </g>
    </g>
    <g id="ytick_148">
     <g id="line2d_253">
      <g>
       <use href="#mfb48398925" x="1234" y="1469.137303" style="stroke: #000000; stroke-width: 2"/>
      </g>
     </g>
    </g>
    <g id="ytick_149">
     <g id="line2d_254">
      <g>
       <use href="#mfb48398925" x="1234" y="1456.01961" style="stroke: #000000; stroke-width: 2"/>
      </g>
     </g>
    </g>
    <g id="ytick_150">
     <g id="line2d_255">
      <g>
       <use href="#mfb48398925" x="1234" y="1444.928758" style="stroke: #000000; stroke-width: 2"/>
      </g>
     </g>
    </g>
    <g id="ytick_151">
     <g id="line2d_256">
      <g>
       <use href="#mfb48398925" x="1234" y="1435.321425" style="stroke: #000000; stroke-width: 2"/>
      </g>
     </g>
    </g>
    <g id="ytick_152">
     <g id="line2d_257">
      <g>
       <use href="#mfb48398925" x="1234" y="1426.847158" style="stroke: #000000; stroke-width: 2"/>
      </g>
     </g>
    </g>
    <g id="ytick_153">
     <g id="line2d_258">
      <g>
       <use href="#mfb48398925" x="1234" y="1369.396031" style="stroke: #000000; stroke-width: 2"/>
      </g>
     </g>
    </g>
    <g id="ytick_154">
     <g id="line2d_259">
      <g>
       <use href="#mfb48398925" x="1234" y="1340.223579" style="stroke: #000000; stroke-width: 2"/>
      </g>
     </g>
    </g>
    <g id="ytick_155">
     <g id="line2d_260">
      <g>
       <use href="#mfb48398925" x="1234" y="1319.525395" style="stroke: #000000; stroke-width: 2"/>
      </g>
     </g>
    </g>
    <g id="ytick_156">
     <g id="line2d_261">
      <g>
       <use href="#mfb48398925" x="1234" y="1303.470636" style="stroke: #000000; stroke-width: 2"/>
      </g>
     </g>
    </g>
    <g id="ytick_157">
     <g id="line2d_262">
      <g>
       <use href="#mfb48398925" x="1234" y="1290.352943" style="stroke: #000000; stroke-width: 2"/>
      </g>
     </g>
    </g>
    <g id="ytick_158">
     <g id="line2d_263">
      <g>
       <use href="#mfb48398925" x="1234" y="1279.262091" style="stroke: #000000; stroke-width: 2"/>
      </g>
     </g>
    </g>
    <g id="ytick_159">
     <g id="line2d_264">
      <g>
       <use href="#mfb48398925" x="1234" y="1269.654759" style="stroke: #000000; stroke-width: 2"/>
      </g>
     </g>
    </g>
    <g id="ytick_160">
     <g id="line2d_265">
      <g>
       <use href="#mfb48398925" x="1234" y="1261.180491" style="stroke: #000000; stroke-width: 2"/>
      </g>
     </g>
    </g>
    <g id="ytick_161">
     <g id="line2d_266">
      <g>
       <use href="#mfb48398925" x="1234" y="1203.729364" style="stroke: #000000; stroke-width: 2"/>
      </g>
     </g>
    </g>
    <g id="ytick_162">
     <g id="line2d_267">
      <g>
       <use href="#mfb48398925" x="1234" y="1174.556912" style="stroke: #000000; stroke-width: 2"/>
      </g>
     </g>
    </g>
    <g id="ytick_163">
     <g id="line2d_268">
      <g>
       <use href="#mfb48398925" x="1234" y="1153.858728" style="stroke: #000000; stroke-width: 2"/>
      </g>
     </g>
    </g>
    <g id="ytick_164">
     <g id="line2d_269">
      <g>
       <use href="#mfb48398925" x="1234" y="1137.803969" style="stroke: #000000; stroke-width: 2"/>
      </g>
     </g>
    </g>
    <g id="ytick_165">
     <g id="line2d_270">
      <g>
       <use href="#mfb48398925" x="1234" y="1124.686276" style="stroke: #000000; stroke-width: 2"/>
      </g>
     </g>
    </g>
    <g id="ytick_166">
     <g id="line2d_271">
      <g>
       <use href="#mfb48398925" x="1234" y="1113.595425" style="stroke: #000000; stroke-width: 2"/>
      </g>
     </g>
    </g>
    <g id="ytick_167">
     <g id="line2d_272">
      <g>
       <use href="#mfb48398925" x="1234" y="1103.988092" style="stroke: #000000; stroke-width: 2"/>
      </g>
     </g>
    </g>
    <g id="ytick_168">
     <g id="line2d_273">
      <g>
       <use href="#mfb48398925" x="1234" y="1095.513824" style="stroke: #000000; stroke-width: 2"/>
      </g>
     </g>
    </g>
    <g id="ytick_169">
     <g id="line2d_274">
      <g>
       <use href="#mfb48398925" x="1234" y="1038.062697" style="stroke: #000000; stroke-width: 2"/>
      </g>
     </g>
    </g>
    <g id="ytick_170">
     <g id="line2d_275">
      <g>
       <use href="#mfb48398925" x="1234" y="1008.890245" style="stroke: #000000; stroke-width: 2"/>
      </g>
     </g>
    </g>
    <g id="text_66">
     <text style="font-size: 33.33px; font-family: 'DejaVu Sans'; text-anchor: middle" x="1112.076602" y="1377.85" transform="rotate(-90 1112.076602 1377.85)">Variance (J/kg)</text>
    </g>
   </g>
   <g id="line2d_276">
    <path clip-path="url(#p05f88a425f)" style="fill: none; stroke-dasharray: 19,7.35; stroke-dashoffset: 0; stroke: #0000ff; stroke-width: 5.6"/>
    <g clip-path="url(#p05f88a425f)">
     <use href="#m1bc015388f" x="1262.496667" y="2744.6" style="fill: #0000ff; stroke: #0000ff; stroke-width: 3.5"/>
     <use href="#m1bc015388f" x="1290.993333" y="2744.6" style="fill: #0000ff; stroke: #0000ff; stroke-width: 3.5"/>
     <use href="#m1bc015388f" x="1319.49" y="2744.6" style="fill: #0000ff; stroke: #0000ff; stroke-width: 3.5"/>
     <use href="#m1bc015388f" x="1347.986667" y="2744.6" style="fill: #0000ff; stroke: #0000ff; stroke-width: 3.5"/>
     <use href="#m1bc015388f" x="1376.483333" y="2744.6" style="fill: #0000ff; stroke: #0000ff; stroke-width: 3.5"/>
     <use href="#m1bc015388f" x="1404.98" y="2744.6" style="fill: #0000ff; stroke: #0000ff; stroke-width: 3.5"/>
     <use href="#m1bc015388f" x="1433.476667" y="2744.6" style="fill: #0000ff; stroke: #0000ff; stroke-width: 3.5"/>
     <use href="#m1bc015388f" x="1461.973333" y="2744.6" style="fill: #0000ff; stroke: #0000ff; stroke-width: 3.5"/>
     <use href="#m1bc015388f" x="1490.47" y="2744.6" style="fill: #0000ff; stroke: #0000ff; stroke-width: 3.5"/>
     <use href="#m1bc015388f" x="1518.966667" y="2744.6" style="fill: #0000ff; stroke: #0000ff; stroke-width: 3.5"/>
     <use href="#m1bc015388f" x="1547.463333" y="2744.6" style="fill: #0000ff; stroke: #0000ff; stroke-width: 3.5"/>
     <use href="#m1bc015388f" x="1575.96" y="2744.6" style="fill: #0000ff; stroke: #0000ff; stroke-width: 3.5"/>
     <use href="#m1bc015388f" x="1604.456667" y="2744.6" style="fill: #0000ff; stroke: #0000ff; stroke-width: 3.5"/>
     <use href="#m1bc015388f" x="1632.953333" y="2744.6" style="fill: #0000ff; stroke: #0000ff; stroke-width: 3.5"/>
     <use href="#m1bc015388f" x="1661.45" y="2744.6" style="fill: #0000ff; stroke: #0000ff; stroke-width: 3.5"/>
     <use href="#m1bc015388f" x="1689.946667" y="2744.6" style="fill: #0000ff; stroke: #0000ff; stroke-width: 3.5"/>
     <use href="#m1bc015388f" x="1718.443333" y="2744.6" style="fill: #0000ff; stroke: #0000ff; stroke-width: 3.5"/>
     <use href="#m1bc015388f" x="1746.94" y="2744.6" style="fill: #0000ff; stroke: #0000ff; stroke-width: 3.5"/>
     <use href="#m1bc015388f" x="1775.436667" y="2744.6" style="fill: #0000ff; stroke: #0000ff; stroke-width: 3.5"/>
     <use href="#m1bc015388f" x="1803.933333" y="2744.6" style="fill: #0000ff; stroke: #0000ff; stroke-width: 3.5"/>
     <use href="#m1bc015388f" x="1832.43" y="2744.6" style="fill: #0000ff; stroke: #0000ff; stroke-width: 3.5"/>
     <use href="#m1bc015388f" x="1860.926667" y="2744.6" style="fill: #0000ff; stroke: #0000ff; stroke-width: 3.5"/>
     <use href="#m1bc015388f" x="1889.423333" y="2744.6" style="fill: #0000ff; stroke: #0000ff; stroke-width: 3.5"/>
     <use href="#m1bc015388f" x="1917.92" y="2744.6" style="fill: #0000ff; stroke: #0000ff; stroke-width: 3.5"/>
     <use href="#m1bc015388f" x="1946.416667" y="2744.6" style="fill: #0000ff; stroke: #0000ff; stroke-width: 3.5"/>
     <use href="#m1bc015388f" x="1974.913333" y="2744.6" style="fill: #0000ff; stroke: #0000ff; stroke-width: 3.5"/>
     <use href="#m1bc015388f" x="2003.41" y="2744.6" style="fill: #0000ff; stroke: #0000ff; stroke-width: 3.5"/>
     <use href="#m1bc015388f" x="2031.906667" y="2744.6" style="fill: #0000ff; stroke: #0000ff; stroke-width: 3.5"/>
     <use href="#m1bc015388f" x="2060.403333" y="2744.6" style="fill: #0000ff; stroke: #0000ff; stroke-width: 3.5"/>
     <use href="#m1bc015388f" x="2088.9" y="2744.6" style="fill: #0000ff; stroke: #0000ff; stroke-width: 3.5"/>
    </g>
   </g>
   <g id="line2d_277">
    <path d="M 1262.496667 1083.2 
L 1290.993333 1146.4 
L 1319.49 1178 
L 1347.986667 1215.3 
L 1376.483333 1236.3 
L 1404.98 1239.9 
L 1433.476667 1216 
L 1461.973333 1216 
L 1490.47 1224.4 
L 1518.966667 1230.7 
L 1547.463333 1232.7 
L 1575.96 1244.6 
L 1604.456667 1282.6 
L 1632.953333 1313.5 
L 1661.45 1340.2 
L 1689.946667 1361.3 
L 1718.443333 1351.4 
L 1746.94 1362.7 
L 1775.436667 1354.2 
L 1803.933333 1364.1 
L 1832.43 1358.3 
L 1860.926667 1361.1 
L 1889.423333 1359.7 
L 1917.92 1360.4 
L 1946.416667 1367.4 
L 1974.913333 1368.8 
L 2003.41 1382.9 
L 2031.906667 1387.1 
L 2060.403333 1404 
L 2088.9 1408.9 
" clip-path="url(#p05f88a425f)" style="fill: none; stroke: #0000ff; stroke-width: 5.6; stroke-linecap: square"/>
    <g clip-path="url(#p05f88a425f)">
     <use href="#m1bc015388f" x="1262.496667" y="1083.2" style="fill: #0000ff; stroke: #0000ff; stroke-width: 3.5"/>
     <use href="#m1bc015388f" x="1290.993333" y="1146.4" style="fill: #0000ff; stroke: #0000ff; stroke-width: 3.5"/>
     <use href="#m1bc015388f" x="1319.49" y="1178" style="fill: #0000ff; stroke: #0000ff; stroke-width: 3.5"/>
     <use href="#m1bc015388f" x="1347.986667" y="1215.3" style="fill: #0000ff; stroke: #0000ff; stroke-width: 3.5"/>
     <use href="#m1bc015388f" x="1376.483333" y="1236.3" style="fill: #0000ff; stroke: #0000ff; stroke-width: 3.5"/>
     <use href="#m1bc015388f" x="1404.98" y="1239.9" style="fill: #0000ff; stroke: #0000ff; stroke-width: 3.5"/>
     <use href="#m1bc015388f" x="1433.476667" y="1216" style="fill: #0000ff; stroke: #0000ff; stroke-width: 3.5"/>
     <use href="#m1bc015388f" x="1461.973333" y="1216" style="fill: #0000ff; stroke: #0000ff; stroke-width: 3.5"/>
     <use href="#m1bc015388f" x="1490.47" y="1224.4" style="fill: #0000ff; stroke: #0000ff; stroke-width: 3.5"/>
     <use href="#m1bc015388f" x="1518.966667" y="1230.7" style="fill: #0000ff; stroke: #0000ff; stroke-width: 3.5"/>
     <use href="#m1bc015388f" x="1547.463333" y="1232.7" style="fill: #0000ff; stroke: #0000ff; stroke-width: 3.5"/>
     <use href="#m1bc015388f" x="1575.96" y="1244.6" style="fill: #0000ff; stroke: #0000ff; stroke-width: 3.5"/>
     <use href="#m1bc015388f" x="1604.456667" y="1282.6" style="fill: #0000ff; stroke: #0000ff; stroke-width: 3.5"/>
     <use href="#m1bc015388f" x="1632.953333" y="1313.5" style="fill: #0000ff; stroke: #0000ff; stroke-width: 3.5"/>
     <use href="#m1bc015388f" x="1661.45" y="1340.2" style="fill: #0000ff; stroke: #0000ff; stroke-width: 3.5"/>
     <use href="#m1bc015388f" x="1689.946667" y="1361.3" style="fill: #0000ff; stroke: #0000ff; stroke-width: 3.5"/>
     <use href="#m1bc015388f" x="1718.443333" y="1351.4" style="fill: #0000ff; stroke: #0000ff; stroke-width: 3.5"/>
     <use href="#m1bc015388f" x="1746.94" y="1362.7" style="fill: #0000ff; stroke: #0000ff; stroke-width: 3.5"/>
     <use href="#m1bc015388f" x="1775.436667" y="1354.2" style="fill: #0000ff; stroke: #0000ff; stroke-width: 3.5"/>
     <use href="#m1bc015388f" x="1803.933333" y="1364.1" style="fill: #0000ff; stroke: #0000ff; stroke-width: 3.5"/>
     <use href="#m1bc015388f" x="1832.43" y="1358.3" style="fill: #0000ff; stroke: #0000ff; stroke-width: 3.5"/>
     <use href="#m1bc015388f" x="1860.926667" y="1361.1" style="fill: #0000ff; stroke: #0000ff; stroke-width: 3.5"/>
     <use href="#m1bc015388f" x="1889.423333" y="1359.7" style="fill: #0000ff; stroke: #0000ff; stroke-width: 3.5"/>
     <use href="#m1bc015388f" x="1917.92" y="1360.4" style="fill: #0000ff; stroke: #0000ff; stroke-width: 3.5"/>
     <use href="#m1bc015388f" x="1946.416667" y="1367.4" style="fill: #0000ff; stroke: #0000ff; stroke-width: 3.5"/>
     <use href="#m1bc015388f" x="1974.913333" y="1368.8" style="fill: #0000ff; stroke: #0000ff; stroke-width: 3.5"/>
     <use href="#m1bc015388f" x="2003.41" y="1382.9" style="fill: #0000ff; stroke: #0000ff; stroke-width: 3.5"/>
     <use href="#m1bc015388f" x="2031.906667" y="1387.1" style="fill: #0000ff; stroke: #0000ff; stroke-width: 3.5"/>
     <use href="#m1bc015388f" x="2060.403333" y="1404" style="fill: #0000ff; stroke: #0000ff; stroke-width: 3.5"/>
     <use href="#m1bc015388f" x="2088.9" y="1408.9" style="fill: #0000ff; stroke: #0000ff; stroke-width: 3.5"/>
    </g>
   </g>
   <g id="line2d_278">
    <path d="M 1262.496667 1410.8 
L 1290.993333 1472.6 
L 1319.49 1567.1 
L 1347.986667 1592.4 
L 1376.483333 1534.8 
L 1404.98 1567.1 
L 1433.476667 1478.2 
L 1461.973333 1487.4 
L 1490.47 1487.4 
L 1518.966667 1479.6 
L 1547.463333 1512.8 
L 1575.96 1512.1 
L 1604.456667 1576 
L 1632.953333 1650.1 
L 1661.45 1599.2 
L 1689.946667 1586.2 
L 1718.443333 1560.2 
L 1746.94 1574.3 
L 1775.436667 1579.2 
L 1803.933333 1605.2 
L 1832.43 1616.9 
L 1860.926667 1642.3 
L 1889.423333 1709.5 
L 1917.92 1703.8 
L 1946.416667 1732.5 
L 1974.913333 1665.2 
L 2003.41 1712.8 
L 2031.906667 1671 
L 2060.403333 1697.2 
L 2088.9 1695.6 
" clip-path="url(#p05f88a425f)" style="fill: none; stroke-dasharray: 5.6,7.5; stroke-dashoffset: 0; stroke: #0000ff; stroke-width: 5.6"/>
    <g clip-path="url(#p05f88a425f)">
     <use href="#m1bc015388f" x="1262.496667" y="1410.8" style="fill: #0000ff; stroke: #0000ff; stroke-width: 3.5"/>
     <use href="#m1bc015388f" x="1290.993333" y="1472.6" style="fill: #0000ff; stroke: #0000ff; stroke-width: 3.5"/>
     <use href="#m1bc015388f" x="1319.49" y="1567.1" style="fill: #0000ff; stroke: #0000ff; stroke-width: 3.5"/>
     <use href="#m1bc015388f" x="1347.986667" y="1592.4" style="fill: #0000ff; stroke: #0000ff; stroke-width: 3.5"/>
     <use href="#m1bc015388f" x="1376.483333" y="1534.8" style="fill: #0000ff; stroke: #0000ff; stroke-width: 3.5"/>
     <use href="#m1bc015388f" x="1404.98" y="1567.1" style="fill: #0000ff; stroke: #0000ff; stroke-width: 3.5"/>
     <use href="#m1bc015388f" x="1433.476667" y="1478.2" style="fill: #0000ff; stroke: #0000ff; stroke-width: 3.5"/>
     <use href="#m1bc015388f" x="1461.973333" y="1487.4" style="fill: #0000ff; stroke: #0000ff; stroke-width: 3.5"/>
     <use href="#m1bc015388f" x="1490.47" y="1487.4" style="fill: #0000ff; stroke: #0000ff; stroke-width: 3.5"/>
     <use href="#m1bc015388f" x="1518.966667" y="1479.6" style="fill: #0000ff; stroke: #0000ff; stroke-width: 3.5"/>
     <use href="#m1bc015388f" x="1547.463333" y="1512.8" style="fill: #0000ff; stroke: #0000ff; stroke-width: 3.5"/>
     <use href="#m1bc015388f" x="1575.96" y="1512.1" style="fill: #0000ff; stroke: #0000ff; stroke-width: 3.5"/>
     <use href="#m1bc015388f" x="1604.456667" y="1576" style="fill: #0000ff; stroke: #0000ff; stroke-width: 3.5"/>
     <use href="#m1bc015388f" x="1632.953333" y="1650.1" style="fill: #0000ff; stroke: #0000ff; stroke-width: 3.5"/>
     <use href="#m1bc015388f" x="1661.45" y="1599.2" style="fill: #0000ff; stroke: #0000ff; stroke-width: 3.5"/>
     <use href="#m1bc015388f" x="1689.946667" y="1586.2" style="fill: #0000ff; stroke: #0000ff; stroke-width: 3.5"/>
     <use href="#m1bc015388f" x="1718.443333" y="1560.2" style="fill: #0000ff; stroke: #0000ff; stroke-width: 3.5"/>
     <use href="#m1bc015388f" x="1746.94" y="1574.3" style="fill: #0000ff; stroke: #0000ff; stroke-width: 3.5"/>
     <use href="#m1bc015388f" x="1775.436667" y="1579.2" style="fill: #0000ff; stroke: #0000ff; stroke-width: 3.5"/>
     <use href="#m1bc015388f" x="1803.933333" y="1605.2" style="fill: #0000ff; stroke: #0000ff; stroke-width: 3.5"/>
     <use href="#m1bc015388f" x="1832.43" y="1616.9" style="fill: #0000ff; stroke: #0000ff; stroke-width: 3.5"/>
     <use href="#m1bc015388f" x="1860.926667" y="1642.3" style="fill: #0000ff; stroke: #0000ff; stroke-width: 3.5"/>
     <use href="#m1bc015388f" x="1889.423333" y="1709.5" style="fill: #0000ff; stroke: #0000ff; stroke-width: 3.5"/>
     <use href="#m1bc015388f" x="1917.92" y="1703.8" style="fill: #0000ff; stroke: #0000ff; stroke-width: 3.5"/>
     <use href="#m1bc015388f" x="1946.416667" y="1732.5" style="fill: #0000ff; stroke: #0000ff; stroke-width: 3.5"/>
     <use href="#m1bc015388f" x="1974.913333" y="1665.2" style="fill: #0000ff; stroke: #0000ff; stroke-width: 3.5"/>
     <use href="#m1bc015388f" x="2003.41" y="1712.8" style="fill: #0000ff; stroke: #0000ff; stroke-width: 3.5"/>
     <use href="#m1bc015388f" x="2031.906667" y="1671" style="fill: #0000ff; stroke: #0000ff; stroke-width: 3.5"/>
     <use href="#m1bc015388f" x="2060.403333" y="1697.2" style="fill: #0000ff; stroke: #0000ff; stroke-width: 3.5"/>
     <use href="#m1bc015388f" x="2088.9" y="1695.6" style="fill: #0000ff; stroke: #0000ff; stroke-width: 3.5"/>
    </g>
   </g>
   <g id="line2d_279">
    <path d="M 1262.496667 1535.1 
L 1290.993333 1487.4 
L 1319.49 1462.1 
L 1347.986667 1455.1 
L 1376.483333 1434 
L 1404.98 1411.5 
L 1433.476667 1393.9 
L 1461.973333 1388.3 
L 1490.47 1376.4 
L 1518.966667 1390.4 
L 1547.463333 1410.2 
L 1575.96 1420.7 
L 1604.456667 1441.8 
L 1632.953333 1462.9 
L 1661.45 1463.6 
L 1689.946667 1460.1 
L 1718.443333 1464.3 
L 1746.94 1471.3 
L 1775.436667 1480.5 
L 1803.933333 1493.9 
L 1832.43 1507 
L 1860.926667 1516.9 
L 1889.423333 1519.3 
L 1917.92 1519.3 
L 1946.416667 1527.5 
L 1974.913333 1530 
L 2003.41 1538.2 
L 2031.906667 1550.5 
L 2060.403333 1566.9 
L 2088.9 1578.4 
" clip-path="url(#p05f88a425f)" style="fill: none; stroke-dasharray: 19,7.35; stroke-dashoffset: 0; stroke: #ff0000; stroke-width: 5.6"/>
    <g clip-path="url(#p05f88a425f)">
     <use href="#ma22b54537e" x="1262.496667" y="1535.1" style="fill: #ff0000; stroke: #ff0000; stroke-width: 3.5"/>
     <use href="#ma22b54537e" x="1290.993333" y="1487.4" style="fill: #ff0000; stroke: #ff0000; stroke-width: 3.5"/>
     <use href="#ma22b54537e" x="1319.49" y="1462.1" style="fill: #ff0000; stroke: #ff0000; stroke-width: 3.5"/>
     <use href="#ma22b54537e" x="1347.986667" y="1455.1" style="fill: #ff0000; stroke: #ff0000; stroke-width: 3.5"/>
     <use href="#ma22b54537e" x="1376.483333" y="1434" style="fill: #ff0000; stroke: #ff0000; stroke-width: 3.5"/>
     <use href="#ma22b54537e" x="1404.98" y="1411.5" style="fill: #ff0000; stroke: #ff0000; stroke-width: 3.5"/>
     <use href="#ma22b54537e" x="1433.476667" y="1393.9" style="fill: #ff0000; stroke: #ff0000; stroke-width: 3.5"/>
     <use href="#ma22b54537e" x="1461.973333" y="1388.3" style="fill: #ff0000; stroke: #ff0000; stroke-width: 3.5"/>
     <use href="#ma22b54537e" x="1490.47" y="1376.4" style="fill: #ff0000; stroke: #ff0000; stroke-width: 3.5"/>
     <use href="#ma22b54537e" x="1518.966667" y="1390.4" style="fill: #ff0000; stroke: #ff0000; stroke-width: 3.5"/>
     <use href="#ma22b54537e" x="1547.463333" y="1410.2" style="fill: #ff0000; stroke: #ff0000; stroke-width: 3.5"/>
     <use href="#ma22b54537e" x="1575.96" y="1420.7" style="fill: #ff0000; stroke: #ff0000; stroke-width: 3.5"/>
     <use href="#ma22b54537e" x="1604.456667" y="1441.8" style="fill: #ff0000; stroke: #ff0000; stroke-width: 3.5"/>
     <use href="#ma22b54537e" x="1632.953333" y="1462.9" style="fill: #ff0000; stroke: #ff0000; stroke-width: 3.5"/>
     <use href="#ma22b54537e" x="1661.45" y="1463.6" style="fill: #ff0000; stroke: #ff0000; stroke-width: 3.5"/>
     <use href="#ma22b54537e" x="1689.946667" y="1460.1" style="fill: #ff0000; stroke: #ff0000; stroke-width: 3.5"/>
     <use href="#ma22b54537e" x="1718.443333" y="1464.3" style="fill: #ff0000; stroke: #ff0000; stroke-width: 3.5"/>
     <use href="#ma22b54537e" x="1746.94" y="1471.3" style="fill: #ff0000; stroke: #ff0000; stroke-width: 3.5"/>
     <use href="#ma22b54537e" x="1775.436667" y="1480.5" style="fill: #ff0000; stroke: #ff0000; stroke-width: 3.5"/>
     <use href="#ma22b54537e" x="1803.933333" y="1493.9" style="fill: #ff0000; stroke: #ff0000; stroke-width: 3.5"/>
     <use href="#ma22b54537e" x="1832.43" y="1507" style="fill: #ff0000; stroke: #ff0000; stroke-width: 3.5"/>
     <use href="#ma22b54537e" x="1860.926667" y="1516.9" style="fill: #ff0000; stroke: #ff0000; stroke-width: 3.5"/>
     <use href="#ma22b54537e" x="1889.423333" y="1519.3" style="fill: #ff0000; stroke: #ff0000; stroke-width: 3.5"/>
     <use href="#ma22b54537e" x="1917.92" y="1519.3" style="fill: #ff0000; stroke: #ff0000; stroke-width: 3.5"/>
     <use href="#ma22b54537e" x="1946.416667" y="1527.5" style="fill: #ff0000; stroke: #ff0000; stroke-width: 3.5"/>
     <use href="#ma22b54537e" x="1974.913333" y="1530" style="fill: #ff0000; stroke: #ff0000; stroke-width: 3.5"/>
     <use href="#ma22b54537e" x="2003.41" y="1538.2" style="fill: #ff0000; stroke: #ff0000; stroke-width: 3.5"/>
     <use href="#ma22b54537e" x="2031.906667" y="1550.5" style="fill: #ff0000; stroke: #ff0000; stroke-width: 3.5"/>
     <use href="#ma22b54537e" x="2060.403333" y="1566.9" style="fill: #ff0000; stroke: #ff0000; stroke-width: 3.5"/>
     <use href="#ma22b54537e" x="2088.9" y="1578.4" style="fill: #ff0000; stroke: #ff0000; stroke-width: 3.5"/>
    </g>
   </g>
   <g id="line2d_280">
    <path d="M 1262.496667 1536.5 
L 1290.993333 1491.6 
L 1319.49 1474.7 
L 1347.986667 1469.1 
L 1376.483333 1443.8 
L 1404.98 1431.2 
L 1433.476667 1407.3 
L 1461.973333 1400.3 
L 1490.47 1414.3 
L 1518.966667 1410.5 
L 1547.463333 1415.1 
L 1575.96 1429.2 
L 1604.456667 1450.3 
L 1632.953333 1465.7 
L 1661.45 1475.5 
L 1689.946667 1477.7 
L 1718.443333 1477.7 
L 1746.94 1484.7 
L 1775.436667 1493.8 
L 1803.933333 1506 
L 1832.43 1522.6 
L 1860.926667 1530 
L 1889.423333 1535.7 
L 1917.92 1538.2 
L 1946.416667 1539 
L 1974.913333 1543.1 
L 2003.41 1546.4 
L 2031.906667 1557 
L 2060.403333 1568.5 
L 2088.9 1581.6 
" clip-path="url(#p05f88a425f)" style="fill: none; stroke: #ff0000; stroke-width: 5.6; stroke-linecap: square"/>
    <g clip-path="url(#p05f88a425f)">
     <use href="#ma22b54537e" x="1262.496667" y="1536.5" style="fill: #ff0000; stroke: #ff0000; stroke-width: 3.5"/>
     <use href="#ma22b54537e" x="1290.993333" y="1491.6" style="fill: #ff0000; stroke: #ff0000; stroke-width: 3.5"/>
     <use href="#ma22b54537e" x="1319.49" y="1474.7" style="fill: #ff0000; stroke: #ff0000; stroke-width: 3.5"/>
     <use href="#ma22b54537e" x="1347.986667" y="1469.1" style="fill: #ff0000; stroke: #ff0000; stroke-width: 3.5"/>
     <use href="#ma22b54537e" x="1376.483333" y="1443.8" style="fill: #ff0000; stroke: #ff0000; stroke-width: 3.5"/>
     <use href="#ma22b54537e" x="1404.98" y="1431.2" style="fill: #ff0000; stroke: #ff0000; stroke-width: 3.5"/>
     <use href="#ma22b54537e" x="1433.476667" y="1407.3" style="fill: #ff0000; stroke: #ff0000; stroke-width: 3.5"/>
     <use href="#ma22b54537e" x="1461.973333" y="1400.3" style="fill: #ff0000; stroke: #ff0000; stroke-width: 3.5"/>
     <use href="#ma22b54537e" x="1490.47" y="1414.3" style="fill: #ff0000; stroke: #ff0000; stroke-width: 3.5"/>
     <use href="#ma22b54537e" x="1518.966667" y="1410.5" style="fill: #ff0000; stroke: #ff0000; stroke-width: 3.5"/>
     <use href="#ma22b54537e" x="1547.463333" y="1415.1" style="fill: #ff0000; stroke: #ff0000; stroke-width: 3.5"/>
     <use href="#ma22b54537e" x="1575.96" y="1429.2" style="fill: #ff0000; stroke: #ff0000; stroke-width: 3.5"/>
     <use href="#ma22b54537e" x="1604.456667" y="1450.3" style="fill: #ff0000; stroke: #ff0000; stroke-width: 3.5"/>
     <use href="#ma22b54537e" x="1632.953333" y="1465.7" style="fill: #ff0000; stroke: #ff0000; stroke-width: 3.5"/>
     <use href="#ma22b54537e" x="1661.45" y="1475.5" style="fill: #ff0000; stroke: #ff0000; stroke-width: 3.5"/>
     <use href="#ma22b54537e" x="1689.946667" y="1477.7" style="fill: #ff0000; stroke: #ff0000; stroke-width: 3.5"/>
     <use href="#ma22b54537e" x="1718.443333" y="1477.7" style="fill: #ff0000; stroke: #ff0000; stroke-width: 3.5"/>
     <use href="#ma22b54537e" x="1746.94" y="1484.7" style="fill: #ff0000; stroke: #ff0000; stroke-width: 3.5"/>
     <use href="#ma22b54537e" x="1775.436667" y="1493.8" style="fill: #ff0000; stroke: #ff0000; stroke-width: 3.5"/>
     <use href="#ma22b54537e" x="1803.933333" y="1506" style="fill: #ff0000; stroke: #ff0000; stroke-width: 3.5"/>
     <use href="#ma22b54537e" x="1832.43" y="1522.6" style="fill: #ff0000; stroke: #ff0000; stroke-width: 3.5"/>
     <use href="#ma22b54537e" x="1860.926667" y="1530" style="fill: #ff0000; stroke: #ff0000; stroke-width: 3.5"/>
     <use href="#ma22b54537e" x="1889.423333" y="1535.7" style="fill: #ff0000; stroke: #ff0000; stroke-width: 3.5"/>
     <use href="#ma22b54537e" x="1917.92" y="1538.2" style="fill: #ff0000; stroke: #ff0000; stroke-width: 3.5"/>
     <use href="#ma22b54537e" x="1946.416667" y="1539" style="fill: #ff0000; stroke: #ff0000; stroke-width: 3.5"/>
     <use href="#ma22b54537e" x="1974.913333" y="1543.1" style="fill: #ff0000; stroke: #ff0000; stroke-width: 3.5"/>
     <use href="#ma22b54537e" x="2003.41" y="1546.4" style="fill: #ff0000; stroke: #ff0000; stroke-width: 3.5"/>
     <use href="#ma22b54537e" x="2031.906667" y="1557" style="fill: #ff0000; stroke: #ff0000; stroke-width: 3.5"/>
     <use href="#ma22b54537e" x="2060.403333" y="1568.5" style="fill: #ff0000; stroke: #ff0000; stroke-width: 3.5"/>
     <use href="#ma22b54537e" x="2088.9" y="1581.6" style="fill: #ff0000; stroke: #ff0000; stroke-width: 3.5"/>
    </g>
   </g>
   <g id="line2d_281">
    <path d="M 1262.496667 1722.3 
L 1290.993333 1654.2 
L 1319.49 1596.6 
L 1347.986667 1579.7 
L 1376.483333 1574.1 
L 1404.98 1521.8 
L 1433.476667 1528.8 
L 1461.973333 1534.4 
L 1490.47 1441.7 
L 1518.966667 1493 
L 1547.463333 1574.6 
L 1575.96 1572.5 
L 1604.456667 1582.7 
L 1632.953333 1650.8 
L 1661.45 1608 
L 1689.946667 1567.9 
L 1718.443333 1608 
L 1746.94 1601.7 
L 1775.436667 1612.9 
L 1803.933333 1627 
L 1832.43 1624.3 
L 1860.926667 1645.6 
L 1889.423333 1633.3 
L 1917.92 1627.5 
L 1946.416667 1674.3 
L 1974.913333 1660.3 
L 2003.41 1694.8 
L 2031.906667 1703.8 
L 2060.403333 1748.9 
L 2088.9 1775 
" clip-path="url(#p05f88a425f)" style="fill: none; stroke-dasharray: 5.6,7.5; stroke-dashoffset: 0; stroke: #ff0000; stroke-width: 5.6"/>
    <g clip-path="url(#p05f88a425f)">
     <use href="#ma22b54537e" x="1262.496667" y="1722.3" style="fill: #ff0000; stroke: #ff0000; stroke-width: 3.5"/>
     <use href="#ma22b54537e" x="1290.993333" y="1654.2" style="fill: #ff0000; stroke: #ff0000; stroke-width: 3.5"/>
     <use href="#ma22b54537e" x="1319.49" y="1596.6" style="fill: #ff0000; stroke: #ff0000; stroke-width: 3.5"/>
     <use href="#ma22b54537e" x="1347.986667" y="1579.7" style="fill: #ff0000; stroke: #ff0000; stroke-width: 3.5"/>
     <use href="#ma22b54537e" x="1376.483333" y="1574.1" style="fill: #ff0000; stroke: #ff0000; stroke-width: 3.5"/>
     <use href="#ma22b54537e" x="1404.98" y="1521.8" style="fill: #ff0000; stroke: #ff0000; stroke-width: 3.5"/>
     <use href="#ma22b54537e" x="1433.476667" y="1528.8" style="fill: #ff0000; stroke: #ff0000; stroke-width: 3.5"/>
     <use href="#ma22b54537e" x="1461.973333" y="1534.4" style="fill: #ff0000; stroke: #ff0000; stroke-width: 3.5"/>
     <use href="#ma22b54537e" x="1490.47" y="1441.7" style="fill: #ff0000; stroke: #ff0000; stroke-width: 3.5"/>
     <use href="#ma22b54537e" x="1518.966667" y="1493" style="fill: #ff0000; stroke: #ff0000; stroke-width: 3.5"/>
     <use href="#ma22b54537e" x="1547.463333" y="1574.6" style="fill: #ff0000; stroke: #ff0000; stroke-width: 3.5"/>
     <use href="#ma22b54537e" x="1575.96" y="1572.5" style="fill: #ff0000; stroke: #ff0000; stroke-width: 3.5"/>
     <use href="#ma22b54537e" x="1604.456667" y="1582.7" style="fill: #ff0000; stroke: #ff0000; stroke-width: 3.5"/>
     <use href="#ma22b54537e" x="1632.953333" y="1650.8" style="fill: #ff0000; stroke: #ff0000; stroke-width: 3.5"/>
     <use href="#ma22b54537e" x="1661.45" y="1608" style="fill: #ff0000; stroke: #ff0000; stroke-width: 3.5"/>
     <use href="#ma22b54537e" x="1689.946667" y="1567.9" style="fill: #ff0000; stroke: #ff0000; stroke-width: 3.5"/>
     <use href="#ma22b54537e" x="1718.443333" y="1608" style="fill: #ff0000; stroke: #ff0000; stroke-width: 3.5"/>
     <use href="#ma22b54537e" x="1746.94" y="1601.7" style="fill: #ff0000; stroke: #ff0000; stroke-width: 3.5"/>
     <use href="#ma22b54537e" x="1775.436667" y="1612.9" style="fill: #ff0000; stroke: #ff0000; stroke-width: 3.5"/>
     <use href="#ma22b54537e" x="1803.933333" y="1627" style="fill: #ff0000; stroke: #ff0000; stroke-width: 3.5"/>
     <use href="#ma22b54537e" x="1832.43" y="1624.3" style="fill: #ff0000; stroke: #ff0000; stroke-width: 3.5"/>
     <use href="#ma22b54537e" x="1860.926667" y="1645.6" style="fill: #ff0000; stroke: #ff0000; stroke-width: 3.5"/>
     <use href="#ma22b54537e" x="1889.423333" y="1633.3" style="fill: #ff0000; stroke: #ff0000; stroke-width: 3.5"/>
     <use href="#ma22b54537e" x="1917.92" y="1627.5" style="fill: #ff0000; stroke: #ff0000; stroke-width: 3.5"/>
     <use href="#ma22b54537e" x="1946.416667" y="1674.3" style="fill: #ff0000; stroke: #ff0000; stroke-width: 3.5"/>
     <use href="#ma22b54537e" x="1974.913333" y="1660.3" style="fill: #ff0000; stroke: #ff0000; stroke-width: 3.5"/>
     <use href="#ma22b54537e" x="2003.41" y="1694.8" style="fill: #ff0000; stroke: #ff0000; stroke-width: 3.5"/>
     <use href="#ma22b54537e" x="2031.906667" y="1703.8" style="fill: #ff0000; stroke: #ff0000; stroke-width: 3.5"/>
     <use href="#ma22b54537e" x="2060.403333" y="1748.9" style="fill: #ff0000; stroke: #ff0000; stroke-width: 3.5"/>
     <use href="#ma22b54537e" x="2088.9" y="1775" style="fill: #ff0000; stroke: #ff0000; stroke-width: 3.5"/>
    </g>
   </g>
   <g id="line2d_282">
    <path d="M 1262.496667 1081.8 
L 1290.993333 1145 
L 1319.49 1175.9 
L 1347.986667 1212.5 
L 1376.483333 1230 
L 1404.98 1230.7 
L 1433.476667 1208.2 
L 1461.973333 1207.5 
L 1490.47 1213.9 
L 1518.966667 1220.2 
L 1547.463333 1224.3 
L 1575.96 1236.9 
L 1604.456667 1274.1 
L 1632.953333 1304.4 
L 1661.45 1327.5 
L 1689.946667 1343 
L 1718.443333 1335.3 
L 1746.94 1345.8 
L 1775.436667 1340.2 
L 1803.933333 1350 
L 1832.43 1347.1 
L 1860.926667 1350.6 
L 1889.423333 1350.6 
L 1917.92 1351.3 
L 1946.416667 1358.3 
L 1974.913333 1359 
L 2003.41 1374.5 
L 2031.906667 1377.3 
L 2060.403333 1393.4 
L 2088.9 1398.4 
" clip-path="url(#p05f88a425f)" style="fill: none; stroke: #000000; stroke-width: 5.6; stroke-linecap: square"/>
    <g clip-path="url(#p05f88a425f)">
     <use href="#mdfbb6a1ec8" x="1262.496667" y="1081.8" style="stroke: #000000; stroke-width: 3.5"/>
     <use href="#mdfbb6a1ec8" x="1290.993333" y="1145" style="stroke: #000000; stroke-width: 3.5"/>
     <use href="#mdfbb6a1ec8" x="1319.49" y="1175.9" style="stroke: #000000; stroke-width: 3.5"/>
     <use href="#mdfbb6a1ec8" x="1347.986667" y="1212.5" style="stroke: #000000; stroke-width: 3.5"/>
     <use href="#mdfbb6a1ec8" x="1376.483333" y="1230" style="stroke: #000000; stroke-width: 3.5"/>
     <use href="#mdfbb6a1ec8" x="1404.98" y="1230.7" style="stroke: #000000; stroke-width: 3.5"/>
     <use href="#mdfbb6a1ec8" x="1433.476667" y="1208.2" style="stroke: #000000; stroke-width: 3.5"/>
     <use href="#mdfbb6a1ec8" x="1461.973333" y="1207.5" style="stroke: #000000; stroke-width: 3.5"/>
     <use href="#mdfbb6a1ec8" x="1490.47" y="1213.9" style="stroke: #000000; stroke-width: 3.5"/>
     <use href="#mdfbb6a1ec8" x="1518.966667" y="1220.2" style="stroke: #000000; stroke-width: 3.5"/>
     <use href="#mdfbb6a1ec8" x="1547.463333" y="1224.3" style="stroke: #000000; stroke-width: 3.5"/>
     <use href="#mdfbb6a1ec8" x="1575.96" y="1236.9" style="stroke: #000000; stroke-width: 3.5"/>
     <use href="#mdfbb6a1ec8" x="1604.456667" y="1274.1" style="stroke: #000000; stroke-width: 3.5"/>
     <use href="#mdfbb6a1ec8" x="1632.953333" y="1304.4" style="stroke: #000000; stroke-width: 3.5"/>
     <use href="#mdfbb6a1ec8" x="1661.45" y="1327.5" style="stroke: #000000; stroke-width: 3.5"/>
     <use href="#mdfbb6a1ec8" x="1689.946667" y="1343" style="stroke: #000000; stroke-width: 3.5"/>
     <use href="#mdfbb6a1ec8" x="1718.443333" y="1335.3" style="stroke: #000000; stroke-width: 3.5"/>
     <use href="#mdfbb6a1ec8" x="1746.94" y="1345.8" style="stroke: #000000; stroke-width: 3.5"/>
     <use href="#mdfbb6a1ec8" x="1775.436667" y="1340.2" style="stroke: #000000; stroke-width: 3.5"/>
     <use href="#mdfbb6a1ec8" x="1803.933333" y="1350" style="stroke: #000000; stroke-width: 3.5"/>
     <use href="#mdfbb6a1ec8" x="1832.43" y="1347.1" style="stroke: #000000; stroke-width: 3.5"/>
     <use href="#mdfbb6a1ec8" x="1860.926667" y="1350.6" style="stroke: #000000; stroke-width: 3.5"/>
     <use href="#mdfbb6a1ec8" x="1889.423333" y="1350.6" style="stroke: #000000; stroke-width: 3.5"/>
     <use href="#mdfbb6a1ec8" x="1917.92" y="1351.3" style="stroke: #000000; stroke-width: 3.5"/>
     <use href="#mdfbb6a1ec8" x="1946.416667" y="1358.3" style="stroke: #000000; stroke-width: 3.5"/>
     <use href="#mdfbb6a1ec8" x="1974.913333" y="1359" style="stroke: #000000; stroke-width: 3.5"/>
     <use href="#mdfbb6a1ec8" x="2003.41" y="1374.5" style="stroke: #000000; stroke-width: 3.5"/>
     <use href="#mdfbb6a1ec8" x="2031.906667" y="1377.3" style="stroke: #000000; stroke-width: 3.5"/>
     <use href="#mdfbb6a1ec8" x="2060.403333" y="1393.4" style="stroke: #000000; stroke-width: 3.5"/>
     <use href="#mdfbb6a1ec8" x="2088.9" y="1398.4" style="stroke: #000000; stroke-width: 3.5"/>
    </g>
   </g>
   <g id="line2d_283">
    <path d="M 1390.731667 1750.6 
L 1390.731667 1005.1 
" clip-path="url(#p05f88a425f)" style="fill: none; stroke-dasharray: 19,7.35; stroke-dashoffset: 0; stroke: #000000; stroke-width: 5.6"/>
   </g>
   <g id="patch_19">
    <path d="M 1234 1750.6 
L 1234 1005.1 
" style="fill: none; stroke: #000000; stroke-width: 3; stroke-linejoin: miter; stroke-linecap: square"/>
   </g>
   <g id="patch_20">
    <path d="M 2088.9 1750.6 
L 2088.9 1005.1 
" style="fill: none; stroke: #000000; stroke-width: 3; stroke-linejoin: miter; stroke-linecap: square"/>
   </g>
   <g id="patch_21">
    <path d="M 1234 1750.6 
L 2088.9 1750.6 
" style="fill: none; stroke: #000000; stroke-width: 3; stroke-linejoin: miter; stroke-linecap: square"/>
   </g>
   <g id="patch_22">
    <path d="M 1234 1005.1 
L 2088.9 1005.1 
" style="fill: none; stroke: #000000; stroke-width: 3; stroke-linejoin: miter; stroke-linecap: square"/>
   </g>
   <g id="text_67">
    <text style="font-size: 39.9px; font-family: 'DejaVu Sans'; text-anchor: start" x="1234" y="985.1002" transform="rotate(-0 1234 985.1002)">d) 10-20 days wet season with lag 0</text>
   </g>
  </g>
 </g>
 <defs>
  <clipPath id="p8d8c2d2a24">
   <rect x="170.4" y="67.4" width="855.5" height="745.6"/>
  </clipPath>
  <clipPath id="pa740cd5ba5">
   <rect x="1234" y="67.4" width="854.9" height="745.6"/>
  </clipPath>
  <clipPath id="p37978706fa">
   <rect x="170.4" y="1005.1" width="855.5" height="745.5"/>
  </clipPath>
  <clipPath id="p05f88a425f">
   <rect x="1234" y="1005.1" width="854.9" height="745.5"/>
  </clipPath>
 </defs>
</svg>

</body></html>
